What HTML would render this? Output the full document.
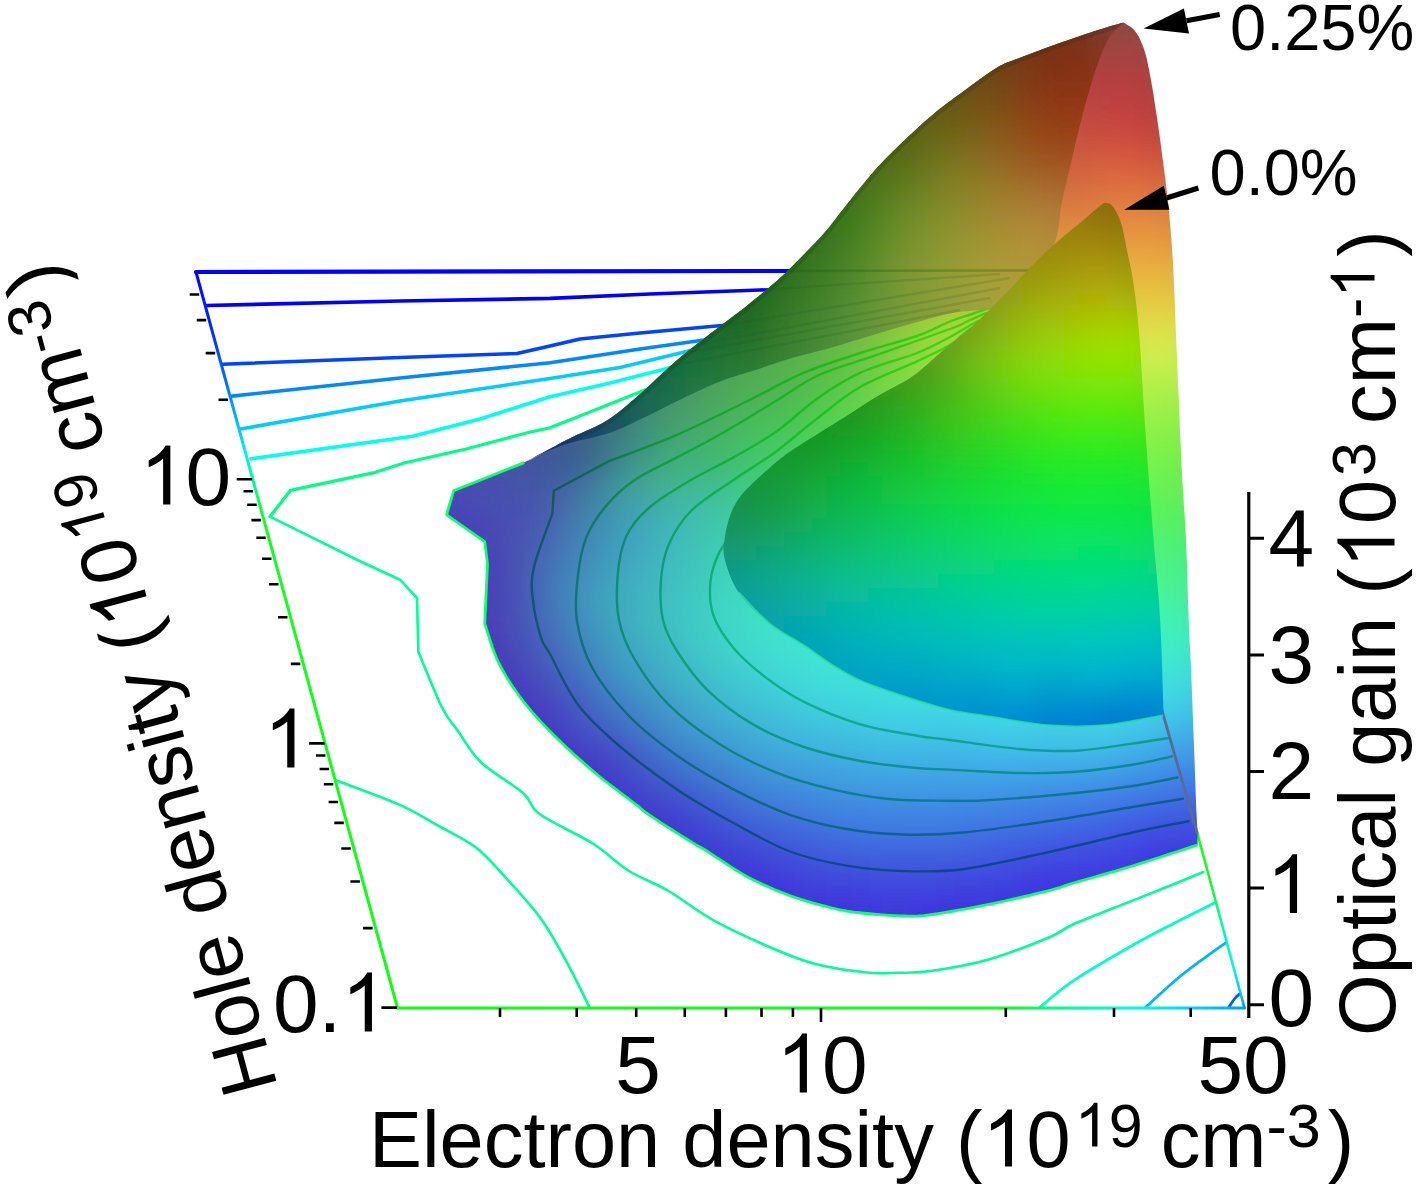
<!DOCTYPE html>
<html><head><meta charset="utf-8"><title>chart</title>
<style>html,body{margin:0;padding:0;background:#fff}svg{display:block}</style></head>
<body>
<svg width="1417" height="1188" viewBox="0 0 1417 1188">
<defs>
<clipPath id="cb"><path d="M453.6 490.8L459.2 488.6L466.9 485.6L476.1 482.0L486.3 478.1L496.7 474.0L506.9 469.9L516.2 466.0L524.2 462.6L530.9 459.5L536.8 456.5L542.2 453.6L547.3 450.7L552.0 448.0L556.8 445.3L561.5 442.6L566.5 440.0L571.7 437.5L576.8 435.1L582.0 432.8L587.0 430.6L592.1 428.3L597.0 426.0L601.8 423.4L606.5 420.7L611.0 417.8L615.3 414.7L619.5 411.5L623.5 408.2L627.6 404.8L631.6 401.3L635.8 397.7L640.0 394.0L644.3 390.2L648.7 386.2L653.1 382.0L657.6 377.8L662.0 373.6L666.5 369.5L671.0 365.4L675.4 361.5L679.8 357.8L684.2 354.1L688.6 350.6L693.1 347.1L697.5 343.6L701.9 340.2L706.3 336.7L710.7 333.3L715.1 329.9L719.5 326.5L723.9 323.2L728.3 319.9L732.8 316.6L737.2 313.3L741.6 309.9L746.0 306.4L750.5 302.8L755.0 299.1L759.6 295.4L764.1 291.6L768.6 287.9L773.0 284.1L777.3 280.4L781.4 276.7L785.4 273.0L789.2 269.3L793.0 265.5L796.7 261.8L800.2 258.2L803.6 254.7L806.8 251.5L809.7 248.4L812.3 245.7L814.6 243.4L816.6 241.3L818.5 239.3L820.4 237.3L822.3 235.2L824.4 232.8L826.7 230.0L829.3 226.9L832.0 223.5L834.8 219.9L837.6 216.2L840.6 212.3L843.7 208.4L846.8 204.4L850.0 200.4L853.3 196.3L856.7 192.1L860.2 187.8L863.8 183.4L867.4 179.0L871.0 174.7L874.6 170.5L878.2 166.5L881.7 162.7L885.3 159.0L888.8 155.4L892.3 151.9L895.9 148.4L899.4 145.0L903.0 141.7L906.5 138.3L910.0 135.0L913.6 131.7L917.1 128.4L920.6 125.2L924.1 122.0L927.7 118.9L931.2 115.9L934.7 112.9L938.2 110.1L941.6 107.4L945.0 104.8L948.4 102.2L951.9 99.7L955.4 97.1L959.1 94.5L962.9 91.7L966.9 88.7L971.2 85.6L975.7 82.3L980.2 79.0L984.7 75.8L989.0 72.8L993.1 70.0L996.8 67.7L1000.0 65.8L1002.8 64.4L1005.2 63.2L1007.6 62.3L1010.0 61.4L1012.6 60.4L1015.7 59.3L1019.4 57.9L1023.7 56.2L1028.6 54.4L1033.8 52.4L1039.3 50.4L1045.0 48.3L1050.7 46.2L1056.3 44.2L1061.7 42.3L1067.1 40.4L1072.8 38.5L1078.6 36.5L1084.3 34.6L1089.8 32.8L1095.0 31.1L1099.8 29.6L1104.0 28.2L1107.7 27.0L1110.9 26.1L1113.8 25.2L1116.4 24.5L1118.6 23.9L1120.5 23.3L1122.2 22.9L1123.5 22.5L1124.4 23.1L1125.6 23.8L1127.1 24.7L1128.7 25.7L1130.4 26.8L1132.1 28.1L1133.6 29.5L1135.0 31.0L1136.2 32.7L1137.4 34.5L1138.6 36.5L1139.7 38.6L1140.7 40.8L1141.7 43.2L1142.7 45.5L1143.6 48.0L1144.4 50.4L1145.2 52.8L1145.9 55.2L1146.5 57.7L1147.1 60.4L1147.8 63.4L1148.4 66.8L1149.2 70.6L1150.0 74.9L1150.9 79.6L1151.8 84.7L1152.7 90.0L1153.6 95.6L1154.5 101.4L1155.4 107.2L1156.3 113.0L1157.2 119.0L1158.1 125.2L1159.0 131.5L1159.9 138.0L1160.8 144.5L1161.6 151.0L1162.5 157.4L1163.3 163.7L1164.1 169.8L1164.9 175.7L1165.6 181.5L1166.3 187.3L1167.0 193.2L1167.7 199.2L1168.4 205.3L1169.0 211.7L1169.6 218.3L1170.2 225.0L1170.7 231.8L1171.3 238.8L1171.8 245.9L1172.3 253.2L1172.8 260.6L1173.2 268.2L1173.6 276.3L1174.0 284.9L1174.4 293.9L1174.8 303.0L1175.1 311.8L1175.4 320.3L1175.7 328.1L1176.0 335.0L1176.2 340.4L1176.4 344.4L1176.5 347.5L1176.7 350.4L1176.8 353.4L1177.0 357.3L1177.2 362.5L1177.5 369.7L1177.9 379.2L1178.4 390.6L1178.9 403.3L1179.4 416.9L1180.0 430.7L1180.6 444.3L1181.2 457.1L1181.7 468.5L1182.2 478.6L1182.8 487.9L1183.4 496.5L1183.9 504.9L1184.5 513.0L1185.0 521.3L1185.5 529.9L1186.0 539.0L1186.4 548.7L1186.8 558.9L1187.1 569.4L1187.4 580.0L1187.7 590.5L1188.0 600.8L1188.4 610.7L1188.7 620.0L1189.0 628.4L1189.4 635.8L1189.7 642.8L1190.1 649.5L1190.4 656.5L1190.8 664.2L1191.2 672.9L1191.6 683.0L1192.1 695.2L1192.6 709.4L1193.2 724.9L1193.8 741.0L1194.4 756.8L1194.9 771.7L1195.4 784.9L1195.8 795.8L1196.1 804.3L1196.4 811.2L1196.7 816.8L1196.9 821.3L1197.1 824.9L1197.3 828.1L1197.4 831.0L1197.5 834.0L1197.6 836.8L1197.6 838.9L1197.6 840.6L1197.6 841.9L1197.6 842.9L1197.5 843.7L1197.5 844.3L1197.5 845.0L1192.4 846.6L1185.6 848.9L1177.5 851.5L1168.6 854.4L1159.1 857.5L1149.7 860.5L1140.6 863.4L1132.3 866.0L1124.4 868.4L1116.3 870.8L1108.2 873.1L1100.3 875.4L1092.7 877.5L1085.6 879.5L1079.1 881.4L1073.5 883.0L1069.1 884.3L1066.0 885.3L1063.8 886.1L1061.9 886.8L1060.0 887.5L1057.7 888.2L1054.5 889.1L1050.0 890.3L1044.1 891.8L1037.2 893.4L1029.6 895.3L1021.4 897.2L1013.0 899.1L1004.6 901.0L996.4 902.8L988.7 904.4L981.2 905.9L973.6 907.4L966.0 908.9L958.4 910.2L951.2 911.5L944.3 912.7L938.0 913.7L932.3 914.5L927.5 915.1L923.6 915.6L920.2 915.9L917.3 916.1L914.4 916.1L911.4 916.1L908.0 916.1L904.0 916.0L899.3 915.9L894.1 915.6L888.6 915.3L882.9 914.9L877.2 914.5L871.7 914.0L866.5 913.5L861.7 913.0L857.5 912.5L853.7 912.1L850.3 911.6L846.9 911.1L843.6 910.5L840.2 909.8L836.5 909.0L832.3 908.0L827.7 906.9L822.9 905.7L817.8 904.3L812.5 902.9L807.2 901.3L801.8 899.7L796.3 897.9L791.0 896.0L785.7 894.0L780.2 891.9L774.8 889.7L769.3 887.3L763.8 884.9L758.3 882.3L752.9 879.7L747.6 876.9L742.2 873.9L736.6 870.5L730.9 866.9L725.3 863.2L719.9 859.6L714.9 856.3L710.4 853.3L706.5 850.8L703.5 849.0L701.4 847.8L699.9 846.9L698.7 846.3L697.6 845.7L696.1 844.9L694.0 843.6L691.0 841.8L686.9 839.2L681.9 836.1L676.4 832.6L670.5 828.8L664.6 825.1L659.0 821.5L654.1 818.2L650.0 815.5L647.0 813.4L644.9 811.9L643.3 810.7L642.1 809.6L640.9 808.6L639.5 807.3L637.5 805.7L634.7 803.5L631.1 800.8L627.0 797.7L622.5 794.3L617.7 790.7L612.7 786.9L607.6 783.0L602.5 779.0L597.6 775.0L592.7 770.9L587.7 766.6L582.7 762.1L577.6 757.6L572.5 753.0L567.6 748.4L562.7 743.8L558.0 739.2L553.4 734.7L548.9 730.2L544.5 725.6L540.2 721.1L536.0 716.5L531.9 711.9L528.0 707.2L524.2 702.5L520.5 697.7L517.0 692.8L513.6 687.9L510.3 682.9L507.1 677.9L504.2 672.9L501.4 668.0L498.8 663.0L496.4 657.8L494.2 652.2L492.1 646.5L490.2 640.8L488.5 635.4L487.0 630.6L485.7 626.5L484.7 623.5L487.5 564.2L484.7 541.6L446.6 514.8L453.6 490.8Z"/></clipPath>
<clipPath id="ck"><path d="M524.2 462.6L527.5 460.8L531.9 458.5L537.1 455.6L542.9 452.5L548.9 449.2L555.1 445.9L561.0 442.8L566.5 440.0L571.7 437.5L576.8 435.1L582.0 432.8L587.0 430.6L592.1 428.3L597.0 426.0L601.8 423.4L606.5 420.7L611.0 417.8L615.3 414.7L619.5 411.5L623.5 408.2L627.6 404.8L631.6 401.3L635.8 397.7L640.0 394.0L644.3 390.2L648.7 386.2L653.1 382.0L657.6 377.8L662.0 373.6L666.5 369.5L671.0 365.4L675.4 361.5L679.8 357.8L684.2 354.1L688.6 350.6L693.1 347.1L697.5 343.6L701.9 340.2L706.3 336.7L710.7 333.3L715.1 329.9L719.5 326.5L723.9 323.2L728.3 319.9L732.8 316.6L737.2 313.3L741.6 309.9L746.0 306.4L750.5 302.8L755.0 299.1L759.6 295.4L764.1 291.6L768.6 287.9L773.0 284.1L777.3 280.4L781.4 276.7L785.4 273.0L789.2 269.3L793.0 265.5L796.7 261.8L800.2 258.2L803.6 254.7L806.8 251.5L809.7 248.4L812.3 245.7L814.6 243.4L816.6 241.3L818.5 239.3L820.4 237.3L822.3 235.2L824.4 232.8L826.7 230.0L829.3 226.9L832.0 223.5L834.8 219.9L837.6 216.2L840.6 212.3L843.7 208.4L846.8 204.4L850.0 200.4L853.3 196.3L856.7 192.1L860.2 187.8L863.8 183.4L867.4 179.0L871.0 174.7L874.6 170.5L878.2 166.5L881.7 162.7L885.3 159.0L888.8 155.4L892.3 151.9L895.9 148.4L899.4 145.0L903.0 141.7L906.5 138.3L910.0 135.0L913.6 131.7L917.1 128.4L920.6 125.2L924.1 122.0L927.7 118.9L931.2 115.9L934.7 112.9L938.2 110.1L941.6 107.4L945.0 104.8L948.4 102.2L951.9 99.7L955.4 97.1L959.1 94.5L962.9 91.7L966.9 88.7L971.2 85.6L975.7 82.3L980.2 79.0L984.7 75.8L989.0 72.8L993.1 70.0L996.8 67.7L1000.0 65.8L1002.8 64.4L1005.2 63.2L1007.6 62.3L1010.0 61.4L1012.6 60.4L1015.7 59.3L1019.4 57.9L1023.7 56.2L1028.6 54.4L1033.8 52.4L1039.3 50.4L1045.0 48.3L1050.7 46.2L1056.3 44.2L1061.7 42.3L1067.1 40.4L1072.8 38.5L1078.6 36.5L1084.3 34.6L1089.8 32.8L1095.0 31.1L1099.8 29.6L1104.0 28.2L1107.7 27.0L1110.9 26.1L1113.8 25.2L1116.4 24.5L1118.6 23.9L1120.5 23.3L1122.2 22.9L1123.5 22.5L1122.4 23.5L1121.0 24.8L1119.2 26.3L1117.3 28.0L1115.3 29.9L1113.3 32.0L1111.4 34.3L1109.7 36.7L1108.2 39.3L1106.7 42.1L1105.2 45.2L1103.8 48.3L1102.4 51.7L1101.1 55.1L1099.7 58.6L1098.4 62.1L1097.1 65.7L1095.8 69.3L1094.6 73.1L1093.4 76.9L1092.1 80.9L1090.9 84.9L1089.7 89.0L1088.5 93.2L1087.3 97.5L1086.0 102.0L1084.8 106.6L1083.5 111.2L1082.3 115.9L1081.1 120.6L1079.9 125.3L1078.7 129.9L1077.6 134.5L1076.5 139.1L1075.4 143.6L1074.4 148.2L1073.3 152.8L1072.3 157.3L1071.3 161.9L1070.2 166.5L1069.1 171.1L1068.0 175.6L1066.9 180.1L1065.9 184.7L1064.8 189.2L1063.7 193.8L1062.7 198.5L1061.7 203.2L1060.9 208.0L1060.2 212.9L1059.7 217.9L1059.1 222.8L1058.4 227.9L1057.5 232.9L1056.3 237.8L1054.7 242.8L1052.7 247.8L1050.4 253.0L1047.9 258.2L1045.2 263.3L1042.2 268.4L1039.0 273.2L1035.6 277.8L1032.0 282.0L1028.2 285.9L1024.2 289.6L1019.9 293.0L1015.5 296.3L1010.8 299.2L1006.0 302.0L1001.1 304.4L996.0 306.5L990.8 308.1L985.6 309.2L980.2 309.9L974.6 310.4L968.8 310.9L962.8 311.4L956.6 312.2L950.0 313.4L943.0 315.0L935.6 316.9L927.9 319.0L920.0 321.2L912.0 323.5L904.0 325.8L896.2 328.1L888.7 330.3L881.3 332.5L873.9 334.7L866.6 336.9L859.3 339.2L852.2 341.3L845.3 343.4L838.6 345.4L832.3 347.3L826.3 349.0L820.4 350.6L814.9 352.0L809.5 353.4L804.3 354.7L799.4 356.0L794.6 357.3L790.0 358.6L785.7 359.9L781.9 361.1L778.3 362.3L774.8 363.4L771.4 364.6L767.9 365.8L764.1 367.1L760.0 368.5L755.5 369.9L750.7 371.4L745.7 373.0L740.5 374.5L735.3 376.2L730.2 377.8L725.1 379.6L720.2 381.4L715.5 383.3L710.8 385.3L706.2 387.3L701.7 389.4L697.1 391.5L692.6 393.7L688.1 395.8L683.5 398.0L678.9 400.2L674.3 402.5L669.7 404.8L665.2 407.1L660.6 409.4L656.0 411.7L651.4 414.0L646.8 416.2L642.2 418.4L637.6 420.6L633.0 422.9L628.4 425.1L623.8 427.2L619.2 429.2L614.6 431.1L610.0 432.8L605.3 434.3L600.6 435.6L595.8 436.8L591.0 437.9L586.3 438.9L581.8 439.9L577.4 440.9L573.4 442.0L569.7 443.1L566.2 444.2L563.0 445.3L559.9 446.3L556.9 447.4L554.0 448.6L551.0 449.8L548.0 451.0L544.8 452.4L541.4 454.0L537.9 455.7L534.5 457.4L531.3 459.0L528.4 460.5L526.0 461.7L524.2 462.6Z"/></clipPath>
<clipPath id="cs"><path d="M1104.0 202.7L1103.1 203.4L1101.9 204.4L1100.5 205.5L1099.0 206.7L1097.4 208.1L1095.7 209.4L1094.2 210.6L1092.8 211.8L1091.7 212.8L1090.8 213.5L1090.1 214.2L1089.3 214.9L1088.4 215.7L1087.2 216.8L1085.6 218.2L1083.4 220.0L1080.6 222.4L1077.2 225.2L1073.3 228.3L1069.2 231.7L1064.9 235.2L1060.7 238.7L1056.7 242.2L1053.0 245.4L1049.6 248.5L1046.2 251.6L1043.0 254.8L1039.8 257.9L1036.7 260.9L1033.7 263.9L1030.8 266.9L1028.0 269.7L1025.3 272.5L1022.8 275.2L1020.3 277.8L1018.0 280.4L1015.7 282.9L1013.5 285.4L1011.3 287.7L1009.2 290.0L1007.2 292.1L1005.3 294.0L1003.5 295.8L1001.8 297.5L1000.0 299.3L998.2 301.1L996.2 303.0L994.0 305.2L991.6 307.5L989.2 310.0L986.6 312.6L983.9 315.2L981.1 317.9L978.2 320.7L975.2 323.5L972.0 326.4L968.7 329.3L965.1 332.3L961.4 335.4L957.6 338.5L953.8 341.6L949.9 344.7L946.1 347.9L942.3 351.0L938.6 354.2L935.0 357.4L931.5 360.6L927.9 363.9L924.2 367.1L920.6 370.2L916.8 373.2L912.9 376.1L908.9 378.7L904.9 381.2L900.7 383.5L896.5 385.7L892.3 388.0L887.9 390.3L883.5 392.7L879.0 395.3L874.4 398.1L869.6 401.1L864.8 404.1L859.9 407.3L854.9 410.5L849.9 413.7L845.0 416.9L840.0 420.0L834.9 423.2L829.6 426.5L824.2 429.8L818.8 433.2L813.6 436.4L808.6 439.5L804.0 442.4L800.0 445.0L796.6 447.2L793.7 449.1L791.3 450.7L789.1 452.2L787.0 453.6L784.9 455.2L782.6 456.9L780.0 459.0L777.0 461.4L773.9 464.1L770.6 466.9L767.2 469.9L763.9 472.8L760.7 475.7L757.7 478.5L755.0 481.0L752.6 483.3L750.4 485.4L748.4 487.4L746.5 489.3L744.8 491.2L743.1 493.1L741.5 495.0L740.0 497.0L738.5 499.0L737.2 501.0L735.9 503.0L734.8 505.0L733.7 507.0L732.6 509.2L731.7 511.4L730.7 513.8L729.8 516.4L728.9 519.1L728.1 521.9L727.3 524.8L726.6 527.7L726.0 530.6L725.4 533.6L725.0 536.4L724.6 539.1L724.2 541.7L723.8 544.2L723.6 546.8L723.5 549.4L723.6 552.2L723.9 555.3L724.6 558.6L725.6 562.3L726.7 566.3L728.1 570.5L729.7 574.9L731.5 579.4L733.6 583.8L736.0 588.2L738.7 592.4L741.8 596.5L745.3 600.7L749.1 604.9L753.1 609.0L757.3 613.0L761.6 616.9L765.8 620.6L770.0 624.0L774.2 627.2L778.4 630.1L782.8 632.9L787.2 635.5L791.5 638.0L795.8 640.4L800.0 642.9L804.0 645.4L807.8 648.0L811.5 650.5L815.0 653.1L818.5 655.6L821.9 658.0L825.4 660.4L828.8 662.7L832.3 665.0L835.7 667.2L839.0 669.2L842.3 671.2L845.5 673.1L848.9 675.0L852.5 676.9L856.3 678.8L860.5 680.7L865.1 682.6L870.0 684.6L875.2 686.5L880.5 688.5L886.0 690.4L891.6 692.3L897.3 694.2L902.9 696.0L908.6 697.9L914.5 699.8L920.5 701.7L926.5 703.5L932.6 705.3L938.5 707.0L944.4 708.6L950.0 710.0L955.3 711.2L960.3 712.2L965.1 713.0L969.9 713.7L974.8 714.4L979.8 715.1L985.2 715.9L991.0 716.8L997.3 717.8L1004.1 719.0L1011.1 720.2L1018.3 721.5L1025.7 722.7L1033.1 723.7L1040.4 724.6L1047.6 725.3L1054.6 725.8L1061.6 726.1L1068.6 726.4L1075.6 726.4L1082.6 726.4L1089.7 726.2L1096.8 725.8L1104.0 725.3L1111.7 724.5L1120.0 723.3L1128.6 721.9L1137.2 720.4L1145.3 718.8L1152.6 717.4L1158.7 716.2L1163.3 715.4L1163.3 715.1L1163.4 715.2L1163.4 715.4L1163.5 715.4L1163.5 714.7L1163.5 713.1L1163.4 710.1L1163.3 705.5L1163.1 698.8L1162.8 690.1L1162.5 679.9L1162.2 668.9L1161.8 657.5L1161.4 646.3L1160.9 635.8L1160.5 626.5L1160.0 618.2L1159.5 610.2L1159.0 602.5L1158.4 595.2L1157.8 588.3L1157.3 581.8L1156.8 575.7L1156.3 570.0L1155.9 565.5L1155.6 562.4L1155.4 560.1L1155.2 558.0L1154.9 555.5L1154.6 551.9L1154.1 546.6L1153.5 539.0L1152.7 528.6L1151.7 516.0L1150.6 501.6L1149.4 486.2L1148.2 470.3L1147.1 454.6L1146.0 439.6L1145.0 426.0L1144.2 413.4L1143.4 400.9L1142.7 388.8L1142.0 377.0L1141.3 365.7L1140.7 355.0L1140.0 345.0L1139.3 335.8L1138.6 327.5L1137.9 320.0L1137.3 313.2L1136.6 307.1L1135.9 301.3L1135.2 295.8L1134.5 290.4L1133.7 285.0L1132.9 279.7L1132.0 274.6L1131.1 269.7L1130.2 265.1L1129.2 260.7L1128.3 256.4L1127.4 252.3L1126.6 248.4L1125.8 244.6L1125.2 241.1L1124.5 237.7L1123.9 234.5L1123.2 231.4L1122.6 228.5L1121.8 225.7L1121.0 223.0L1120.1 220.4L1119.1 217.8L1118.0 215.4L1116.9 213.1L1115.8 211.0L1114.7 209.1L1113.6 207.4L1112.5 206.0L1111.4 204.9L1110.2 204.1L1108.9 203.6L1107.7 203.3L1106.6 203.1L1105.5 203.0L1104.7 202.9L1104.0 202.7Z"/></clipPath>
<filter id="bl" filterUnits="userSpaceOnUse" x="0" y="0" width="1417" height="1188"><feGaussianBlur stdDeviation="11"/><feComponentTransfer><feFuncA type="linear" slope="8"/></feComponentTransfer></filter>
<linearGradient id="gl" gradientUnits="userSpaceOnUse" x1="0" y1="272" x2="0" y2="1008"><stop offset="0" stop-color="#0000ff"/><stop offset="0.08" stop-color="#0030ff"/><stop offset="0.15" stop-color="#0070ff"/><stop offset="0.2" stop-color="#00b8ff"/><stop offset="0.245" stop-color="#00f0f0"/><stop offset="0.285" stop-color="#00ff90"/><stop offset="0.34" stop-color="#10ff20"/><stop offset="1" stop-color="#10ff10"/></linearGradient>
<linearGradient id="gb" gradientUnits="userSpaceOnUse" x1="397" y1="0" x2="1245" y2="0"><stop offset="0" stop-color="#10ff10"/><stop offset="0.72" stop-color="#10ff20"/><stop offset="0.78" stop-color="#00ff90"/><stop offset="0.87" stop-color="#00ffe0"/><stop offset="0.93" stop-color="#00d8ff"/><stop offset="1" stop-color="#00a0ff"/></linearGradient>
<linearGradient id="gr" gradientUnits="userSpaceOnUse" x1="0" y1="834" x2="0" y2="1008"><stop offset="0" stop-color="#10ff10"/><stop offset="0.3" stop-color="#10ff30"/><stop offset="0.5" stop-color="#00ff98"/><stop offset="0.75" stop-color="#00f8f0"/><stop offset="0.92" stop-color="#00c8ff"/><stop offset="1" stop-color="#0090ff"/></linearGradient>
<linearGradient id="gc" gradientUnits="userSpaceOnUse" x1="0" y1="320" x2="0" y2="560"><stop offset="0" stop-color="#60ff50"/><stop offset="0.5" stop-color="#54f080"/><stop offset="1" stop-color="#40d8a0"/></linearGradient>
</defs>
<rect width="1417" height="1188" fill="#fff"/>
<g fill="none" stroke-linejoin="round" stroke-linecap="round">
<path d="M196.0 272.0L1040.0 270.5" stroke="#0000ff" stroke-width="4.2"/>
<path d="M206.5 305.5L400.0 301.0L550.0 298.4L650.0 294.0L760.0 290.0L860.0 287.0" stroke="#0000ff" stroke-width="3.6"/>
<path d="M222.8 364.2L400.0 357.5L517.0 353.5L550.0 345.9L580.0 339.0L640.0 333.0L760.0 322.0" stroke="#0044ff" stroke-width="3.6"/>
<path d="M231.9 396.1L400.0 378.0L550.0 362.8L640.0 349.0L740.0 335.0" stroke="#0088ff" stroke-width="3.6"/>
<path d="M240.3 429.1L400.0 401.0L550.0 378.5L620.0 367.5L730.0 341.0" stroke="#00ccff" stroke-width="3.6"/>
<path d="M250.8 458.8L412.5 436.2L480.0 419.0L550.0 396.7L610.0 383.0L720.0 355.0" stroke="#00ffee" stroke-width="3.6"/>
<path d="M270.0 516.6L290.3 490.4L373.0 472.9L404.0 463.0L466.0 449.0L528.3 432.5L550.0 427.7L600.0 408.0L690.0 372.0" stroke="#00ff88" stroke-width="3.2"/>
<path d="M270.0 516.6L357.5 560.0L400.0 579.7L417.0 598.0L418.3 651.7L418.3 651.7C422.3 661.1 435.7 694.8 442.3 708.0C448.9 721.2 451.6 722.0 458.0 731.0C464.4 740.0 469.9 751.7 480.7 762.0C491.5 772.3 513.1 784.3 523.0 793.0C532.9 801.7 528.2 805.8 540.0 814.3C551.8 822.8 578.8 834.5 593.6 844.0C608.4 853.5 616.5 863.2 629.0 871.0C641.5 878.8 653.3 882.1 668.6 891.0C683.9 899.9 697.8 912.5 720.6 924.2C743.4 935.9 781.3 953.0 805.3 961.0C829.3 969.0 849.0 970.2 864.5 972.2C880.0 974.2 887.1 973.0 898.4 972.8C909.7 972.6 917.2 973.0 932.3 970.8C947.3 968.6 969.1 965.1 988.7 959.5C1008.3 953.9 1035.9 942.9 1050.0 937.0C1064.1 931.1 1060.2 930.1 1073.5 924.2C1086.8 918.3 1113.5 908.2 1130.0 901.6C1146.5 895.0 1160.1 889.6 1172.3 884.7C1184.5 879.8 1198.1 874.1 1203.3 872.0" stroke="#00ff96" stroke-width="2.6"/>
<path d="M336.7 780.5C347.1 784.5 382.3 797.1 398.8 804.4C415.3 811.7 422.8 817.1 435.5 824.2C448.2 831.3 463.7 838.3 475.0 846.8C486.3 855.3 492.5 863.2 503.3 875.0C514.1 886.8 529.6 903.3 540.0 917.4C550.4 931.5 557.2 944.8 565.4 959.7C573.6 974.6 585.4 999.1 589.4 1007.0" stroke="#00ff96" stroke-width="2.6"/>
<path d="M1039.6 1007.5C1045.2 1003.0 1058.4 990.8 1073.5 980.7C1088.6 970.6 1113.5 956.2 1130.0 946.8C1146.5 937.4 1158.2 931.5 1172.3 924.2C1186.4 916.9 1207.5 906.5 1214.6 903.0" stroke="#00ffcc" stroke-width="2.8"/>
<path d="M1145.4 1007.5C1150.3 1003.0 1165.8 988.5 1175.0 980.7C1184.2 972.9 1192.0 967.2 1200.5 960.9C1209.0 954.5 1221.7 945.6 1225.9 942.6" stroke="#00b4ff" stroke-width="2.8"/>
<path d="M1228.7 1007.5C1229.7 1006.1 1232.5 1001.4 1234.4 999.0C1236.3 996.6 1239.1 994.3 1240.0 993.4" stroke="#0060ff" stroke-width="2.8"/>
<path d="M196.0 272.0L397.5 1008.0" stroke="url(#gl)" stroke-width="3"/>
<path d="M397.5 1008.0L1244.5 1008.0" stroke="url(#gb)" stroke-width="2.8"/>
<path d="M1197.5 834.0L1244.5 1008.0" stroke="url(#gr)" stroke-width="2.6"/>
</g>
<g clip-path="url(#cb)">
<g filter="url(#bl)">
<path d="M1120 0h15v15h-15z" fill="#8e4740"/>
<path d="M1078 14h15v15h-15z" fill="#94473e"/>
<path d="M1092 14h15v15h-15z" fill="#92473f"/>
<path d="M1106 14h15v15h-15z" fill="#90473f"/>
<path d="M1120 14h15v15h-15z" fill="#904740"/>
<path d="M1134 14h15v15h-15z" fill="#934741"/>
<path d="M1036 28h15v15h-15z" fill="#9c4a3e"/>
<path d="M1050 28h15v15h-15z" fill="#9b483e"/>
<path d="M1064 28h15v15h-15z" fill="#9a473e"/>
<path d="M1078 28h15v15h-15z" fill="#99463f"/>
<path d="M1092 28h15v15h-15z" fill="#96463f"/>
<path d="M1106 28h15v15h-15z" fill="#934740"/>
<path d="M1120 28h15v15h-15z" fill="#944741"/>
<path d="M1134 28h15v15h-15z" fill="#984642"/>
<path d="M994 42h15v15h-15z" fill="#9e503d"/>
<path d="M1008 42h15v15h-15z" fill="#9f4e3d"/>
<path d="M1022 42h15v15h-15z" fill="#a04c3e"/>
<path d="M1036 42h15v15h-15z" fill="#a04a3e"/>
<path d="M1050 42h15v15h-15z" fill="#a0483e"/>
<path d="M1064 42h15v15h-15z" fill="#a0473f"/>
<path d="M1078 42h15v15h-15z" fill="#9f463f"/>
<path d="M1092 42h15v15h-15z" fill="#9e453f"/>
<path d="M1106 42h15v15h-15z" fill="#9c4540"/>
<path d="M1120 42h15v15h-15z" fill="#9f4444"/>
<path d="M1134 42h15v15h-15z" fill="#a04443"/>
<path d="M1148 42h15v15h-15z" fill="#a04442"/>
<path d="M980 56h15v15h-15z" fill="#a0553d"/>
<path d="M994 56h15v15h-15z" fill="#a1523d"/>
<path d="M1008 56h15v15h-15z" fill="#a3503d"/>
<path d="M1022 56h15v15h-15z" fill="#a44e3e"/>
<path d="M1036 56h15v15h-15z" fill="#a54b3e"/>
<path d="M1050 56h15v15h-15z" fill="#a6493e"/>
<path d="M1064 56h15v15h-15z" fill="#a6463f"/>
<path d="M1078 56h15v15h-15z" fill="#a7443f"/>
<path d="M1092 56h15v15h-15z" fill="#a84340"/>
<path d="M1106 56h15v15h-15z" fill="#a94241"/>
<path d="M1120 56h15v15h-15z" fill="#aa4242"/>
<path d="M1134 56h15v15h-15z" fill="#a94242"/>
<path d="M1148 56h15v15h-15z" fill="#a74342"/>
<path d="M952 70h15v15h-15z" fill="#9f5c3d"/>
<path d="M966 70h15v15h-15z" fill="#a15a3d"/>
<path d="M980 70h15v15h-15z" fill="#a3573d"/>
<path d="M994 70h15v15h-15z" fill="#a5553d"/>
<path d="M1008 70h15v15h-15z" fill="#a7523d"/>
<path d="M1022 70h15v15h-15z" fill="#a94f3e"/>
<path d="M1036 70h15v15h-15z" fill="#aa4c3e"/>
<path d="M1050 70h15v15h-15z" fill="#ac493e"/>
<path d="M1064 70h15v15h-15z" fill="#ad473f"/>
<path d="M1078 70h15v15h-15z" fill="#af443f"/>
<path d="M1092 70h15v15h-15z" fill="#b14140"/>
<path d="M1106 70h15v15h-15z" fill="#b34040"/>
<path d="M1120 70h15v15h-15z" fill="#b54040"/>
<path d="M1134 70h15v15h-15z" fill="#b04141"/>
<path d="M1148 70h15v15h-15z" fill="#ac4241"/>
<path d="M938 84h15v15h-15z" fill="#9e613d"/>
<path d="M952 84h15v15h-15z" fill="#a15f3d"/>
<path d="M966 84h15v15h-15z" fill="#a45d3d"/>
<path d="M980 84h15v15h-15z" fill="#a65a3d"/>
<path d="M994 84h15v15h-15z" fill="#a9583d"/>
<path d="M1008 84h15v15h-15z" fill="#ab553d"/>
<path d="M1022 84h15v15h-15z" fill="#ad523e"/>
<path d="M1036 84h15v15h-15z" fill="#af4e3e"/>
<path d="M1050 84h15v15h-15z" fill="#b14b3f"/>
<path d="M1064 84h15v15h-15z" fill="#b3473f"/>
<path d="M1078 84h15v15h-15z" fill="#b5443f"/>
<path d="M1092 84h15v15h-15z" fill="#b84140"/>
<path d="M1106 84h15v15h-15z" fill="#ba4040"/>
<path d="M1120 84h15v15h-15z" fill="#ba4040"/>
<path d="M1134 84h15v15h-15z" fill="#b34040"/>
<path d="M1148 84h15v15h-15z" fill="#b04140"/>
<path d="M924 98h15v15h-15z" fill="#9d673d"/>
<path d="M938 98h15v15h-15z" fill="#a1653d"/>
<path d="M952 98h15v15h-15z" fill="#a4633d"/>
<path d="M966 98h15v15h-15z" fill="#a7613d"/>
<path d="M980 98h15v15h-15z" fill="#aa5e3d"/>
<path d="M994 98h15v15h-15z" fill="#ac5b3d"/>
<path d="M1008 98h15v15h-15z" fill="#af583d"/>
<path d="M1022 98h15v15h-15z" fill="#b2553e"/>
<path d="M1036 98h15v15h-15z" fill="#b4513e"/>
<path d="M1050 98h15v15h-15z" fill="#b74d3f"/>
<path d="M1064 98h15v15h-15z" fill="#b9493f"/>
<path d="M1078 98h15v15h-15z" fill="#bb4640"/>
<path d="M1092 98h15v15h-15z" fill="#be4340"/>
<path d="M1106 98h15v15h-15z" fill="#c04140"/>
<path d="M1120 98h15v15h-15z" fill="#bf4140"/>
<path d="M1134 98h15v15h-15z" fill="#ba4140"/>
<path d="M1148 98h15v15h-15z" fill="#b64240"/>
<path d="M1162 98h15v15h-15z" fill="#b54441"/>
<path d="M910 112h15v15h-15z" fill="#9c6c3d"/>
<path d="M924 112h15v15h-15z" fill="#9f6b3d"/>
<path d="M938 112h15v15h-15z" fill="#a3693c"/>
<path d="M952 112h15v15h-15z" fill="#a6673c"/>
<path d="M966 112h15v15h-15z" fill="#aa653d"/>
<path d="M980 112h15v15h-15z" fill="#ad623d"/>
<path d="M994 112h15v15h-15z" fill="#b05f3d"/>
<path d="M1008 112h15v15h-15z" fill="#b35c3d"/>
<path d="M1022 112h15v15h-15z" fill="#b6583e"/>
<path d="M1036 112h15v15h-15z" fill="#b9553e"/>
<path d="M1050 112h15v15h-15z" fill="#bc513f"/>
<path d="M1064 112h15v15h-15z" fill="#be4d3f"/>
<path d="M1078 112h15v15h-15z" fill="#c04940"/>
<path d="M1092 112h15v15h-15z" fill="#c34540"/>
<path d="M1106 112h15v15h-15z" fill="#c64540"/>
<path d="M1120 112h15v15h-15z" fill="#c74440"/>
<path d="M1134 112h15v15h-15z" fill="#c14340"/>
<path d="M1148 112h15v15h-15z" fill="#bc4340"/>
<path d="M1162 112h15v15h-15z" fill="#ba4640"/>
<path d="M896 126h15v15h-15z" fill="#99723d"/>
<path d="M910 126h15v15h-15z" fill="#9d713d"/>
<path d="M924 126h15v15h-15z" fill="#a1703c"/>
<path d="M938 126h15v15h-15z" fill="#a56e3c"/>
<path d="M952 126h15v15h-15z" fill="#a96c3c"/>
<path d="M966 126h15v15h-15z" fill="#ac6a3c"/>
<path d="M980 126h15v15h-15z" fill="#b0673d"/>
<path d="M994 126h15v15h-15z" fill="#b4643d"/>
<path d="M1008 126h15v15h-15z" fill="#b7613d"/>
<path d="M1022 126h15v15h-15z" fill="#ba5d3e"/>
<path d="M1036 126h15v15h-15z" fill="#be593e"/>
<path d="M1050 126h15v15h-15z" fill="#c1563f"/>
<path d="M1064 126h15v15h-15z" fill="#c3523f"/>
<path d="M1078 126h15v15h-15z" fill="#c64e40"/>
<path d="M1092 126h15v15h-15z" fill="#c94c40"/>
<path d="M1106 126h15v15h-15z" fill="#cb4b40"/>
<path d="M1120 126h15v15h-15z" fill="#cb4940"/>
<path d="M1134 126h15v15h-15z" fill="#c64740"/>
<path d="M1148 126h15v15h-15z" fill="#c14640"/>
<path d="M1162 126h15v15h-15z" fill="#c04a40"/>
<path d="M882 140h15v15h-15z" fill="#96783d"/>
<path d="M896 140h15v15h-15z" fill="#9a773d"/>
<path d="M910 140h15v15h-15z" fill="#9e763c"/>
<path d="M924 140h15v15h-15z" fill="#a2753c"/>
<path d="M938 140h15v15h-15z" fill="#a7733c"/>
<path d="M952 140h15v15h-15z" fill="#ab713c"/>
<path d="M966 140h15v15h-15z" fill="#af6f3c"/>
<path d="M980 140h15v15h-15z" fill="#b36c3d"/>
<path d="M994 140h15v15h-15z" fill="#b7693d"/>
<path d="M1008 140h15v15h-15z" fill="#bb663d"/>
<path d="M1022 140h15v15h-15z" fill="#be633e"/>
<path d="M1036 140h15v15h-15z" fill="#c25f3e"/>
<path d="M1050 140h15v15h-15z" fill="#c55b3f"/>
<path d="M1064 140h15v15h-15z" fill="#c8583f"/>
<path d="M1078 140h15v15h-15z" fill="#cc5540"/>
<path d="M1092 140h15v15h-15z" fill="#cf5440"/>
<path d="M1106 140h15v15h-15z" fill="#d15340"/>
<path d="M1120 140h15v15h-15z" fill="#d15140"/>
<path d="M1134 140h15v15h-15z" fill="#cd4f40"/>
<path d="M1148 140h15v15h-15z" fill="#ca4e40"/>
<path d="M1162 140h15v15h-15z" fill="#c75040"/>
<path d="M868 154h15v15h-15z" fill="#937d3d"/>
<path d="M882 154h15v15h-15z" fill="#977d3d"/>
<path d="M896 154h15v15h-15z" fill="#9b7c3c"/>
<path d="M910 154h15v15h-15z" fill="#9f7c3c"/>
<path d="M924 154h15v15h-15z" fill="#a47a3c"/>
<path d="M938 154h15v15h-15z" fill="#a8793c"/>
<path d="M952 154h15v15h-15z" fill="#ad773c"/>
<path d="M966 154h15v15h-15z" fill="#b1753c"/>
<path d="M980 154h15v15h-15z" fill="#b5723c"/>
<path d="M994 154h15v15h-15z" fill="#ba703d"/>
<path d="M1008 154h15v15h-15z" fill="#be6c3d"/>
<path d="M1022 154h15v15h-15z" fill="#c2693e"/>
<path d="M1036 154h15v15h-15z" fill="#c6653e"/>
<path d="M1050 154h15v15h-15z" fill="#ca623f"/>
<path d="M1064 154h15v15h-15z" fill="#cd5f40"/>
<path d="M1078 154h15v15h-15z" fill="#d05d40"/>
<path d="M1092 154h15v15h-15z" fill="#d45c40"/>
<path d="M1106 154h15v15h-15z" fill="#d75d40"/>
<path d="M1120 154h15v15h-15z" fill="#d75b40"/>
<path d="M1134 154h15v15h-15z" fill="#d45940"/>
<path d="M1148 154h15v15h-15z" fill="#d15740"/>
<path d="M1162 154h15v15h-15z" fill="#ce5840"/>
<path d="M854 168h15v15h-15z" fill="#8e813e"/>
<path d="M868 168h15v15h-15z" fill="#93823d"/>
<path d="M882 168h15v15h-15z" fill="#97823d"/>
<path d="M896 168h15v15h-15z" fill="#9c823c"/>
<path d="M910 168h15v15h-15z" fill="#a0813c"/>
<path d="M924 168h15v15h-15z" fill="#a5803c"/>
<path d="M938 168h15v15h-15z" fill="#aa7f3c"/>
<path d="M952 168h15v15h-15z" fill="#ae7e3c"/>
<path d="M966 168h15v15h-15z" fill="#b37c3c"/>
<path d="M980 168h15v15h-15z" fill="#b8793c"/>
<path d="M994 168h15v15h-15z" fill="#bd763d"/>
<path d="M1008 168h15v15h-15z" fill="#c1733d"/>
<path d="M1022 168h15v15h-15z" fill="#c6703e"/>
<path d="M1036 168h15v15h-15z" fill="#ca6c3f"/>
<path d="M1050 168h15v15h-15z" fill="#ce693f"/>
<path d="M1064 168h15v15h-15z" fill="#d16640"/>
<path d="M1078 168h15v15h-15z" fill="#d56540"/>
<path d="M1092 168h15v15h-15z" fill="#d86640"/>
<path d="M1106 168h15v15h-15z" fill="#da6640"/>
<path d="M1120 168h15v15h-15z" fill="#db6640"/>
<path d="M1134 168h15v15h-15z" fill="#d96440"/>
<path d="M1148 168h15v15h-15z" fill="#d66140"/>
<path d="M1162 168h15v15h-15z" fill="#d36240"/>
<path d="M840 182h15v15h-15z" fill="#8a853f"/>
<path d="M854 182h15v15h-15z" fill="#8e863e"/>
<path d="M868 182h15v15h-15z" fill="#92873d"/>
<path d="M882 182h15v15h-15z" fill="#97883c"/>
<path d="M896 182h15v15h-15z" fill="#9c883c"/>
<path d="M910 182h15v15h-15z" fill="#a1873c"/>
<path d="M924 182h15v15h-15z" fill="#a6873b"/>
<path d="M938 182h15v15h-15z" fill="#ab863b"/>
<path d="M952 182h15v15h-15z" fill="#b0843b"/>
<path d="M966 182h15v15h-15z" fill="#b5833c"/>
<path d="M980 182h15v15h-15z" fill="#ba803c"/>
<path d="M994 182h15v15h-15z" fill="#bf7e3d"/>
<path d="M1008 182h15v15h-15z" fill="#c47b3d"/>
<path d="M1022 182h15v15h-15z" fill="#c9773e"/>
<path d="M1036 182h15v15h-15z" fill="#cd743f"/>
<path d="M1050 182h15v15h-15z" fill="#d1713f"/>
<path d="M1064 182h15v15h-15z" fill="#d56e40"/>
<path d="M1078 182h15v15h-15z" fill="#d86e40"/>
<path d="M1092 182h15v15h-15z" fill="#db6f40"/>
<path d="M1106 182h15v15h-15z" fill="#dd7140"/>
<path d="M1120 182h15v15h-15z" fill="#de7240"/>
<path d="M1134 182h15v15h-15z" fill="#dc7040"/>
<path d="M1148 182h15v15h-15z" fill="#da6e40"/>
<path d="M1162 182h15v15h-15z" fill="#d76e40"/>
<path d="M826 196h15v15h-15z" fill="#848940"/>
<path d="M840 196h15v15h-15z" fill="#898b3f"/>
<path d="M854 196h15v15h-15z" fill="#8d8c3e"/>
<path d="M868 196h15v15h-15z" fill="#928d3d"/>
<path d="M882 196h15v15h-15z" fill="#978d3c"/>
<path d="M896 196h15v15h-15z" fill="#9c8e3c"/>
<path d="M910 196h15v15h-15z" fill="#a18e3b"/>
<path d="M924 196h15v15h-15z" fill="#a68e3b"/>
<path d="M938 196h15v15h-15z" fill="#ab8d3b"/>
<path d="M952 196h15v15h-15z" fill="#b18c3b"/>
<path d="M966 196h15v15h-15z" fill="#b68a3b"/>
<path d="M980 196h15v15h-15z" fill="#bb883c"/>
<path d="M994 196h15v15h-15z" fill="#c1863c"/>
<path d="M1008 196h15v15h-15z" fill="#c6833d"/>
<path d="M1022 196h15v15h-15z" fill="#cb803e"/>
<path d="M1036 196h15v15h-15z" fill="#d07d3f"/>
<path d="M1050 196h15v15h-15z" fill="#d57a3f"/>
<path d="M1064 196h15v15h-15z" fill="#d87740"/>
<path d="M1078 196h15v15h-15z" fill="#dc7740"/>
<path d="M1092 196h15v15h-15z" fill="#de7940"/>
<path d="M1106 196h15v15h-15z" fill="#e07c40"/>
<path d="M1120 196h15v15h-15z" fill="#e17e40"/>
<path d="M1134 196h15v15h-15z" fill="#e07d40"/>
<path d="M1148 196h15v15h-15z" fill="#dd7b40"/>
<path d="M1162 196h15v15h-15z" fill="#da7a40"/>
<path d="M1176 196h15v15h-15z" fill="#d87a41"/>
<path d="M812 210h15v15h-15z" fill="#7f8c41"/>
<path d="M826 210h15v15h-15z" fill="#838e40"/>
<path d="M840 210h15v15h-15z" fill="#87903f"/>
<path d="M854 210h15v15h-15z" fill="#8c913e"/>
<path d="M868 210h15v15h-15z" fill="#91933d"/>
<path d="M882 210h15v15h-15z" fill="#96943c"/>
<path d="M896 210h15v15h-15z" fill="#9b943c"/>
<path d="M910 210h15v15h-15z" fill="#a1953b"/>
<path d="M924 210h15v15h-15z" fill="#a6953b"/>
<path d="M938 210h15v15h-15z" fill="#ac943b"/>
<path d="M952 210h15v15h-15z" fill="#b1943b"/>
<path d="M966 210h15v15h-15z" fill="#b7923b"/>
<path d="M980 210h15v15h-15z" fill="#bc913c"/>
<path d="M994 210h15v15h-15z" fill="#c28e3c"/>
<path d="M1008 210h15v15h-15z" fill="#c88c3d"/>
<path d="M1022 210h15v15h-15z" fill="#ce893e"/>
<path d="M1036 210h15v15h-15z" fill="#d3863f"/>
<path d="M1050 210h15v15h-15z" fill="#d9843f"/>
<path d="M1064 210h15v15h-15z" fill="#dc8240"/>
<path d="M1078 210h15v15h-15z" fill="#df8240"/>
<path d="M1092 210h15v15h-15z" fill="#e18440"/>
<path d="M1106 210h15v15h-15z" fill="#e38640"/>
<path d="M1120 210h15v15h-15z" fill="#e48840"/>
<path d="M1134 210h15v15h-15z" fill="#e38840"/>
<path d="M1148 210h15v15h-15z" fill="#e18740"/>
<path d="M1162 210h15v15h-15z" fill="#de8540"/>
<path d="M1176 210h15v15h-15z" fill="#db8541"/>
<path d="M812 224h15v15h-15z" fill="#7d9141"/>
<path d="M826 224h15v15h-15z" fill="#819340"/>
<path d="M840 224h15v15h-15z" fill="#86953f"/>
<path d="M854 224h15v15h-15z" fill="#8b973e"/>
<path d="M868 224h15v15h-15z" fill="#90983d"/>
<path d="M882 224h15v15h-15z" fill="#959a3c"/>
<path d="M896 224h15v15h-15z" fill="#9b9b3c"/>
<path d="M910 224h15v15h-15z" fill="#a09c3b"/>
<path d="M924 224h15v15h-15z" fill="#a69c3b"/>
<path d="M938 224h15v15h-15z" fill="#ac9c3b"/>
<path d="M952 224h15v15h-15z" fill="#b19c3b"/>
<path d="M966 224h15v15h-15z" fill="#b79b3b"/>
<path d="M980 224h15v15h-15z" fill="#bd993b"/>
<path d="M994 224h15v15h-15z" fill="#c3983c"/>
<path d="M1008 224h15v15h-15z" fill="#c9953d"/>
<path d="M1022 224h15v15h-15z" fill="#cf933d"/>
<path d="M1036 224h15v15h-15z" fill="#d5903e"/>
<path d="M1050 224h15v15h-15z" fill="#dc8e3f"/>
<path d="M1064 224h15v15h-15z" fill="#e08d40"/>
<path d="M1078 224h15v15h-15z" fill="#e28e40"/>
<path d="M1092 224h15v15h-15z" fill="#e48f40"/>
<path d="M1106 224h15v15h-15z" fill="#e59140"/>
<path d="M1120 224h15v15h-15z" fill="#e69240"/>
<path d="M1134 224h15v15h-15z" fill="#e69340"/>
<path d="M1148 224h15v15h-15z" fill="#e59240"/>
<path d="M1162 224h15v15h-15z" fill="#e29040"/>
<path d="M1176 224h15v15h-15z" fill="#de8f41"/>
<path d="M798 238h15v15h-15z" fill="#779343"/>
<path d="M812 238h15v15h-15z" fill="#7b9541"/>
<path d="M826 238h15v15h-15z" fill="#7f9840"/>
<path d="M840 238h15v15h-15z" fill="#849a3f"/>
<path d="M854 238h15v15h-15z" fill="#899c3e"/>
<path d="M868 238h15v15h-15z" fill="#8e9e3d"/>
<path d="M882 238h15v15h-15z" fill="#94a03c"/>
<path d="M896 238h15v15h-15z" fill="#9aa23c"/>
<path d="M910 238h15v15h-15z" fill="#9fa33b"/>
<path d="M924 238h15v15h-15z" fill="#a5a43b"/>
<path d="M938 238h15v15h-15z" fill="#aba43a"/>
<path d="M952 238h15v15h-15z" fill="#b1a43a"/>
<path d="M966 238h15v15h-15z" fill="#b7a43b"/>
<path d="M980 238h15v15h-15z" fill="#bda33b"/>
<path d="M994 238h15v15h-15z" fill="#c3a13c"/>
<path d="M1008 238h15v15h-15z" fill="#c99f3c"/>
<path d="M1022 238h15v15h-15z" fill="#cf9d3d"/>
<path d="M1036 238h15v15h-15z" fill="#d69b3e"/>
<path d="M1050 238h15v15h-15z" fill="#dc993f"/>
<path d="M1064 238h15v15h-15z" fill="#e09940"/>
<path d="M1078 238h15v15h-15z" fill="#e39940"/>
<path d="M1092 238h15v15h-15z" fill="#e59b40"/>
<path d="M1106 238h15v15h-15z" fill="#e79c40"/>
<path d="M1120 238h15v15h-15z" fill="#e89d40"/>
<path d="M1134 238h15v15h-15z" fill="#e89e40"/>
<path d="M1148 238h15v15h-15z" fill="#e79d40"/>
<path d="M1162 238h15v15h-15z" fill="#e49a40"/>
<path d="M1176 238h15v15h-15z" fill="#e09a41"/>
<path d="M784 252h15v15h-15z" fill="#719445"/>
<path d="M798 252h15v15h-15z" fill="#749743"/>
<path d="M812 252h15v15h-15z" fill="#789a42"/>
<path d="M826 252h15v15h-15z" fill="#7d9d40"/>
<path d="M840 252h15v15h-15z" fill="#829f3f"/>
<path d="M854 252h15v15h-15z" fill="#87a23e"/>
<path d="M868 252h15v15h-15z" fill="#8da43d"/>
<path d="M882 252h15v15h-15z" fill="#92a73c"/>
<path d="M896 252h15v15h-15z" fill="#98a93c"/>
<path d="M910 252h15v15h-15z" fill="#9eaa3b"/>
<path d="M924 252h15v15h-15z" fill="#a4ac3b"/>
<path d="M938 252h15v15h-15z" fill="#aaad3a"/>
<path d="M952 252h15v15h-15z" fill="#b0ad3a"/>
<path d="M966 252h15v15h-15z" fill="#b6ad3a"/>
<path d="M980 252h15v15h-15z" fill="#bcac3b"/>
<path d="M994 252h15v15h-15z" fill="#c2ab3b"/>
<path d="M1008 252h15v15h-15z" fill="#c8aa3c"/>
<path d="M1022 252h15v15h-15z" fill="#cea83d"/>
<path d="M1036 252h15v15h-15z" fill="#d4a63e"/>
<path d="M1050 252h15v15h-15z" fill="#daa53f"/>
<path d="M1064 252h15v15h-15z" fill="#dea53f"/>
<path d="M1078 252h15v15h-15z" fill="#e2a53f"/>
<path d="M1092 252h15v15h-15z" fill="#e4a63f"/>
<path d="M1106 252h15v15h-15z" fill="#e7a73f"/>
<path d="M1120 252h15v15h-15z" fill="#e8a83f"/>
<path d="M1134 252h15v15h-15z" fill="#e9a840"/>
<path d="M1148 252h15v15h-15z" fill="#e8a740"/>
<path d="M1162 252h15v15h-15z" fill="#e5a641"/>
<path d="M1176 252h15v15h-15z" fill="#e1a542"/>
<path d="M756 266h15v15h-15z" fill="#689249"/>
<path d="M770 266h15v15h-15z" fill="#6b9547"/>
<path d="M784 266h15v15h-15z" fill="#6e9845"/>
<path d="M798 266h15v15h-15z" fill="#729c44"/>
<path d="M812 266h15v15h-15z" fill="#769f42"/>
<path d="M826 266h15v15h-15z" fill="#7aa241"/>
<path d="M840 266h15v15h-15z" fill="#7fa540"/>
<path d="M854 266h15v15h-15z" fill="#85a83e"/>
<path d="M868 266h15v15h-15z" fill="#8aaa3d"/>
<path d="M882 266h15v15h-15z" fill="#90ad3c"/>
<path d="M896 266h15v15h-15z" fill="#97b03c"/>
<path d="M910 266h15v15h-15z" fill="#9db23b"/>
<path d="M924 266h15v15h-15z" fill="#a3b33b"/>
<path d="M938 266h15v15h-15z" fill="#aab53a"/>
<path d="M952 266h15v15h-15z" fill="#afb63a"/>
<path d="M966 266h15v15h-15z" fill="#b5b63a"/>
<path d="M980 266h15v15h-15z" fill="#bab63a"/>
<path d="M994 266h15v15h-15z" fill="#c0b53b"/>
<path d="M1008 266h15v15h-15z" fill="#c6b43c"/>
<path d="M1022 266h15v15h-15z" fill="#ccb23d"/>
<path d="M1036 266h15v15h-15z" fill="#d2b13e"/>
<path d="M1050 266h15v15h-15z" fill="#d7b03e"/>
<path d="M1064 266h15v15h-15z" fill="#dcb03f"/>
<path d="M1078 266h15v15h-15z" fill="#e0b03f"/>
<path d="M1092 266h15v15h-15z" fill="#e3b13f"/>
<path d="M1106 266h15v15h-15z" fill="#e5b23f"/>
<path d="M1120 266h15v15h-15z" fill="#e8b33f"/>
<path d="M1134 266h15v15h-15z" fill="#e9b340"/>
<path d="M1148 266h15v15h-15z" fill="#e8b240"/>
<path d="M1162 266h15v15h-15z" fill="#e5b242"/>
<path d="M1176 266h15v15h-15z" fill="#e1b144"/>
<path d="M742 280h15v15h-15z" fill="#62924b"/>
<path d="M756 280h15v15h-15z" fill="#659649"/>
<path d="M770 280h15v15h-15z" fill="#689947"/>
<path d="M784 280h15v15h-15z" fill="#6b9c46"/>
<path d="M798 280h15v15h-15z" fill="#6ea044"/>
<path d="M812 280h15v15h-15z" fill="#72a343"/>
<path d="M826 280h15v15h-15z" fill="#77a641"/>
<path d="M840 280h15v15h-15z" fill="#7caa40"/>
<path d="M854 280h15v15h-15z" fill="#82ad3f"/>
<path d="M868 280h15v15h-15z" fill="#88b03e"/>
<path d="M882 280h15v15h-15z" fill="#8eb33d"/>
<path d="M896 280h15v15h-15z" fill="#95b63c"/>
<path d="M910 280h15v15h-15z" fill="#9cb93b"/>
<path d="M924 280h15v15h-15z" fill="#a2bb3b"/>
<path d="M938 280h15v15h-15z" fill="#a8bd3a"/>
<path d="M952 280h15v15h-15z" fill="#aebe3a"/>
<path d="M966 280h15v15h-15z" fill="#b3bf3a"/>
<path d="M980 280h15v15h-15z" fill="#b8c03a"/>
<path d="M994 280h15v15h-15z" fill="#bebf3b"/>
<path d="M1008 280h15v15h-15z" fill="#c4bd3c"/>
<path d="M1022 280h15v15h-15z" fill="#c9bc3d"/>
<path d="M1036 280h15v15h-15z" fill="#cfbb3e"/>
<path d="M1050 280h15v15h-15z" fill="#d4bb3e"/>
<path d="M1064 280h15v15h-15z" fill="#d8bb3f"/>
<path d="M1078 280h15v15h-15z" fill="#ddbb3f"/>
<path d="M1092 280h15v15h-15z" fill="#e0bc40"/>
<path d="M1106 280h15v15h-15z" fill="#e3bd40"/>
<path d="M1120 280h15v15h-15z" fill="#e6bd40"/>
<path d="M1134 280h15v15h-15z" fill="#e8be40"/>
<path d="M1148 280h15v15h-15z" fill="#e8be40"/>
<path d="M1162 280h15v15h-15z" fill="#e5bd43"/>
<path d="M1176 280h15v15h-15z" fill="#e1bc45"/>
<path d="M728 294h15v15h-15z" fill="#5d924e"/>
<path d="M742 294h15v15h-15z" fill="#5f964c"/>
<path d="M756 294h15v15h-15z" fill="#62994a"/>
<path d="M770 294h15v15h-15z" fill="#659d48"/>
<path d="M784 294h15v15h-15z" fill="#68a147"/>
<path d="M798 294h15v15h-15z" fill="#6ba445"/>
<path d="M812 294h15v15h-15z" fill="#6fa743"/>
<path d="M826 294h15v15h-15z" fill="#74ab42"/>
<path d="M840 294h15v15h-15z" fill="#79af41"/>
<path d="M854 294h15v15h-15z" fill="#7eb23f"/>
<path d="M868 294h15v15h-15z" fill="#85b63e"/>
<path d="M882 294h15v15h-15z" fill="#8cb93d"/>
<path d="M896 294h15v15h-15z" fill="#93bd3d"/>
<path d="M910 294h15v15h-15z" fill="#9ac03c"/>
<path d="M924 294h15v15h-15z" fill="#a1c33b"/>
<path d="M938 294h15v15h-15z" fill="#a7c53a"/>
<path d="M952 294h15v15h-15z" fill="#adc73a"/>
<path d="M966 294h15v15h-15z" fill="#b2c83a"/>
<path d="M980 294h15v15h-15z" fill="#b6c93a"/>
<path d="M994 294h15v15h-15z" fill="#bbc83b"/>
<path d="M1008 294h15v15h-15z" fill="#c1c73c"/>
<path d="M1022 294h15v15h-15z" fill="#c6c53d"/>
<path d="M1036 294h15v15h-15z" fill="#cbc53e"/>
<path d="M1050 294h15v15h-15z" fill="#d0c43f"/>
<path d="M1064 294h15v15h-15z" fill="#d4c53f"/>
<path d="M1078 294h15v15h-15z" fill="#d9c540"/>
<path d="M1092 294h15v15h-15z" fill="#ddc641"/>
<path d="M1106 294h15v15h-15z" fill="#e0c741"/>
<path d="M1120 294h15v15h-15z" fill="#e3c841"/>
<path d="M1134 294h15v15h-15z" fill="#e5c942"/>
<path d="M1148 294h15v15h-15z" fill="#e6c943"/>
<path d="M1162 294h15v15h-15z" fill="#e3c945"/>
<path d="M1176 294h15v15h-15z" fill="#dfc747"/>
<path d="M714 308h15v15h-15z" fill="#599252"/>
<path d="M728 308h15v15h-15z" fill="#5b964f"/>
<path d="M742 308h15v15h-15z" fill="#5d994d"/>
<path d="M756 308h15v15h-15z" fill="#5f9d4b"/>
<path d="M770 308h15v15h-15z" fill="#61a149"/>
<path d="M784 308h15v15h-15z" fill="#64a447"/>
<path d="M798 308h15v15h-15z" fill="#67a846"/>
<path d="M812 308h15v15h-15z" fill="#6bac44"/>
<path d="M826 308h15v15h-15z" fill="#70af43"/>
<path d="M840 308h15v15h-15z" fill="#75b341"/>
<path d="M854 308h15v15h-15z" fill="#7bb740"/>
<path d="M868 308h15v15h-15z" fill="#81bb3f"/>
<path d="M882 308h15v15h-15z" fill="#89bf3e"/>
<path d="M896 308h15v15h-15z" fill="#90c33d"/>
<path d="M910 308h15v15h-15z" fill="#98c73d"/>
<path d="M924 308h15v15h-15z" fill="#9fca3c"/>
<path d="M938 308h15v15h-15z" fill="#a6cc3b"/>
<path d="M952 308h15v15h-15z" fill="#acce3a"/>
<path d="M966 308h15v15h-15z" fill="#b1cf3a"/>
<path d="M980 308h15v15h-15z" fill="#b4d03b"/>
<path d="M994 308h15v15h-15z" fill="#b8cf3c"/>
<path d="M1008 308h15v15h-15z" fill="#bdcf3d"/>
<path d="M1022 308h15v15h-15z" fill="#c2ce3e"/>
<path d="M1036 308h15v15h-15z" fill="#c7cd3f"/>
<path d="M1050 308h15v15h-15z" fill="#cbcd3f"/>
<path d="M1064 308h15v15h-15z" fill="#d0ce40"/>
<path d="M1078 308h15v15h-15z" fill="#d4cf41"/>
<path d="M1092 308h15v15h-15z" fill="#d8d042"/>
<path d="M1106 308h15v15h-15z" fill="#dcd142"/>
<path d="M1120 308h15v15h-15z" fill="#dfd343"/>
<path d="M1134 308h15v15h-15z" fill="#e2d444"/>
<path d="M1148 308h15v15h-15z" fill="#e3d545"/>
<path d="M1162 308h15v15h-15z" fill="#e1d448"/>
<path d="M1176 308h15v15h-15z" fill="#dcd249"/>
<path d="M686 322h15v15h-15z" fill="#538c58"/>
<path d="M700 322h15v15h-15z" fill="#559156"/>
<path d="M714 322h15v15h-15z" fill="#569553"/>
<path d="M728 322h15v15h-15z" fill="#589951"/>
<path d="M742 322h15v15h-15z" fill="#5a9d4e"/>
<path d="M756 322h15v15h-15z" fill="#5ca14c"/>
<path d="M770 322h15v15h-15z" fill="#5ea54a"/>
<path d="M784 322h15v15h-15z" fill="#60a849"/>
<path d="M798 322h15v15h-15z" fill="#63ac47"/>
<path d="M812 322h15v15h-15z" fill="#67b045"/>
<path d="M826 322h15v15h-15z" fill="#6bb444"/>
<path d="M840 322h15v15h-15z" fill="#70b843"/>
<path d="M854 322h15v15h-15z" fill="#77bc41"/>
<path d="M868 322h15v15h-15z" fill="#7ec040"/>
<path d="M882 322h15v15h-15z" fill="#85c53f"/>
<path d="M896 322h15v15h-15z" fill="#8dc93e"/>
<path d="M910 322h15v15h-15z" fill="#96ce3e"/>
<path d="M924 322h15v15h-15z" fill="#9ed13d"/>
<path d="M938 322h15v15h-15z" fill="#a5d33c"/>
<path d="M952 322h15v15h-15z" fill="#aad43b"/>
<path d="M966 322h15v15h-15z" fill="#aed53b"/>
<path d="M980 322h15v15h-15z" fill="#b2d63c"/>
<path d="M994 322h15v15h-15z" fill="#b5d63d"/>
<path d="M1008 322h15v15h-15z" fill="#b9d53e"/>
<path d="M1022 322h15v15h-15z" fill="#bed53f"/>
<path d="M1036 322h15v15h-15z" fill="#c2d540"/>
<path d="M1050 322h15v15h-15z" fill="#c6d540"/>
<path d="M1064 322h15v15h-15z" fill="#cad641"/>
<path d="M1078 322h15v15h-15z" fill="#ced742"/>
<path d="M1092 322h15v15h-15z" fill="#d2d843"/>
<path d="M1106 322h15v15h-15z" fill="#d6da44"/>
<path d="M1120 322h15v15h-15z" fill="#dadc45"/>
<path d="M1134 322h15v15h-15z" fill="#ddde46"/>
<path d="M1148 322h15v15h-15z" fill="#e0df48"/>
<path d="M1162 322h15v15h-15z" fill="#dddf4b"/>
<path d="M1176 322h15v15h-15z" fill="#d8dc4c"/>
<path d="M672 336h15v15h-15z" fill="#4f8a5d"/>
<path d="M686 336h15v15h-15z" fill="#518f5a"/>
<path d="M700 336h15v15h-15z" fill="#529457"/>
<path d="M714 336h15v15h-15z" fill="#549955"/>
<path d="M728 336h15v15h-15z" fill="#559d52"/>
<path d="M742 336h15v15h-15z" fill="#57a150"/>
<path d="M756 336h15v15h-15z" fill="#59a54e"/>
<path d="M770 336h15v15h-15z" fill="#5aa84c"/>
<path d="M784 336h15v15h-15z" fill="#5dac4a"/>
<path d="M798 336h15v15h-15z" fill="#5fb048"/>
<path d="M812 336h15v15h-15z" fill="#63b447"/>
<path d="M826 336h15v15h-15z" fill="#67b845"/>
<path d="M840 336h15v15h-15z" fill="#6cbc44"/>
<path d="M854 336h15v15h-15z" fill="#72c042"/>
<path d="M868 336h15v15h-15z" fill="#7ac541"/>
<path d="M882 336h15v15h-15z" fill="#81c940"/>
<path d="M896 336h15v15h-15z" fill="#8bce3f"/>
<path d="M910 336h15v15h-15z" fill="#93d33e"/>
<path d="M924 336h15v15h-15z" fill="#9cd63d"/>
<path d="M938 336h15v15h-15z" fill="#a4d83c"/>
<path d="M952 336h15v15h-15z" fill="#a7d93d"/>
<path d="M966 336h15v15h-15z" fill="#abda3d"/>
<path d="M980 336h15v15h-15z" fill="#aedb3e"/>
<path d="M994 336h15v15h-15z" fill="#b1db3f"/>
<path d="M1008 336h15v15h-15z" fill="#b5dc3f"/>
<path d="M1022 336h15v15h-15z" fill="#b9dc40"/>
<path d="M1036 336h15v15h-15z" fill="#bcdc41"/>
<path d="M1050 336h15v15h-15z" fill="#c0dc42"/>
<path d="M1064 336h15v15h-15z" fill="#c4dd43"/>
<path d="M1078 336h15v15h-15z" fill="#c8de43"/>
<path d="M1092 336h15v15h-15z" fill="#cbe044"/>
<path d="M1106 336h15v15h-15z" fill="#cfe245"/>
<path d="M1120 336h15v15h-15z" fill="#d2e447"/>
<path d="M1134 336h15v15h-15z" fill="#d6e749"/>
<path d="M1148 336h15v15h-15z" fill="#d8e94c"/>
<path d="M1162 336h15v15h-15z" fill="#d6e84e"/>
<path d="M1176 336h15v15h-15z" fill="#d1e34e"/>
<path d="M658 350h15v15h-15z" fill="#4c8862"/>
<path d="M672 350h15v15h-15z" fill="#4d8d5f"/>
<path d="M686 350h15v15h-15z" fill="#4f935c"/>
<path d="M700 350h15v15h-15z" fill="#509859"/>
<path d="M714 350h15v15h-15z" fill="#529c56"/>
<path d="M728 350h15v15h-15z" fill="#53a154"/>
<path d="M742 350h15v15h-15z" fill="#54a551"/>
<path d="M756 350h15v15h-15z" fill="#55a84f"/>
<path d="M770 350h15v15h-15z" fill="#57ac4d"/>
<path d="M784 350h15v15h-15z" fill="#59b04b"/>
<path d="M798 350h15v15h-15z" fill="#5bb44a"/>
<path d="M812 350h15v15h-15z" fill="#5eb748"/>
<path d="M826 350h15v15h-15z" fill="#62bb47"/>
<path d="M840 350h15v15h-15z" fill="#67bf46"/>
<path d="M854 350h15v15h-15z" fill="#6ec444"/>
<path d="M868 350h15v15h-15z" fill="#76c942"/>
<path d="M882 350h15v15h-15z" fill="#7fce41"/>
<path d="M896 350h15v15h-15z" fill="#88d340"/>
<path d="M910 350h15v15h-15z" fill="#90d73f"/>
<path d="M924 350h15v15h-15z" fill="#98da3f"/>
<path d="M938 350h15v15h-15z" fill="#9fdc3e"/>
<path d="M952 350h15v15h-15z" fill="#a3de3f"/>
<path d="M966 350h15v15h-15z" fill="#a6df3f"/>
<path d="M980 350h15v15h-15z" fill="#a9e040"/>
<path d="M994 350h15v15h-15z" fill="#ace041"/>
<path d="M1008 350h15v15h-15z" fill="#afe142"/>
<path d="M1022 350h15v15h-15z" fill="#b3e142"/>
<path d="M1036 350h15v15h-15z" fill="#b6e243"/>
<path d="M1050 350h15v15h-15z" fill="#b9e243"/>
<path d="M1064 350h15v15h-15z" fill="#bde344"/>
<path d="M1078 350h15v15h-15z" fill="#c0e545"/>
<path d="M1092 350h15v15h-15z" fill="#c3e646"/>
<path d="M1106 350h15v15h-15z" fill="#c6e847"/>
<path d="M1120 350h15v15h-15z" fill="#c9ea48"/>
<path d="M1134 350h15v15h-15z" fill="#cced4b"/>
<path d="M1148 350h15v15h-15z" fill="#ceef4e"/>
<path d="M1162 350h15v15h-15z" fill="#cced4f"/>
<path d="M1176 350h15v15h-15z" fill="#c8e84e"/>
<path d="M644 364h15v15h-15z" fill="#498568"/>
<path d="M658 364h15v15h-15z" fill="#4a8b65"/>
<path d="M672 364h15v15h-15z" fill="#4b9161"/>
<path d="M686 364h15v15h-15z" fill="#4d965e"/>
<path d="M700 364h15v15h-15z" fill="#4e9b5b"/>
<path d="M714 364h15v15h-15z" fill="#50a058"/>
<path d="M728 364h15v15h-15z" fill="#51a455"/>
<path d="M742 364h15v15h-15z" fill="#52a953"/>
<path d="M756 364h15v15h-15z" fill="#53ac51"/>
<path d="M770 364h15v15h-15z" fill="#54b04f"/>
<path d="M784 364h15v15h-15z" fill="#55b44d"/>
<path d="M798 364h15v15h-15z" fill="#57b74b"/>
<path d="M812 364h15v15h-15z" fill="#5abb4a"/>
<path d="M826 364h15v15h-15z" fill="#5ebf48"/>
<path d="M840 364h15v15h-15z" fill="#61c348"/>
<path d="M854 364h15v15h-15z" fill="#6ac846"/>
<path d="M868 364h15v15h-15z" fill="#73cd44"/>
<path d="M882 364h15v15h-15z" fill="#7cd243"/>
<path d="M896 364h15v15h-15z" fill="#85d742"/>
<path d="M910 364h15v15h-15z" fill="#8cdb42"/>
<path d="M924 364h15v15h-15z" fill="#93de42"/>
<path d="M938 364h15v15h-15z" fill="#98e042"/>
<path d="M952 364h15v15h-15z" fill="#9de242"/>
<path d="M966 364h15v15h-15z" fill="#a0e343"/>
<path d="M980 364h15v15h-15z" fill="#a3e443"/>
<path d="M994 364h15v15h-15z" fill="#a6e544"/>
<path d="M1008 364h15v15h-15z" fill="#a9e644"/>
<path d="M1022 364h15v15h-15z" fill="#ace645"/>
<path d="M1036 364h15v15h-15z" fill="#afe745"/>
<path d="M1050 364h15v15h-15z" fill="#b2e845"/>
<path d="M1064 364h15v15h-15z" fill="#b5e946"/>
<path d="M1078 364h15v15h-15z" fill="#b8ea46"/>
<path d="M1092 364h15v15h-15z" fill="#baeb47"/>
<path d="M1106 364h15v15h-15z" fill="#bced48"/>
<path d="M1120 364h15v15h-15z" fill="#beee49"/>
<path d="M1134 364h15v15h-15z" fill="#c0f04b"/>
<path d="M1148 364h15v15h-15z" fill="#c1f14d"/>
<path d="M1162 364h15v15h-15z" fill="#bfef4d"/>
<path d="M1176 364h15v15h-15z" fill="#bdeb4e"/>
<path d="M630 378h15v15h-15z" fill="#45816f"/>
<path d="M644 378h15v15h-15z" fill="#46886b"/>
<path d="M658 378h15v15h-15z" fill="#488e67"/>
<path d="M672 378h15v15h-15z" fill="#499464"/>
<path d="M686 378h15v15h-15z" fill="#4b9a61"/>
<path d="M700 378h15v15h-15z" fill="#4c9f5d"/>
<path d="M714 378h15v15h-15z" fill="#4ea45a"/>
<path d="M728 378h15v15h-15z" fill="#4fa957"/>
<path d="M742 378h15v15h-15z" fill="#4fad55"/>
<path d="M756 378h15v15h-15z" fill="#50b152"/>
<path d="M770 378h15v15h-15z" fill="#50b451"/>
<path d="M784 378h15v15h-15z" fill="#52b74f"/>
<path d="M798 378h15v15h-15z" fill="#54bb4d"/>
<path d="M812 378h15v15h-15z" fill="#57c04b"/>
<path d="M826 378h15v15h-15z" fill="#5bc449"/>
<path d="M840 378h15v15h-15z" fill="#60c848"/>
<path d="M854 378h15v15h-15z" fill="#68cc46"/>
<path d="M868 378h15v15h-15z" fill="#70d146"/>
<path d="M882 378h15v15h-15z" fill="#78d646"/>
<path d="M896 378h15v15h-15z" fill="#7fda45"/>
<path d="M910 378h15v15h-15z" fill="#86de45"/>
<path d="M924 378h15v15h-15z" fill="#8de145"/>
<path d="M938 378h15v15h-15z" fill="#92e346"/>
<path d="M952 378h15v15h-15z" fill="#96e546"/>
<path d="M966 378h15v15h-15z" fill="#9ae746"/>
<path d="M980 378h15v15h-15z" fill="#9de847"/>
<path d="M994 378h15v15h-15z" fill="#a0e947"/>
<path d="M1008 378h15v15h-15z" fill="#a3ea47"/>
<path d="M1022 378h15v15h-15z" fill="#a5ea47"/>
<path d="M1036 378h15v15h-15z" fill="#a8eb48"/>
<path d="M1050 378h15v15h-15z" fill="#aaec48"/>
<path d="M1064 378h15v15h-15z" fill="#aded48"/>
<path d="M1078 378h15v15h-15z" fill="#afee48"/>
<path d="M1092 378h15v15h-15z" fill="#b0ef48"/>
<path d="M1106 378h15v15h-15z" fill="#b2f048"/>
<path d="M1120 378h15v15h-15z" fill="#b3f149"/>
<path d="M1134 378h15v15h-15z" fill="#b3f14a"/>
<path d="M1148 378h15v15h-15z" fill="#b3f14a"/>
<path d="M1162 378h15v15h-15z" fill="#b2ef4b"/>
<path d="M1176 378h15v15h-15z" fill="#b1ec4c"/>
<path d="M616 392h15v15h-15z" fill="#427b75"/>
<path d="M630 392h15v15h-15z" fill="#438372"/>
<path d="M644 392h15v15h-15z" fill="#448b6e"/>
<path d="M658 392h15v15h-15z" fill="#46926b"/>
<path d="M672 392h15v15h-15z" fill="#489867"/>
<path d="M686 392h15v15h-15z" fill="#499e63"/>
<path d="M700 392h15v15h-15z" fill="#4ba360"/>
<path d="M714 392h15v15h-15z" fill="#4ca85d"/>
<path d="M728 392h15v15h-15z" fill="#4dad5a"/>
<path d="M742 392h15v15h-15z" fill="#4db157"/>
<path d="M756 392h15v15h-15z" fill="#4db555"/>
<path d="M770 392h15v15h-15z" fill="#4eb853"/>
<path d="M784 392h15v15h-15z" fill="#4ebc51"/>
<path d="M798 392h15v15h-15z" fill="#51c04f"/>
<path d="M812 392h15v15h-15z" fill="#55c54c"/>
<path d="M826 392h15v15h-15z" fill="#59c94b"/>
<path d="M840 392h15v15h-15z" fill="#5fcd4b"/>
<path d="M854 392h15v15h-15z" fill="#66d14a"/>
<path d="M868 392h15v15h-15z" fill="#6dd54a"/>
<path d="M882 392h15v15h-15z" fill="#74da4a"/>
<path d="M896 392h15v15h-15z" fill="#7ade4a"/>
<path d="M910 392h15v15h-15z" fill="#81e14a"/>
<path d="M924 392h15v15h-15z" fill="#86e44a"/>
<path d="M938 392h15v15h-15z" fill="#8be64a"/>
<path d="M952 392h15v15h-15z" fill="#90e84a"/>
<path d="M966 392h15v15h-15z" fill="#93ea4a"/>
<path d="M980 392h15v15h-15z" fill="#97eb4a"/>
<path d="M994 392h15v15h-15z" fill="#99ec4b"/>
<path d="M1008 392h15v15h-15z" fill="#9ced4b"/>
<path d="M1022 392h15v15h-15z" fill="#9eee4b"/>
<path d="M1036 392h15v15h-15z" fill="#a0ef4b"/>
<path d="M1050 392h15v15h-15z" fill="#a2f04a"/>
<path d="M1064 392h15v15h-15z" fill="#a4f04a"/>
<path d="M1078 392h15v15h-15z" fill="#a5f14a"/>
<path d="M1092 392h15v15h-15z" fill="#a6f249"/>
<path d="M1106 392h15v15h-15z" fill="#a7f249"/>
<path d="M1120 392h15v15h-15z" fill="#a7f249"/>
<path d="M1134 392h15v15h-15z" fill="#a7f249"/>
<path d="M1148 392h15v15h-15z" fill="#a6f148"/>
<path d="M1162 392h15v15h-15z" fill="#a5ef49"/>
<path d="M1176 392h15v15h-15z" fill="#a5ec4b"/>
<path d="M588 406h15v15h-15z" fill="#3f6c80"/>
<path d="M602 406h15v15h-15z" fill="#3f747c"/>
<path d="M616 406h15v15h-15z" fill="#407d79"/>
<path d="M630 406h15v15h-15z" fill="#418676"/>
<path d="M644 406h15v15h-15z" fill="#428e72"/>
<path d="M658 406h15v15h-15z" fill="#44966e"/>
<path d="M672 406h15v15h-15z" fill="#469d6a"/>
<path d="M686 406h15v15h-15z" fill="#48a267"/>
<path d="M700 406h15v15h-15z" fill="#49a763"/>
<path d="M714 406h15v15h-15z" fill="#4aad60"/>
<path d="M728 406h15v15h-15z" fill="#4bb25d"/>
<path d="M742 406h15v15h-15z" fill="#4bb65a"/>
<path d="M756 406h15v15h-15z" fill="#4bba57"/>
<path d="M770 406h15v15h-15z" fill="#4bbd55"/>
<path d="M784 406h15v15h-15z" fill="#4cc153"/>
<path d="M798 406h15v15h-15z" fill="#4fc551"/>
<path d="M812 406h15v15h-15z" fill="#53ca4f"/>
<path d="M826 406h15v15h-15z" fill="#57ce4f"/>
<path d="M840 406h15v15h-15z" fill="#5dd24f"/>
<path d="M854 406h15v15h-15z" fill="#63d54f"/>
<path d="M868 406h15v15h-15z" fill="#69d94f"/>
<path d="M882 406h15v15h-15z" fill="#70dd4f"/>
<path d="M896 406h15v15h-15z" fill="#76e14f"/>
<path d="M910 406h15v15h-15z" fill="#7be44f"/>
<path d="M924 406h15v15h-15z" fill="#81e74f"/>
<path d="M938 406h15v15h-15z" fill="#85e94f"/>
<path d="M952 406h15v15h-15z" fill="#89eb4f"/>
<path d="M966 406h15v15h-15z" fill="#8ded4f"/>
<path d="M980 406h15v15h-15z" fill="#90ee4f"/>
<path d="M994 406h15v15h-15z" fill="#92ef4f"/>
<path d="M1008 406h15v15h-15z" fill="#95f04f"/>
<path d="M1022 406h15v15h-15z" fill="#97f14e"/>
<path d="M1036 406h15v15h-15z" fill="#99f24e"/>
<path d="M1050 406h15v15h-15z" fill="#9af34d"/>
<path d="M1064 406h15v15h-15z" fill="#9bf34d"/>
<path d="M1078 406h15v15h-15z" fill="#9cf44c"/>
<path d="M1092 406h15v15h-15z" fill="#9df44b"/>
<path d="M1106 406h15v15h-15z" fill="#9df44a"/>
<path d="M1120 406h15v15h-15z" fill="#9cf449"/>
<path d="M1134 406h15v15h-15z" fill="#9bf348"/>
<path d="M1148 406h15v15h-15z" fill="#9af148"/>
<path d="M1162 406h15v15h-15z" fill="#99ef48"/>
<path d="M1176 406h15v15h-15z" fill="#99ed4a"/>
<path d="M560 420h15v15h-15z" fill="#3f5e8a"/>
<path d="M574 420h15v15h-15z" fill="#3e6487"/>
<path d="M588 420h15v15h-15z" fill="#3d6b83"/>
<path d="M602 420h15v15h-15z" fill="#3d7480"/>
<path d="M616 420h15v15h-15z" fill="#3e7f7e"/>
<path d="M630 420h15v15h-15z" fill="#3f897b"/>
<path d="M644 420h15v15h-15z" fill="#409377"/>
<path d="M658 420h15v15h-15z" fill="#429b72"/>
<path d="M672 420h15v15h-15z" fill="#44a26e"/>
<path d="M686 420h15v15h-15z" fill="#46a76a"/>
<path d="M700 420h15v15h-15z" fill="#47ac67"/>
<path d="M714 420h15v15h-15z" fill="#47b163"/>
<path d="M728 420h15v15h-15z" fill="#47b660"/>
<path d="M742 420h15v15h-15z" fill="#48bb5e"/>
<path d="M756 420h15v15h-15z" fill="#48bf5b"/>
<path d="M770 420h15v15h-15z" fill="#48c258"/>
<path d="M784 420h15v15h-15z" fill="#4ac657"/>
<path d="M798 420h15v15h-15z" fill="#4dca56"/>
<path d="M812 420h15v15h-15z" fill="#51ce55"/>
<path d="M826 420h15v15h-15z" fill="#56d255"/>
<path d="M840 420h15v15h-15z" fill="#5bd654"/>
<path d="M854 420h15v15h-15z" fill="#60d954"/>
<path d="M868 420h15v15h-15z" fill="#66dd54"/>
<path d="M882 420h15v15h-15z" fill="#6ce054"/>
<path d="M896 420h15v15h-15z" fill="#71e454"/>
<path d="M910 420h15v15h-15z" fill="#76e754"/>
<path d="M924 420h15v15h-15z" fill="#7bea54"/>
<path d="M938 420h15v15h-15z" fill="#7fec54"/>
<path d="M952 420h15v15h-15z" fill="#83ee54"/>
<path d="M966 420h15v15h-15z" fill="#86f054"/>
<path d="M980 420h15v15h-15z" fill="#89f154"/>
<path d="M994 420h15v15h-15z" fill="#8cf254"/>
<path d="M1008 420h15v15h-15z" fill="#8ef353"/>
<path d="M1022 420h15v15h-15z" fill="#8ff452"/>
<path d="M1036 420h15v15h-15z" fill="#91f552"/>
<path d="M1050 420h15v15h-15z" fill="#92f551"/>
<path d="M1064 420h15v15h-15z" fill="#92f650"/>
<path d="M1078 420h15v15h-15z" fill="#93f64f"/>
<path d="M1092 420h15v15h-15z" fill="#93f64d"/>
<path d="M1106 420h15v15h-15z" fill="#92f54c"/>
<path d="M1120 420h15v15h-15z" fill="#91f54a"/>
<path d="M1134 420h15v15h-15z" fill="#90f349"/>
<path d="M1148 420h15v15h-15z" fill="#8ff248"/>
<path d="M1162 420h15v15h-15z" fill="#8eef48"/>
<path d="M1176 420h15v15h-15z" fill="#8eed4a"/>
<path d="M532 434h15v15h-15z" fill="#415696"/>
<path d="M546 434h15v15h-15z" fill="#405992"/>
<path d="M560 434h15v15h-15z" fill="#3e5d8e"/>
<path d="M574 434h15v15h-15z" fill="#3d628b"/>
<path d="M588 434h15v15h-15z" fill="#3c6a87"/>
<path d="M602 434h15v15h-15z" fill="#3c7585"/>
<path d="M616 434h15v15h-15z" fill="#3c8283"/>
<path d="M630 434h15v15h-15z" fill="#3d8e80"/>
<path d="M644 434h15v15h-15z" fill="#3e987c"/>
<path d="M658 434h15v15h-15z" fill="#40a177"/>
<path d="M672 434h15v15h-15z" fill="#42a873"/>
<path d="M686 434h15v15h-15z" fill="#43ad6f"/>
<path d="M700 434h15v15h-15z" fill="#44b16b"/>
<path d="M714 434h15v15h-15z" fill="#44b568"/>
<path d="M728 434h15v15h-15z" fill="#44bb65"/>
<path d="M742 434h15v15h-15z" fill="#45c063"/>
<path d="M756 434h15v15h-15z" fill="#46c361"/>
<path d="M770 434h15v15h-15z" fill="#47c75e"/>
<path d="M784 434h15v15h-15z" fill="#49ca5d"/>
<path d="M798 434h15v15h-15z" fill="#4cce5c"/>
<path d="M812 434h15v15h-15z" fill="#50d25c"/>
<path d="M826 434h15v15h-15z" fill="#54d65b"/>
<path d="M840 434h15v15h-15z" fill="#59d95b"/>
<path d="M854 434h15v15h-15z" fill="#5edd5b"/>
<path d="M868 434h15v15h-15z" fill="#63e05b"/>
<path d="M882 434h15v15h-15z" fill="#68e45b"/>
<path d="M896 434h15v15h-15z" fill="#6de75b"/>
<path d="M910 434h15v15h-15z" fill="#71ea5b"/>
<path d="M924 434h15v15h-15z" fill="#76ec5a"/>
<path d="M938 434h15v15h-15z" fill="#7aee5a"/>
<path d="M952 434h15v15h-15z" fill="#7df05a"/>
<path d="M966 434h15v15h-15z" fill="#80f25a"/>
<path d="M980 434h15v15h-15z" fill="#83f359"/>
<path d="M994 434h15v15h-15z" fill="#85f559"/>
<path d="M1008 434h15v15h-15z" fill="#87f658"/>
<path d="M1022 434h15v15h-15z" fill="#88f657"/>
<path d="M1036 434h15v15h-15z" fill="#89f756"/>
<path d="M1050 434h15v15h-15z" fill="#8af755"/>
<path d="M1064 434h15v15h-15z" fill="#8af754"/>
<path d="M1078 434h15v15h-15z" fill="#8af752"/>
<path d="M1092 434h15v15h-15z" fill="#89f750"/>
<path d="M1106 434h15v15h-15z" fill="#89f64e"/>
<path d="M1120 434h15v15h-15z" fill="#87f54c"/>
<path d="M1134 434h15v15h-15z" fill="#86f44a"/>
<path d="M1148 434h15v15h-15z" fill="#84f248"/>
<path d="M1162 434h15v15h-15z" fill="#83f048"/>
<path d="M1176 434h15v15h-15z" fill="#84ed4a"/>
<path d="M504 448h15v15h-15z" fill="#4452a0"/>
<path d="M518 448h15v15h-15z" fill="#43549e"/>
<path d="M532 448h15v15h-15z" fill="#41569a"/>
<path d="M546 448h15v15h-15z" fill="#405997"/>
<path d="M560 448h15v15h-15z" fill="#3e5c93"/>
<path d="M574 448h15v15h-15z" fill="#3c628f"/>
<path d="M588 448h15v15h-15z" fill="#3b698c"/>
<path d="M602 448h15v15h-15z" fill="#3b778a"/>
<path d="M616 448h15v15h-15z" fill="#3c8789"/>
<path d="M630 448h15v15h-15z" fill="#3d9486"/>
<path d="M644 448h15v15h-15z" fill="#3e9e81"/>
<path d="M658 448h15v15h-15z" fill="#40a77c"/>
<path d="M672 448h15v15h-15z" fill="#40af78"/>
<path d="M686 448h15v15h-15z" fill="#41b276"/>
<path d="M700 448h15v15h-15z" fill="#42b472"/>
<path d="M714 448h15v15h-15z" fill="#42b96e"/>
<path d="M728 448h15v15h-15z" fill="#42bf6c"/>
<path d="M742 448h15v15h-15z" fill="#43c36a"/>
<path d="M756 448h15v15h-15z" fill="#44c768"/>
<path d="M770 448h15v15h-15z" fill="#46cb67"/>
<path d="M784 448h15v15h-15z" fill="#48ce65"/>
<path d="M798 448h15v15h-15z" fill="#4bd264"/>
<path d="M812 448h15v15h-15z" fill="#4fd664"/>
<path d="M826 448h15v15h-15z" fill="#52d963"/>
<path d="M840 448h15v15h-15z" fill="#57dd62"/>
<path d="M854 448h15v15h-15z" fill="#5be062"/>
<path d="M868 448h15v15h-15z" fill="#60e462"/>
<path d="M882 448h15v15h-15z" fill="#64e762"/>
<path d="M896 448h15v15h-15z" fill="#69ea61"/>
<path d="M910 448h15v15h-15z" fill="#6dec61"/>
<path d="M924 448h15v15h-15z" fill="#71ef61"/>
<path d="M938 448h15v15h-15z" fill="#74f161"/>
<path d="M952 448h15v15h-15z" fill="#77f360"/>
<path d="M966 448h15v15h-15z" fill="#7af460"/>
<path d="M980 448h15v15h-15z" fill="#7cf65f"/>
<path d="M994 448h15v15h-15z" fill="#7ef75e"/>
<path d="M1008 448h15v15h-15z" fill="#80f85d"/>
<path d="M1022 448h15v15h-15z" fill="#81f85c"/>
<path d="M1036 448h15v15h-15z" fill="#81f95b"/>
<path d="M1050 448h15v15h-15z" fill="#82f95a"/>
<path d="M1064 448h15v15h-15z" fill="#82f958"/>
<path d="M1078 448h15v15h-15z" fill="#81f956"/>
<path d="M1092 448h15v15h-15z" fill="#81f854"/>
<path d="M1106 448h15v15h-15z" fill="#7ff752"/>
<path d="M1120 448h15v15h-15z" fill="#7ef64f"/>
<path d="M1134 448h15v15h-15z" fill="#7cf44d"/>
<path d="M1148 448h15v15h-15z" fill="#7af24b"/>
<path d="M1162 448h15v15h-15z" fill="#79f04a"/>
<path d="M1176 448h15v15h-15z" fill="#7aed4c"/>
<path d="M462 462h15v15h-15z" fill="#474da9"/>
<path d="M476 462h15v15h-15z" fill="#464fa8"/>
<path d="M490 462h15v15h-15z" fill="#4551a7"/>
<path d="M504 462h15v15h-15z" fill="#4452a5"/>
<path d="M518 462h15v15h-15z" fill="#4354a3"/>
<path d="M532 462h15v15h-15z" fill="#4257a0"/>
<path d="M546 462h15v15h-15z" fill="#405a9c"/>
<path d="M560 462h15v15h-15z" fill="#3e5d98"/>
<path d="M574 462h15v15h-15z" fill="#3d6695"/>
<path d="M588 462h15v15h-15z" fill="#3c7193"/>
<path d="M602 462h15v15h-15z" fill="#3d8091"/>
<path d="M616 462h15v15h-15z" fill="#3e9190"/>
<path d="M630 462h15v15h-15z" fill="#3f9b8d"/>
<path d="M644 462h15v15h-15z" fill="#40a487"/>
<path d="M658 462h15v15h-15z" fill="#41ac82"/>
<path d="M672 462h15v15h-15z" fill="#41b281"/>
<path d="M686 462h15v15h-15z" fill="#41b580"/>
<path d="M700 462h15v15h-15z" fill="#40b77b"/>
<path d="M714 462h15v15h-15z" fill="#40bb77"/>
<path d="M728 462h15v15h-15z" fill="#41c176"/>
<path d="M742 462h15v15h-15z" fill="#42c674"/>
<path d="M756 462h15v15h-15z" fill="#43ca72"/>
<path d="M770 462h15v15h-15z" fill="#45ce70"/>
<path d="M784 462h15v15h-15z" fill="#47d26e"/>
<path d="M798 462h15v15h-15z" fill="#4ad66d"/>
<path d="M812 462h15v15h-15z" fill="#4dd96c"/>
<path d="M826 462h15v15h-15z" fill="#51dd6b"/>
<path d="M840 462h15v15h-15z" fill="#55e06a"/>
<path d="M854 462h15v15h-15z" fill="#59e36a"/>
<path d="M868 462h15v15h-15z" fill="#5de669"/>
<path d="M882 462h15v15h-15z" fill="#61e969"/>
<path d="M896 462h15v15h-15z" fill="#65ec69"/>
<path d="M910 462h15v15h-15z" fill="#68ef68"/>
<path d="M924 462h15v15h-15z" fill="#6cf168"/>
<path d="M938 462h15v15h-15z" fill="#6ff367"/>
<path d="M952 462h15v15h-15z" fill="#72f567"/>
<path d="M966 462h15v15h-15z" fill="#74f666"/>
<path d="M980 462h15v15h-15z" fill="#76f765"/>
<path d="M994 462h15v15h-15z" fill="#78f964"/>
<path d="M1008 462h15v15h-15z" fill="#79f963"/>
<path d="M1022 462h15v15h-15z" fill="#7afa62"/>
<path d="M1036 462h15v15h-15z" fill="#7afa61"/>
<path d="M1050 462h15v15h-15z" fill="#7afa5f"/>
<path d="M1064 462h15v15h-15z" fill="#7afa5d"/>
<path d="M1078 462h15v15h-15z" fill="#79fa5b"/>
<path d="M1092 462h15v15h-15z" fill="#78f958"/>
<path d="M1106 462h15v15h-15z" fill="#77f856"/>
<path d="M1120 462h15v15h-15z" fill="#75f753"/>
<path d="M1134 462h15v15h-15z" fill="#73f551"/>
<path d="M1148 462h15v15h-15z" fill="#72f34f"/>
<path d="M1162 462h15v15h-15z" fill="#71f04f"/>
<path d="M1176 462h15v15h-15z" fill="#72ee50"/>
<path d="M1190 462h15v15h-15z" fill="#73eb53"/>
<path d="M434 476h15v15h-15z" fill="#4845ae"/>
<path d="M448 476h15v15h-15z" fill="#484aae"/>
<path d="M462 476h15v15h-15z" fill="#484ead"/>
<path d="M476 476h15v15h-15z" fill="#4750ac"/>
<path d="M490 476h15v15h-15z" fill="#4651ab"/>
<path d="M504 476h15v15h-15z" fill="#4552aa"/>
<path d="M518 476h15v15h-15z" fill="#4455a8"/>
<path d="M532 476h15v15h-15z" fill="#4358a5"/>
<path d="M546 476h15v15h-15z" fill="#425da2"/>
<path d="M560 476h15v15h-15z" fill="#40649f"/>
<path d="M574 476h15v15h-15z" fill="#406f9c"/>
<path d="M588 476h15v15h-15z" fill="#407d9b"/>
<path d="M602 476h15v15h-15z" fill="#3f8b9a"/>
<path d="M616 476h15v15h-15z" fill="#409a9a"/>
<path d="M630 476h15v15h-15z" fill="#41a197"/>
<path d="M644 476h15v15h-15z" fill="#42a891"/>
<path d="M658 476h15v15h-15z" fill="#44b088"/>
<path d="M672 476h15v15h-15z" fill="#42b48d"/>
<path d="M686 476h15v15h-15z" fill="#41b78f"/>
<path d="M700 476h15v15h-15z" fill="#40ba8c"/>
<path d="M714 476h15v15h-15z" fill="#40be87"/>
<path d="M728 476h15v15h-15z" fill="#40c483"/>
<path d="M742 476h15v15h-15z" fill="#41c97f"/>
<path d="M756 476h15v15h-15z" fill="#43cd7c"/>
<path d="M770 476h15v15h-15z" fill="#45d17a"/>
<path d="M784 476h15v15h-15z" fill="#47d578"/>
<path d="M798 476h15v15h-15z" fill="#49d976"/>
<path d="M812 476h15v15h-15z" fill="#4cdc75"/>
<path d="M826 476h15v15h-15z" fill="#4fe074"/>
<path d="M840 476h15v15h-15z" fill="#53e373"/>
<path d="M854 476h15v15h-15z" fill="#56e672"/>
<path d="M868 476h15v15h-15z" fill="#5ae971"/>
<path d="M882 476h15v15h-15z" fill="#5dec71"/>
<path d="M896 476h15v15h-15z" fill="#61ee70"/>
<path d="M910 476h15v15h-15z" fill="#64f170"/>
<path d="M924 476h15v15h-15z" fill="#67f36f"/>
<path d="M938 476h15v15h-15z" fill="#6af56e"/>
<path d="M952 476h15v15h-15z" fill="#6cf66e"/>
<path d="M966 476h15v15h-15z" fill="#6ff86d"/>
<path d="M980 476h15v15h-15z" fill="#70f96c"/>
<path d="M994 476h15v15h-15z" fill="#72fa6b"/>
<path d="M1008 476h15v15h-15z" fill="#73fb6a"/>
<path d="M1022 476h15v15h-15z" fill="#73fb68"/>
<path d="M1036 476h15v15h-15z" fill="#74fc67"/>
<path d="M1050 476h15v15h-15z" fill="#73fc65"/>
<path d="M1064 476h15v15h-15z" fill="#73fb63"/>
<path d="M1078 476h15v15h-15z" fill="#72fb60"/>
<path d="M1092 476h15v15h-15z" fill="#70fa5e"/>
<path d="M1106 476h15v15h-15z" fill="#6ff95b"/>
<path d="M1120 476h15v15h-15z" fill="#6df758"/>
<path d="M1134 476h15v15h-15z" fill="#6bf556"/>
<path d="M1148 476h15v15h-15z" fill="#6af354"/>
<path d="M1162 476h15v15h-15z" fill="#69f053"/>
<path d="M1176 476h15v15h-15z" fill="#6aee55"/>
<path d="M1190 476h15v15h-15z" fill="#6beb57"/>
<path d="M434 490h15v15h-15z" fill="#4843b2"/>
<path d="M448 490h15v15h-15z" fill="#4848b2"/>
<path d="M462 490h15v15h-15z" fill="#484fb1"/>
<path d="M476 490h15v15h-15z" fill="#474fb0"/>
<path d="M490 490h15v15h-15z" fill="#4750af"/>
<path d="M504 490h15v15h-15z" fill="#4651ad"/>
<path d="M518 490h15v15h-15z" fill="#4654ac"/>
<path d="M532 490h15v15h-15z" fill="#4559a9"/>
<path d="M546 490h15v15h-15z" fill="#4460a7"/>
<path d="M560 490h15v15h-15z" fill="#426ba5"/>
<path d="M574 490h15v15h-15z" fill="#4277a3"/>
<path d="M588 490h15v15h-15z" fill="#4183a3"/>
<path d="M602 490h15v15h-15z" fill="#4190a4"/>
<path d="M616 490h15v15h-15z" fill="#419ba4"/>
<path d="M630 490h15v15h-15z" fill="#41a2a4"/>
<path d="M644 490h15v15h-15z" fill="#42a9a3"/>
<path d="M658 490h15v15h-15z" fill="#43b19c"/>
<path d="M672 490h15v15h-15z" fill="#42b69d"/>
<path d="M686 490h15v15h-15z" fill="#41baa2"/>
<path d="M700 490h15v15h-15z" fill="#40be9f"/>
<path d="M714 490h15v15h-15z" fill="#40c296"/>
<path d="M728 490h15v15h-15z" fill="#40c790"/>
<path d="M742 490h15v15h-15z" fill="#41cc8b"/>
<path d="M756 490h15v15h-15z" fill="#43d087"/>
<path d="M770 490h15v15h-15z" fill="#44d484"/>
<path d="M784 490h15v15h-15z" fill="#46d882"/>
<path d="M798 490h15v15h-15z" fill="#49dc80"/>
<path d="M812 490h15v15h-15z" fill="#4bdf7e"/>
<path d="M826 490h15v15h-15z" fill="#4ee37c"/>
<path d="M840 490h15v15h-15z" fill="#51e67b"/>
<path d="M854 490h15v15h-15z" fill="#54e97a"/>
<path d="M868 490h15v15h-15z" fill="#57eb79"/>
<path d="M882 490h15v15h-15z" fill="#5aee79"/>
<path d="M896 490h15v15h-15z" fill="#5df078"/>
<path d="M910 490h15v15h-15z" fill="#60f377"/>
<path d="M924 490h15v15h-15z" fill="#63f577"/>
<path d="M938 490h15v15h-15z" fill="#65f676"/>
<path d="M952 490h15v15h-15z" fill="#68f875"/>
<path d="M966 490h15v15h-15z" fill="#69f974"/>
<path d="M980 490h15v15h-15z" fill="#6bfa73"/>
<path d="M994 490h15v15h-15z" fill="#6cfb72"/>
<path d="M1008 490h15v15h-15z" fill="#6dfc70"/>
<path d="M1022 490h15v15h-15z" fill="#6dfc6f"/>
<path d="M1036 490h15v15h-15z" fill="#6dfd6d"/>
<path d="M1050 490h15v15h-15z" fill="#6dfd6b"/>
<path d="M1064 490h15v15h-15z" fill="#6cfc69"/>
<path d="M1078 490h15v15h-15z" fill="#6bfc66"/>
<path d="M1092 490h15v15h-15z" fill="#69fb64"/>
<path d="M1106 490h15v15h-15z" fill="#68f961"/>
<path d="M1120 490h15v15h-15z" fill="#66f85e"/>
<path d="M1134 490h15v15h-15z" fill="#64f55b"/>
<path d="M1148 490h15v15h-15z" fill="#62f359"/>
<path d="M1162 490h15v15h-15z" fill="#61f058"/>
<path d="M1176 490h15v15h-15z" fill="#62ee59"/>
<path d="M1190 490h15v15h-15z" fill="#64eb5c"/>
<path d="M434 504h15v15h-15z" fill="#4840b5"/>
<path d="M448 504h15v15h-15z" fill="#4844b7"/>
<path d="M462 504h15v15h-15z" fill="#4847b7"/>
<path d="M476 504h15v15h-15z" fill="#484bb4"/>
<path d="M490 504h15v15h-15z" fill="#474db2"/>
<path d="M504 504h15v15h-15z" fill="#4750b0"/>
<path d="M518 504h15v15h-15z" fill="#4753af"/>
<path d="M532 504h15v15h-15z" fill="#4758ae"/>
<path d="M546 504h15v15h-15z" fill="#4563ab"/>
<path d="M560 504h15v15h-15z" fill="#4470aa"/>
<path d="M574 504h15v15h-15z" fill="#437da9"/>
<path d="M588 504h15v15h-15z" fill="#4288aa"/>
<path d="M602 504h15v15h-15z" fill="#4192ac"/>
<path d="M616 504h15v15h-15z" fill="#419cae"/>
<path d="M630 504h15v15h-15z" fill="#41a3af"/>
<path d="M644 504h15v15h-15z" fill="#41aaaf"/>
<path d="M658 504h15v15h-15z" fill="#42b1ac"/>
<path d="M672 504h15v15h-15z" fill="#41b7ab"/>
<path d="M686 504h15v15h-15z" fill="#40bcac"/>
<path d="M700 504h15v15h-15z" fill="#40c0a9"/>
<path d="M714 504h15v15h-15z" fill="#40c5a2"/>
<path d="M728 504h15v15h-15z" fill="#40ca9b"/>
<path d="M742 504h15v15h-15z" fill="#41cf96"/>
<path d="M756 504h15v15h-15z" fill="#42d391"/>
<path d="M770 504h15v15h-15z" fill="#44d78e"/>
<path d="M784 504h15v15h-15z" fill="#46db8b"/>
<path d="M798 504h15v15h-15z" fill="#48df89"/>
<path d="M812 504h15v15h-15z" fill="#4ae287"/>
<path d="M826 504h15v15h-15z" fill="#4de585"/>
<path d="M840 504h15v15h-15z" fill="#4fe884"/>
<path d="M854 504h15v15h-15z" fill="#52eb83"/>
<path d="M868 504h15v15h-15z" fill="#55ed82"/>
<path d="M882 504h15v15h-15z" fill="#57f081"/>
<path d="M896 504h15v15h-15z" fill="#5af280"/>
<path d="M910 504h15v15h-15z" fill="#5df47f"/>
<path d="M924 504h15v15h-15z" fill="#5ff67e"/>
<path d="M938 504h15v15h-15z" fill="#61f87d"/>
<path d="M952 504h15v15h-15z" fill="#63f97d"/>
<path d="M966 504h15v15h-15z" fill="#65fa7b"/>
<path d="M980 504h15v15h-15z" fill="#66fb7a"/>
<path d="M994 504h15v15h-15z" fill="#67fc79"/>
<path d="M1008 504h15v15h-15z" fill="#67fd78"/>
<path d="M1022 504h15v15h-15z" fill="#67fd76"/>
<path d="M1036 504h15v15h-15z" fill="#67fd74"/>
<path d="M1050 504h15v15h-15z" fill="#67fd72"/>
<path d="M1064 504h15v15h-15z" fill="#66fd70"/>
<path d="M1078 504h15v15h-15z" fill="#65fc6d"/>
<path d="M1092 504h15v15h-15z" fill="#63fb6b"/>
<path d="M1106 504h15v15h-15z" fill="#61fa68"/>
<path d="M1120 504h15v15h-15z" fill="#5ff865"/>
<path d="M1134 504h15v15h-15z" fill="#5df662"/>
<path d="M1148 504h15v15h-15z" fill="#5af35f"/>
<path d="M1162 504h15v15h-15z" fill="#59f05d"/>
<path d="M1176 504h15v15h-15z" fill="#5bee5f"/>
<path d="M1190 504h15v15h-15z" fill="#5deb62"/>
<path d="M434 518h15v15h-15z" fill="#493db7"/>
<path d="M448 518h15v15h-15z" fill="#4840b8"/>
<path d="M462 518h15v15h-15z" fill="#4844b7"/>
<path d="M476 518h15v15h-15z" fill="#4847b5"/>
<path d="M490 518h15v15h-15z" fill="#484bb3"/>
<path d="M504 518h15v15h-15z" fill="#484fb2"/>
<path d="M518 518h15v15h-15z" fill="#4854b1"/>
<path d="M532 518h15v15h-15z" fill="#485ab1"/>
<path d="M546 518h15v15h-15z" fill="#4666af"/>
<path d="M560 518h15v15h-15z" fill="#4575ae"/>
<path d="M574 518h15v15h-15z" fill="#4381af"/>
<path d="M588 518h15v15h-15z" fill="#418bb1"/>
<path d="M602 518h15v15h-15z" fill="#4194b3"/>
<path d="M616 518h15v15h-15z" fill="#409db6"/>
<path d="M630 518h15v15h-15z" fill="#41a5b8"/>
<path d="M644 518h15v15h-15z" fill="#41acb7"/>
<path d="M658 518h15v15h-15z" fill="#41b3b5"/>
<path d="M672 518h15v15h-15z" fill="#41b9b3"/>
<path d="M686 518h15v15h-15z" fill="#40beb2"/>
<path d="M700 518h15v15h-15z" fill="#40c3ae"/>
<path d="M714 518h15v15h-15z" fill="#40c8a9"/>
<path d="M728 518h15v15h-15z" fill="#41cda4"/>
<path d="M742 518h15v15h-15z" fill="#41d19f"/>
<path d="M756 518h15v15h-15z" fill="#42d69b"/>
<path d="M770 518h15v15h-15z" fill="#44da97"/>
<path d="M784 518h15v15h-15z" fill="#45de94"/>
<path d="M798 518h15v15h-15z" fill="#47e192"/>
<path d="M812 518h15v15h-15z" fill="#49e490"/>
<path d="M826 518h15v15h-15z" fill="#4be78e"/>
<path d="M840 518h15v15h-15z" fill="#4eea8d"/>
<path d="M854 518h15v15h-15z" fill="#50ed8b"/>
<path d="M868 518h15v15h-15z" fill="#52ef8a"/>
<path d="M882 518h15v15h-15z" fill="#55f189"/>
<path d="M896 518h15v15h-15z" fill="#57f388"/>
<path d="M910 518h15v15h-15z" fill="#59f587"/>
<path d="M924 518h15v15h-15z" fill="#5bf786"/>
<path d="M938 518h15v15h-15z" fill="#5df985"/>
<path d="M952 518h15v15h-15z" fill="#5ffa84"/>
<path d="M966 518h15v15h-15z" fill="#60fb83"/>
<path d="M980 518h15v15h-15z" fill="#61fc82"/>
<path d="M994 518h15v15h-15z" fill="#62fd81"/>
<path d="M1008 518h15v15h-15z" fill="#62fe7f"/>
<path d="M1022 518h15v15h-15z" fill="#62fe7e"/>
<path d="M1036 518h15v15h-15z" fill="#62fe7c"/>
<path d="M1050 518h15v15h-15z" fill="#61fe7a"/>
<path d="M1064 518h15v15h-15z" fill="#60fd78"/>
<path d="M1078 518h15v15h-15z" fill="#5ffd75"/>
<path d="M1092 518h15v15h-15z" fill="#5dfb72"/>
<path d="M1106 518h15v15h-15z" fill="#5bfa70"/>
<path d="M1120 518h15v15h-15z" fill="#59f86d"/>
<path d="M1134 518h15v15h-15z" fill="#57f66a"/>
<path d="M1148 518h15v15h-15z" fill="#55f366"/>
<path d="M1162 518h15v15h-15z" fill="#53f064"/>
<path d="M1176 518h15v15h-15z" fill="#55ee66"/>
<path d="M1190 518h15v15h-15z" fill="#57eb69"/>
<path d="M448 532h15v15h-15z" fill="#483eb7"/>
<path d="M462 532h15v15h-15z" fill="#4841b7"/>
<path d="M476 532h15v15h-15z" fill="#4845b5"/>
<path d="M490 532h15v15h-15z" fill="#4849b4"/>
<path d="M504 532h15v15h-15z" fill="#484fb3"/>
<path d="M518 532h15v15h-15z" fill="#4856b3"/>
<path d="M532 532h15v15h-15z" fill="#475fb3"/>
<path d="M546 532h15v15h-15z" fill="#466bb3"/>
<path d="M560 532h15v15h-15z" fill="#4478b3"/>
<path d="M574 532h15v15h-15z" fill="#4383b4"/>
<path d="M588 532h15v15h-15z" fill="#418db7"/>
<path d="M602 532h15v15h-15z" fill="#4096b9"/>
<path d="M616 532h15v15h-15z" fill="#409fbc"/>
<path d="M630 532h15v15h-15z" fill="#40a6bf"/>
<path d="M644 532h15v15h-15z" fill="#40aebd"/>
<path d="M658 532h15v15h-15z" fill="#40b5bb"/>
<path d="M672 532h15v15h-15z" fill="#40bbb8"/>
<path d="M686 532h15v15h-15z" fill="#40c0b6"/>
<path d="M700 532h15v15h-15z" fill="#40c6b3"/>
<path d="M714 532h15v15h-15z" fill="#40cbaf"/>
<path d="M728 532h15v15h-15z" fill="#41cfab"/>
<path d="M742 532h15v15h-15z" fill="#41d4a7"/>
<path d="M756 532h15v15h-15z" fill="#42d8a3"/>
<path d="M770 532h15v15h-15z" fill="#43dca0"/>
<path d="M784 532h15v15h-15z" fill="#45e09d"/>
<path d="M798 532h15v15h-15z" fill="#46e39b"/>
<path d="M812 532h15v15h-15z" fill="#48e698"/>
<path d="M826 532h15v15h-15z" fill="#4ae997"/>
<path d="M840 532h15v15h-15z" fill="#4cec95"/>
<path d="M854 532h15v15h-15z" fill="#4eee94"/>
<path d="M868 532h15v15h-15z" fill="#50f193"/>
<path d="M882 532h15v15h-15z" fill="#52f391"/>
<path d="M896 532h15v15h-15z" fill="#54f590"/>
<path d="M910 532h15v15h-15z" fill="#56f68f"/>
<path d="M924 532h15v15h-15z" fill="#58f88e"/>
<path d="M938 532h15v15h-15z" fill="#5af98d"/>
<path d="M952 532h15v15h-15z" fill="#5bfb8c"/>
<path d="M966 532h15v15h-15z" fill="#5cfc8b"/>
<path d="M980 532h15v15h-15z" fill="#5dfd8a"/>
<path d="M994 532h15v15h-15z" fill="#5dfd89"/>
<path d="M1008 532h15v15h-15z" fill="#5dfe87"/>
<path d="M1022 532h15v15h-15z" fill="#5dfe85"/>
<path d="M1036 532h15v15h-15z" fill="#5dfe84"/>
<path d="M1050 532h15v15h-15z" fill="#5cfe82"/>
<path d="M1064 532h15v15h-15z" fill="#5bfe80"/>
<path d="M1078 532h15v15h-15z" fill="#5afd7d"/>
<path d="M1092 532h15v15h-15z" fill="#58fc7b"/>
<path d="M1106 532h15v15h-15z" fill="#56fa78"/>
<path d="M1120 532h15v15h-15z" fill="#54f876"/>
<path d="M1134 532h15v15h-15z" fill="#52f673"/>
<path d="M1148 532h15v15h-15z" fill="#51f471"/>
<path d="M1162 532h15v15h-15z" fill="#50f16f"/>
<path d="M1176 532h15v15h-15z" fill="#51ee70"/>
<path d="M1190 532h15v15h-15z" fill="#53eb72"/>
<path d="M476 546h15v15h-15z" fill="#4843b5"/>
<path d="M490 546h15v15h-15z" fill="#4848b4"/>
<path d="M504 546h15v15h-15z" fill="#484fb4"/>
<path d="M518 546h15v15h-15z" fill="#4758b4"/>
<path d="M532 546h15v15h-15z" fill="#4663b4"/>
<path d="M546 546h15v15h-15z" fill="#4570b5"/>
<path d="M560 546h15v15h-15z" fill="#447cb6"/>
<path d="M574 546h15v15h-15z" fill="#4287b7"/>
<path d="M588 546h15v15h-15z" fill="#4191ba"/>
<path d="M602 546h15v15h-15z" fill="#409abc"/>
<path d="M616 546h15v15h-15z" fill="#40a2be"/>
<path d="M630 546h15v15h-15z" fill="#40a9c0"/>
<path d="M644 546h15v15h-15z" fill="#40b0c0"/>
<path d="M658 546h15v15h-15z" fill="#40b7be"/>
<path d="M672 546h15v15h-15z" fill="#40bdbc"/>
<path d="M686 546h15v15h-15z" fill="#40c2b9"/>
<path d="M700 546h15v15h-15z" fill="#40c8b7"/>
<path d="M714 546h15v15h-15z" fill="#40cdb4"/>
<path d="M728 546h15v15h-15z" fill="#41d2b1"/>
<path d="M742 546h15v15h-15z" fill="#41d6ae"/>
<path d="M756 546h15v15h-15z" fill="#42dbaa"/>
<path d="M770 546h15v15h-15z" fill="#43dea8"/>
<path d="M784 546h15v15h-15z" fill="#44e2a5"/>
<path d="M798 546h15v15h-15z" fill="#45e5a3"/>
<path d="M812 546h15v15h-15z" fill="#47e8a1"/>
<path d="M826 546h15v15h-15z" fill="#49eb9f"/>
<path d="M840 546h15v15h-15z" fill="#4aed9e"/>
<path d="M854 546h15v15h-15z" fill="#4cef9c"/>
<path d="M868 546h15v15h-15z" fill="#4ef29b"/>
<path d="M882 546h15v15h-15z" fill="#50f39a"/>
<path d="M896 546h15v15h-15z" fill="#52f599"/>
<path d="M910 546h15v15h-15z" fill="#53f798"/>
<path d="M924 546h15v15h-15z" fill="#55f896"/>
<path d="M938 546h15v15h-15z" fill="#56fa95"/>
<path d="M952 546h15v15h-15z" fill="#57fb94"/>
<path d="M966 546h15v15h-15z" fill="#58fc93"/>
<path d="M980 546h15v15h-15z" fill="#59fd92"/>
<path d="M994 546h15v15h-15z" fill="#59fd91"/>
<path d="M1008 546h15v15h-15z" fill="#59fe8f"/>
<path d="M1022 546h15v15h-15z" fill="#59fe8e"/>
<path d="M1036 546h15v15h-15z" fill="#59fe8c"/>
<path d="M1050 546h15v15h-15z" fill="#58fe8a"/>
<path d="M1064 546h15v15h-15z" fill="#57fe88"/>
<path d="M1078 546h15v15h-15z" fill="#55fd86"/>
<path d="M1092 546h15v15h-15z" fill="#54fc84"/>
<path d="M1106 546h15v15h-15z" fill="#52fa82"/>
<path d="M1120 546h15v15h-15z" fill="#50f97f"/>
<path d="M1134 546h15v15h-15z" fill="#4ff67d"/>
<path d="M1148 546h15v15h-15z" fill="#4ef47b"/>
<path d="M1162 546h15v15h-15z" fill="#4df17b"/>
<path d="M1176 546h15v15h-15z" fill="#4eee7b"/>
<path d="M1190 546h15v15h-15z" fill="#50eb7c"/>
<path d="M476 560h15v15h-15z" fill="#4841b5"/>
<path d="M490 560h15v15h-15z" fill="#4846b5"/>
<path d="M504 560h15v15h-15z" fill="#484eb4"/>
<path d="M518 560h15v15h-15z" fill="#475ab5"/>
<path d="M532 560h15v15h-15z" fill="#4667b6"/>
<path d="M546 560h15v15h-15z" fill="#4574b7"/>
<path d="M560 560h15v15h-15z" fill="#4380b8"/>
<path d="M574 560h15v15h-15z" fill="#428bb9"/>
<path d="M588 560h15v15h-15z" fill="#4195bb"/>
<path d="M602 560h15v15h-15z" fill="#409ebd"/>
<path d="M616 560h15v15h-15z" fill="#40a6bf"/>
<path d="M630 560h15v15h-15z" fill="#40adc0"/>
<path d="M644 560h15v15h-15z" fill="#40b3c0"/>
<path d="M658 560h15v15h-15z" fill="#40b9bf"/>
<path d="M672 560h15v15h-15z" fill="#40bfbe"/>
<path d="M686 560h15v15h-15z" fill="#40c4bc"/>
<path d="M700 560h15v15h-15z" fill="#40caba"/>
<path d="M714 560h15v15h-15z" fill="#40cfb8"/>
<path d="M728 560h15v15h-15z" fill="#41d4b6"/>
<path d="M742 560h15v15h-15z" fill="#41d8b4"/>
<path d="M756 560h15v15h-15z" fill="#42dcb1"/>
<path d="M770 560h15v15h-15z" fill="#43e0af"/>
<path d="M784 560h15v15h-15z" fill="#44e3ad"/>
<path d="M798 560h15v15h-15z" fill="#45e6ab"/>
<path d="M812 560h15v15h-15z" fill="#46e9a9"/>
<path d="M826 560h15v15h-15z" fill="#47eca7"/>
<path d="M840 560h15v15h-15z" fill="#49eea6"/>
<path d="M854 560h15v15h-15z" fill="#4bf0a4"/>
<path d="M868 560h15v15h-15z" fill="#4cf2a3"/>
<path d="M882 560h15v15h-15z" fill="#4ef4a2"/>
<path d="M896 560h15v15h-15z" fill="#4ff6a1"/>
<path d="M910 560h15v15h-15z" fill="#51f7a0"/>
<path d="M924 560h15v15h-15z" fill="#52f89f"/>
<path d="M938 560h15v15h-15z" fill="#53fa9e"/>
<path d="M952 560h15v15h-15z" fill="#54fb9c"/>
<path d="M966 560h15v15h-15z" fill="#55fc9b"/>
<path d="M980 560h15v15h-15z" fill="#55fc9a"/>
<path d="M994 560h15v15h-15z" fill="#55fd99"/>
<path d="M1008 560h15v15h-15z" fill="#55fd98"/>
<path d="M1022 560h15v15h-15z" fill="#55fe96"/>
<path d="M1036 560h15v15h-15z" fill="#55fe95"/>
<path d="M1050 560h15v15h-15z" fill="#54fe93"/>
<path d="M1064 560h15v15h-15z" fill="#53fd91"/>
<path d="M1078 560h15v15h-15z" fill="#51fd8f"/>
<path d="M1092 560h15v15h-15z" fill="#50fc8d"/>
<path d="M1106 560h15v15h-15z" fill="#4ffa8c"/>
<path d="M1120 560h15v15h-15z" fill="#4df98a"/>
<path d="M1134 560h15v15h-15z" fill="#4cf788"/>
<path d="M1148 560h15v15h-15z" fill="#4bf487"/>
<path d="M1162 560h15v15h-15z" fill="#4af186"/>
<path d="M1176 560h15v15h-15z" fill="#4bee86"/>
<path d="M1190 560h15v15h-15z" fill="#4deb86"/>
<path d="M476 574h15v15h-15z" fill="#483fb6"/>
<path d="M490 574h15v15h-15z" fill="#4845b5"/>
<path d="M504 574h15v15h-15z" fill="#484db4"/>
<path d="M518 574h15v15h-15z" fill="#475ab6"/>
<path d="M532 574h15v15h-15z" fill="#4569b7"/>
<path d="M546 574h15v15h-15z" fill="#4478b8"/>
<path d="M560 574h15v15h-15z" fill="#4383b9"/>
<path d="M574 574h15v15h-15z" fill="#428fba"/>
<path d="M588 574h15v15h-15z" fill="#4099bc"/>
<path d="M602 574h15v15h-15z" fill="#40a2be"/>
<path d="M616 574h15v15h-15z" fill="#40a9bf"/>
<path d="M630 574h15v15h-15z" fill="#40afc0"/>
<path d="M644 574h15v15h-15z" fill="#40b6c1"/>
<path d="M658 574h15v15h-15z" fill="#40bcc0"/>
<path d="M672 574h15v15h-15z" fill="#40c1c0"/>
<path d="M686 574h15v15h-15z" fill="#40c7be"/>
<path d="M700 574h15v15h-15z" fill="#40ccbe"/>
<path d="M714 574h15v15h-15z" fill="#40d1bd"/>
<path d="M728 574h15v15h-15z" fill="#40d6bb"/>
<path d="M742 574h15v15h-15z" fill="#41daba"/>
<path d="M756 574h15v15h-15z" fill="#41deb8"/>
<path d="M770 574h15v15h-15z" fill="#42e2b6"/>
<path d="M784 574h15v15h-15z" fill="#43e5b4"/>
<path d="M798 574h15v15h-15z" fill="#44e8b2"/>
<path d="M812 574h15v15h-15z" fill="#45eab0"/>
<path d="M826 574h15v15h-15z" fill="#46ecaf"/>
<path d="M840 574h15v15h-15z" fill="#48efae"/>
<path d="M854 574h15v15h-15z" fill="#49f1ac"/>
<path d="M868 574h15v15h-15z" fill="#4af2ab"/>
<path d="M882 574h15v15h-15z" fill="#4cf4aa"/>
<path d="M896 574h15v15h-15z" fill="#4df5a9"/>
<path d="M910 574h15v15h-15z" fill="#4ef7a8"/>
<path d="M924 574h15v15h-15z" fill="#4ff8a7"/>
<path d="M938 574h15v15h-15z" fill="#50f9a6"/>
<path d="M952 574h15v15h-15z" fill="#51faa5"/>
<path d="M966 574h15v15h-15z" fill="#52fba3"/>
<path d="M980 574h15v15h-15z" fill="#52fca2"/>
<path d="M994 574h15v15h-15z" fill="#52fca1"/>
<path d="M1008 574h15v15h-15z" fill="#52fda0"/>
<path d="M1022 574h15v15h-15z" fill="#52fd9f"/>
<path d="M1036 574h15v15h-15z" fill="#51fd9d"/>
<path d="M1050 574h15v15h-15z" fill="#50fd9c"/>
<path d="M1064 574h15v15h-15z" fill="#4ffd9a"/>
<path d="M1078 574h15v15h-15z" fill="#4efc99"/>
<path d="M1092 574h15v15h-15z" fill="#4dfb97"/>
<path d="M1106 574h15v15h-15z" fill="#4bfa96"/>
<path d="M1120 574h15v15h-15z" fill="#4af894"/>
<path d="M1134 574h15v15h-15z" fill="#49f793"/>
<path d="M1148 574h15v15h-15z" fill="#48f492"/>
<path d="M1162 574h15v15h-15z" fill="#48f191"/>
<path d="M1176 574h15v15h-15z" fill="#48ee91"/>
<path d="M1190 574h15v15h-15z" fill="#4aeb91"/>
<path d="M476 588h15v15h-15z" fill="#483fb6"/>
<path d="M490 588h15v15h-15z" fill="#4845b6"/>
<path d="M504 588h15v15h-15z" fill="#474eb6"/>
<path d="M518 588h15v15h-15z" fill="#475bb6"/>
<path d="M532 588h15v15h-15z" fill="#4569b8"/>
<path d="M546 588h15v15h-15z" fill="#4477b9"/>
<path d="M560 588h15v15h-15z" fill="#4384ba"/>
<path d="M574 588h15v15h-15z" fill="#4191bb"/>
<path d="M588 588h15v15h-15z" fill="#409dbc"/>
<path d="M602 588h15v15h-15z" fill="#40a5be"/>
<path d="M616 588h15v15h-15z" fill="#40abbf"/>
<path d="M630 588h15v15h-15z" fill="#40b1c0"/>
<path d="M644 588h15v15h-15z" fill="#40b7c1"/>
<path d="M658 588h15v15h-15z" fill="#40bdc1"/>
<path d="M672 588h15v15h-15z" fill="#40c3c1"/>
<path d="M686 588h15v15h-15z" fill="#40c8c2"/>
<path d="M700 588h15v15h-15z" fill="#40cec2"/>
<path d="M714 588h15v15h-15z" fill="#40d3c2"/>
<path d="M728 588h15v15h-15z" fill="#40d7c0"/>
<path d="M742 588h15v15h-15z" fill="#41dbbf"/>
<path d="M756 588h15v15h-15z" fill="#41dfbd"/>
<path d="M770 588h15v15h-15z" fill="#42e2bc"/>
<path d="M784 588h15v15h-15z" fill="#42e5bb"/>
<path d="M798 588h15v15h-15z" fill="#43e8b9"/>
<path d="M812 588h15v15h-15z" fill="#44eab8"/>
<path d="M826 588h15v15h-15z" fill="#45edb6"/>
<path d="M840 588h15v15h-15z" fill="#46efb5"/>
<path d="M854 588h15v15h-15z" fill="#48f0b4"/>
<path d="M868 588h15v15h-15z" fill="#49f2b3"/>
<path d="M882 588h15v15h-15z" fill="#4af3b2"/>
<path d="M896 588h15v15h-15z" fill="#4bf5b1"/>
<path d="M910 588h15v15h-15z" fill="#4cf6b0"/>
<path d="M924 588h15v15h-15z" fill="#4df7af"/>
<path d="M938 588h15v15h-15z" fill="#4ef8ae"/>
<path d="M952 588h15v15h-15z" fill="#4ef9ad"/>
<path d="M966 588h15v15h-15z" fill="#4ffaab"/>
<path d="M980 588h15v15h-15z" fill="#4ffaaa"/>
<path d="M994 588h15v15h-15z" fill="#4ffba9"/>
<path d="M1008 588h15v15h-15z" fill="#4ffba8"/>
<path d="M1022 588h15v15h-15z" fill="#4ffca7"/>
<path d="M1036 588h15v15h-15z" fill="#4efca6"/>
<path d="M1050 588h15v15h-15z" fill="#4dfca5"/>
<path d="M1064 588h15v15h-15z" fill="#4cfca3"/>
<path d="M1078 588h15v15h-15z" fill="#4bfba2"/>
<path d="M1092 588h15v15h-15z" fill="#4afaa1"/>
<path d="M1106 588h15v15h-15z" fill="#49f9a0"/>
<path d="M1120 588h15v15h-15z" fill="#47f89f"/>
<path d="M1134 588h15v15h-15z" fill="#46f69e"/>
<path d="M1148 588h15v15h-15z" fill="#46f49d"/>
<path d="M1162 588h15v15h-15z" fill="#45f19c"/>
<path d="M1176 588h15v15h-15z" fill="#46ee9c"/>
<path d="M1190 588h15v15h-15z" fill="#47ea9c"/>
<path d="M476 602h15v15h-15z" fill="#483eb7"/>
<path d="M490 602h15v15h-15z" fill="#4845b6"/>
<path d="M504 602h15v15h-15z" fill="#474eb7"/>
<path d="M518 602h15v15h-15z" fill="#475ab7"/>
<path d="M532 602h15v15h-15z" fill="#4567b8"/>
<path d="M546 602h15v15h-15z" fill="#4475b9"/>
<path d="M560 602h15v15h-15z" fill="#4383bb"/>
<path d="M574 602h15v15h-15z" fill="#4290bc"/>
<path d="M588 602h15v15h-15z" fill="#409cbd"/>
<path d="M602 602h15v15h-15z" fill="#40a4be"/>
<path d="M616 602h15v15h-15z" fill="#40abbf"/>
<path d="M630 602h15v15h-15z" fill="#40b2c0"/>
<path d="M644 602h15v15h-15z" fill="#40b8c0"/>
<path d="M658 602h15v15h-15z" fill="#40bec1"/>
<path d="M672 602h15v15h-15z" fill="#40c4c2"/>
<path d="M686 602h15v15h-15z" fill="#40c9c3"/>
<path d="M700 602h15v15h-15z" fill="#40cfc5"/>
<path d="M714 602h15v15h-15z" fill="#40d4c5"/>
<path d="M728 602h15v15h-15z" fill="#40d8c4"/>
<path d="M742 602h15v15h-15z" fill="#40dcc3"/>
<path d="M756 602h15v15h-15z" fill="#41e0c3"/>
<path d="M770 602h15v15h-15z" fill="#41e3c2"/>
<path d="M784 602h15v15h-15z" fill="#42e6c1"/>
<path d="M798 602h15v15h-15z" fill="#43e8c0"/>
<path d="M812 602h15v15h-15z" fill="#43eabf"/>
<path d="M826 602h15v15h-15z" fill="#44ecbd"/>
<path d="M840 602h15v15h-15z" fill="#45eebc"/>
<path d="M854 602h15v15h-15z" fill="#46f0bb"/>
<path d="M868 602h15v15h-15z" fill="#47f1ba"/>
<path d="M882 602h15v15h-15z" fill="#48f2b9"/>
<path d="M896 602h15v15h-15z" fill="#49f4b8"/>
<path d="M910 602h15v15h-15z" fill="#4af5b7"/>
<path d="M924 602h15v15h-15z" fill="#4bf6b6"/>
<path d="M938 602h15v15h-15z" fill="#4bf7b5"/>
<path d="M952 602h15v15h-15z" fill="#4cf7b4"/>
<path d="M966 602h15v15h-15z" fill="#4cf8b3"/>
<path d="M980 602h15v15h-15z" fill="#4cf9b2"/>
<path d="M994 602h15v15h-15z" fill="#4cf9b2"/>
<path d="M1008 602h15v15h-15z" fill="#4cfab1"/>
<path d="M1022 602h15v15h-15z" fill="#4cfab0"/>
<path d="M1036 602h15v15h-15z" fill="#4bfaaf"/>
<path d="M1050 602h15v15h-15z" fill="#4bfaae"/>
<path d="M1064 602h15v15h-15z" fill="#4afaad"/>
<path d="M1078 602h15v15h-15z" fill="#49faac"/>
<path d="M1092 602h15v15h-15z" fill="#48f9ab"/>
<path d="M1106 602h15v15h-15z" fill="#46f8aa"/>
<path d="M1120 602h15v15h-15z" fill="#45f7a9"/>
<path d="M1134 602h15v15h-15z" fill="#44f6a9"/>
<path d="M1148 602h15v15h-15z" fill="#43f4a8"/>
<path d="M1162 602h15v15h-15z" fill="#43f2a8"/>
<path d="M1176 602h15v15h-15z" fill="#44eea7"/>
<path d="M1190 602h15v15h-15z" fill="#45eaa6"/>
<path d="M476 616h15v15h-15z" fill="#483db8"/>
<path d="M490 616h15v15h-15z" fill="#4844b7"/>
<path d="M504 616h15v15h-15z" fill="#484db7"/>
<path d="M518 616h15v15h-15z" fill="#4758b8"/>
<path d="M532 616h15v15h-15z" fill="#4665b9"/>
<path d="M546 616h15v15h-15z" fill="#4472ba"/>
<path d="M560 616h15v15h-15z" fill="#4380bb"/>
<path d="M574 616h15v15h-15z" fill="#428cbd"/>
<path d="M588 616h15v15h-15z" fill="#4197be"/>
<path d="M602 616h15v15h-15z" fill="#40a1bf"/>
<path d="M616 616h15v15h-15z" fill="#40a9bf"/>
<path d="M630 616h15v15h-15z" fill="#40b0c0"/>
<path d="M644 616h15v15h-15z" fill="#40b7c0"/>
<path d="M658 616h15v15h-15z" fill="#40bdc1"/>
<path d="M672 616h15v15h-15z" fill="#40c3c3"/>
<path d="M686 616h15v15h-15z" fill="#40c9c4"/>
<path d="M700 616h15v15h-15z" fill="#40cec6"/>
<path d="M714 616h15v15h-15z" fill="#40d3c6"/>
<path d="M728 616h15v15h-15z" fill="#40d8c7"/>
<path d="M742 616h15v15h-15z" fill="#40dcc7"/>
<path d="M756 616h15v15h-15z" fill="#41dfc8"/>
<path d="M770 616h15v15h-15z" fill="#41e2c7"/>
<path d="M784 616h15v15h-15z" fill="#41e5c7"/>
<path d="M798 616h15v15h-15z" fill="#42e7c6"/>
<path d="M812 616h15v15h-15z" fill="#43e9c5"/>
<path d="M826 616h15v15h-15z" fill="#43ebc4"/>
<path d="M840 616h15v15h-15z" fill="#44edc3"/>
<path d="M854 616h15v15h-15z" fill="#45eec2"/>
<path d="M868 616h15v15h-15z" fill="#46f0c1"/>
<path d="M882 616h15v15h-15z" fill="#47f1c0"/>
<path d="M896 616h15v15h-15z" fill="#47f2bf"/>
<path d="M910 616h15v15h-15z" fill="#48f3bf"/>
<path d="M924 616h15v15h-15z" fill="#49f4be"/>
<path d="M938 616h15v15h-15z" fill="#49f4bd"/>
<path d="M952 616h15v15h-15z" fill="#4af5bc"/>
<path d="M966 616h15v15h-15z" fill="#4af6bb"/>
<path d="M980 616h15v15h-15z" fill="#4af6ba"/>
<path d="M994 616h15v15h-15z" fill="#4af7ba"/>
<path d="M1008 616h15v15h-15z" fill="#4af7b9"/>
<path d="M1022 616h15v15h-15z" fill="#49f8b8"/>
<path d="M1036 616h15v15h-15z" fill="#49f8b7"/>
<path d="M1050 616h15v15h-15z" fill="#48f8b6"/>
<path d="M1064 616h15v15h-15z" fill="#47f8b6"/>
<path d="M1078 616h15v15h-15z" fill="#47f8b5"/>
<path d="M1092 616h15v15h-15z" fill="#46f7b4"/>
<path d="M1106 616h15v15h-15z" fill="#45f7b4"/>
<path d="M1120 616h15v15h-15z" fill="#43f6b4"/>
<path d="M1134 616h15v15h-15z" fill="#43f5b3"/>
<path d="M1148 616h15v15h-15z" fill="#42f3b3"/>
<path d="M1162 616h15v15h-15z" fill="#41f2b3"/>
<path d="M1176 616h15v15h-15z" fill="#42eeb2"/>
<path d="M1190 616h15v15h-15z" fill="#43e8b1"/>
<path d="M476 630h15v15h-15z" fill="#483bb9"/>
<path d="M490 630h15v15h-15z" fill="#4841b8"/>
<path d="M504 630h15v15h-15z" fill="#484ab8"/>
<path d="M518 630h15v15h-15z" fill="#4755b9"/>
<path d="M532 630h15v15h-15z" fill="#4661ba"/>
<path d="M546 630h15v15h-15z" fill="#456ebb"/>
<path d="M560 630h15v15h-15z" fill="#437bbc"/>
<path d="M574 630h15v15h-15z" fill="#4287be"/>
<path d="M588 630h15v15h-15z" fill="#4192bf"/>
<path d="M602 630h15v15h-15z" fill="#409dc0"/>
<path d="M616 630h15v15h-15z" fill="#40a5c0"/>
<path d="M630 630h15v15h-15z" fill="#40adc1"/>
<path d="M644 630h15v15h-15z" fill="#40b4c1"/>
<path d="M658 630h15v15h-15z" fill="#40bbc2"/>
<path d="M672 630h15v15h-15z" fill="#40c1c4"/>
<path d="M686 630h15v15h-15z" fill="#40c7c5"/>
<path d="M700 630h15v15h-15z" fill="#40cdc6"/>
<path d="M714 630h15v15h-15z" fill="#40d2c8"/>
<path d="M728 630h15v15h-15z" fill="#40d6ca"/>
<path d="M742 630h15v15h-15z" fill="#40dbcb"/>
<path d="M756 630h15v15h-15z" fill="#40decc"/>
<path d="M770 630h15v15h-15z" fill="#41e1cc"/>
<path d="M784 630h15v15h-15z" fill="#41e4cc"/>
<path d="M798 630h15v15h-15z" fill="#41e6cc"/>
<path d="M812 630h15v15h-15z" fill="#42e8cb"/>
<path d="M826 630h15v15h-15z" fill="#43eaca"/>
<path d="M840 630h15v15h-15z" fill="#43ebca"/>
<path d="M854 630h15v15h-15z" fill="#44ecc9"/>
<path d="M868 630h15v15h-15z" fill="#45edc8"/>
<path d="M882 630h15v15h-15z" fill="#45efc7"/>
<path d="M896 630h15v15h-15z" fill="#46efc6"/>
<path d="M910 630h15v15h-15z" fill="#46f0c6"/>
<path d="M924 630h15v15h-15z" fill="#47f1c5"/>
<path d="M938 630h15v15h-15z" fill="#47f2c4"/>
<path d="M952 630h15v15h-15z" fill="#48f2c3"/>
<path d="M966 630h15v15h-15z" fill="#48f3c3"/>
<path d="M980 630h15v15h-15z" fill="#48f4c2"/>
<path d="M994 630h15v15h-15z" fill="#48f4c1"/>
<path d="M1008 630h15v15h-15z" fill="#48f4c1"/>
<path d="M1022 630h15v15h-15z" fill="#47f5c0"/>
<path d="M1036 630h15v15h-15z" fill="#47f5bf"/>
<path d="M1050 630h15v15h-15z" fill="#46f5bf"/>
<path d="M1064 630h15v15h-15z" fill="#46f5be"/>
<path d="M1078 630h15v15h-15z" fill="#45f5be"/>
<path d="M1092 630h15v15h-15z" fill="#44f5be"/>
<path d="M1106 630h15v15h-15z" fill="#43f4be"/>
<path d="M1120 630h15v15h-15z" fill="#42f3be"/>
<path d="M1134 630h15v15h-15z" fill="#41f2be"/>
<path d="M1148 630h15v15h-15z" fill="#41f1be"/>
<path d="M1162 630h15v15h-15z" fill="#40efbe"/>
<path d="M1176 630h15v15h-15z" fill="#40ecbd"/>
<path d="M1190 630h15v15h-15z" fill="#42e6bb"/>
<path d="M476 644h15v15h-15z" fill="#4838ba"/>
<path d="M490 644h15v15h-15z" fill="#483eb9"/>
<path d="M504 644h15v15h-15z" fill="#4846b9"/>
<path d="M518 644h15v15h-15z" fill="#4750ba"/>
<path d="M532 644h15v15h-15z" fill="#465cbb"/>
<path d="M546 644h15v15h-15z" fill="#4568bc"/>
<path d="M560 644h15v15h-15z" fill="#4474bd"/>
<path d="M574 644h15v15h-15z" fill="#4280bf"/>
<path d="M588 644h15v15h-15z" fill="#418cc0"/>
<path d="M602 644h15v15h-15z" fill="#4197c1"/>
<path d="M616 644h15v15h-15z" fill="#40a1c2"/>
<path d="M630 644h15v15h-15z" fill="#40a9c2"/>
<path d="M644 644h15v15h-15z" fill="#40b0c3"/>
<path d="M658 644h15v15h-15z" fill="#40b7c4"/>
<path d="M672 644h15v15h-15z" fill="#40bdc5"/>
<path d="M686 644h15v15h-15z" fill="#40c3c7"/>
<path d="M700 644h15v15h-15z" fill="#40cac7"/>
<path d="M714 644h15v15h-15z" fill="#40cfc9"/>
<path d="M728 644h15v15h-15z" fill="#40d4cc"/>
<path d="M742 644h15v15h-15z" fill="#40d8ce"/>
<path d="M756 644h15v15h-15z" fill="#40dcd0"/>
<path d="M770 644h15v15h-15z" fill="#40dfd0"/>
<path d="M784 644h15v15h-15z" fill="#41e1d1"/>
<path d="M798 644h15v15h-15z" fill="#41e3d1"/>
<path d="M812 644h15v15h-15z" fill="#41e5d1"/>
<path d="M826 644h15v15h-15z" fill="#42e7d0"/>
<path d="M840 644h15v15h-15z" fill="#42e8d0"/>
<path d="M854 644h15v15h-15z" fill="#43eacf"/>
<path d="M868 644h15v15h-15z" fill="#43ebce"/>
<path d="M882 644h15v15h-15z" fill="#44ecce"/>
<path d="M896 644h15v15h-15z" fill="#44eccd"/>
<path d="M910 644h15v15h-15z" fill="#45edcc"/>
<path d="M924 644h15v15h-15z" fill="#45eecc"/>
<path d="M938 644h15v15h-15z" fill="#46eecb"/>
<path d="M952 644h15v15h-15z" fill="#46efca"/>
<path d="M966 644h15v15h-15z" fill="#46efca"/>
<path d="M980 644h15v15h-15z" fill="#46f0c9"/>
<path d="M994 644h15v15h-15z" fill="#46f1c9"/>
<path d="M1008 644h15v15h-15z" fill="#46f1c8"/>
<path d="M1022 644h15v15h-15z" fill="#46f1c7"/>
<path d="M1036 644h15v15h-15z" fill="#45f2c7"/>
<path d="M1050 644h15v15h-15z" fill="#45f2c7"/>
<path d="M1064 644h15v15h-15z" fill="#44f2c6"/>
<path d="M1078 644h15v15h-15z" fill="#43f2c6"/>
<path d="M1092 644h15v15h-15z" fill="#43f1c6"/>
<path d="M1106 644h15v15h-15z" fill="#42f1c7"/>
<path d="M1120 644h15v15h-15z" fill="#41f0c7"/>
<path d="M1134 644h15v15h-15z" fill="#40efc8"/>
<path d="M1148 644h15v15h-15z" fill="#40edc8"/>
<path d="M1162 644h15v15h-15z" fill="#40ebc8"/>
<path d="M1176 644h15v15h-15z" fill="#40e7c7"/>
<path d="M1190 644h15v15h-15z" fill="#41e2c6"/>
<path d="M476 658h15v15h-15z" fill="#4835bb"/>
<path d="M490 658h15v15h-15z" fill="#483bbb"/>
<path d="M504 658h15v15h-15z" fill="#4742bb"/>
<path d="M518 658h15v15h-15z" fill="#474bbc"/>
<path d="M532 658h15v15h-15z" fill="#4655bc"/>
<path d="M546 658h15v15h-15z" fill="#4560bd"/>
<path d="M560 658h15v15h-15z" fill="#446cbe"/>
<path d="M574 658h15v15h-15z" fill="#4379c0"/>
<path d="M588 658h15v15h-15z" fill="#4285c1"/>
<path d="M602 658h15v15h-15z" fill="#4191c2"/>
<path d="M616 658h15v15h-15z" fill="#409cc4"/>
<path d="M630 658h15v15h-15z" fill="#40a3c4"/>
<path d="M644 658h15v15h-15z" fill="#40aac5"/>
<path d="M658 658h15v15h-15z" fill="#40b1c6"/>
<path d="M672 658h15v15h-15z" fill="#40b8c7"/>
<path d="M686 658h15v15h-15z" fill="#40bec8"/>
<path d="M700 658h15v15h-15z" fill="#40c4c9"/>
<path d="M714 658h15v15h-15z" fill="#40cacb"/>
<path d="M728 658h15v15h-15z" fill="#40cfce"/>
<path d="M742 658h15v15h-15z" fill="#40d3d0"/>
<path d="M756 658h15v15h-15z" fill="#40d7d2"/>
<path d="M770 658h15v15h-15z" fill="#40dad4"/>
<path d="M784 658h15v15h-15z" fill="#40ddd4"/>
<path d="M798 658h15v15h-15z" fill="#40e0d5"/>
<path d="M812 658h15v15h-15z" fill="#41e2d6"/>
<path d="M826 658h15v15h-15z" fill="#41e4d5"/>
<path d="M840 658h15v15h-15z" fill="#42e5d5"/>
<path d="M854 658h15v15h-15z" fill="#42e6d4"/>
<path d="M868 658h15v15h-15z" fill="#42e7d4"/>
<path d="M882 658h15v15h-15z" fill="#43e8d3"/>
<path d="M896 658h15v15h-15z" fill="#43e9d3"/>
<path d="M910 658h15v15h-15z" fill="#44e9d2"/>
<path d="M924 658h15v15h-15z" fill="#44ead2"/>
<path d="M938 658h15v15h-15z" fill="#44ead1"/>
<path d="M952 658h15v15h-15z" fill="#44ebd1"/>
<path d="M966 658h15v15h-15z" fill="#45ebd0"/>
<path d="M980 658h15v15h-15z" fill="#45ecd0"/>
<path d="M994 658h15v15h-15z" fill="#45ecd0"/>
<path d="M1008 658h15v15h-15z" fill="#44edcf"/>
<path d="M1022 658h15v15h-15z" fill="#44edcf"/>
<path d="M1036 658h15v15h-15z" fill="#44edce"/>
<path d="M1050 658h15v15h-15z" fill="#43edce"/>
<path d="M1064 658h15v15h-15z" fill="#43eece"/>
<path d="M1078 658h15v15h-15z" fill="#42edce"/>
<path d="M1092 658h15v15h-15z" fill="#42edce"/>
<path d="M1106 658h15v15h-15z" fill="#41eccf"/>
<path d="M1120 658h15v15h-15z" fill="#41ecd0"/>
<path d="M1134 658h15v15h-15z" fill="#40ead1"/>
<path d="M1148 658h15v15h-15z" fill="#40e9d2"/>
<path d="M1162 658h15v15h-15z" fill="#40e6d2"/>
<path d="M1176 658h15v15h-15z" fill="#40e2d2"/>
<path d="M1190 658h15v15h-15z" fill="#41dccf"/>
<path d="M490 672h15v15h-15z" fill="#4837bc"/>
<path d="M504 672h15v15h-15z" fill="#473ebc"/>
<path d="M518 672h15v15h-15z" fill="#4745bd"/>
<path d="M532 672h15v15h-15z" fill="#464dbe"/>
<path d="M546 672h15v15h-15z" fill="#4557bf"/>
<path d="M560 672h15v15h-15z" fill="#4463bf"/>
<path d="M574 672h15v15h-15z" fill="#4370c1"/>
<path d="M588 672h15v15h-15z" fill="#427cc2"/>
<path d="M602 672h15v15h-15z" fill="#4189c3"/>
<path d="M616 672h15v15h-15z" fill="#4094c4"/>
<path d="M630 672h15v15h-15z" fill="#409cc5"/>
<path d="M644 672h15v15h-15z" fill="#40a3c6"/>
<path d="M658 672h15v15h-15z" fill="#40aac8"/>
<path d="M672 672h15v15h-15z" fill="#40b1c9"/>
<path d="M686 672h15v15h-15z" fill="#40b7cb"/>
<path d="M700 672h15v15h-15z" fill="#40becc"/>
<path d="M714 672h15v15h-15z" fill="#40c3ce"/>
<path d="M728 672h15v15h-15z" fill="#40c8d0"/>
<path d="M742 672h15v15h-15z" fill="#40cdd2"/>
<path d="M756 672h15v15h-15z" fill="#40d1d4"/>
<path d="M770 672h15v15h-15z" fill="#40d4d6"/>
<path d="M784 672h15v15h-15z" fill="#40d8d7"/>
<path d="M798 672h15v15h-15z" fill="#40dbd9"/>
<path d="M812 672h15v15h-15z" fill="#40deda"/>
<path d="M826 672h15v15h-15z" fill="#41dfda"/>
<path d="M840 672h15v15h-15z" fill="#41e0d9"/>
<path d="M854 672h15v15h-15z" fill="#41e1d9"/>
<path d="M868 672h15v15h-15z" fill="#42e2d9"/>
<path d="M882 672h15v15h-15z" fill="#42e3d9"/>
<path d="M896 672h15v15h-15z" fill="#42e4d8"/>
<path d="M910 672h15v15h-15z" fill="#42e4d8"/>
<path d="M924 672h15v15h-15z" fill="#43e5d8"/>
<path d="M938 672h15v15h-15z" fill="#43e5d7"/>
<path d="M952 672h15v15h-15z" fill="#43e5d7"/>
<path d="M966 672h15v15h-15z" fill="#43e6d7"/>
<path d="M980 672h15v15h-15z" fill="#43e7d6"/>
<path d="M994 672h15v15h-15z" fill="#43e7d6"/>
<path d="M1008 672h15v15h-15z" fill="#43e8d6"/>
<path d="M1022 672h15v15h-15z" fill="#43e8d5"/>
<path d="M1036 672h15v15h-15z" fill="#43e8d5"/>
<path d="M1050 672h15v15h-15z" fill="#42e8d5"/>
<path d="M1064 672h15v15h-15z" fill="#42e8d5"/>
<path d="M1078 672h15v15h-15z" fill="#42e8d5"/>
<path d="M1092 672h15v15h-15z" fill="#41e8d5"/>
<path d="M1106 672h15v15h-15z" fill="#41e7d6"/>
<path d="M1120 672h15v15h-15z" fill="#40e6d7"/>
<path d="M1134 672h15v15h-15z" fill="#40e4d9"/>
<path d="M1148 672h15v15h-15z" fill="#40e2da"/>
<path d="M1162 672h15v15h-15z" fill="#40e0dc"/>
<path d="M1176 672h15v15h-15z" fill="#40dbdb"/>
<path d="M1190 672h15v15h-15z" fill="#41d5d8"/>
<path d="M504 686h15v15h-15z" fill="#4739be"/>
<path d="M518 686h15v15h-15z" fill="#473ebe"/>
<path d="M532 686h15v15h-15z" fill="#4645bf"/>
<path d="M546 686h15v15h-15z" fill="#464dc0"/>
<path d="M560 686h15v15h-15z" fill="#455ac0"/>
<path d="M574 686h15v15h-15z" fill="#4366c1"/>
<path d="M588 686h15v15h-15z" fill="#4273c2"/>
<path d="M602 686h15v15h-15z" fill="#417fc4"/>
<path d="M616 686h15v15h-15z" fill="#4189c5"/>
<path d="M630 686h15v15h-15z" fill="#4092c6"/>
<path d="M644 686h15v15h-15z" fill="#409ac7"/>
<path d="M658 686h15v15h-15z" fill="#40a2c9"/>
<path d="M672 686h15v15h-15z" fill="#40a9cb"/>
<path d="M686 686h15v15h-15z" fill="#40b0cc"/>
<path d="M700 686h15v15h-15z" fill="#40b6ce"/>
<path d="M714 686h15v15h-15z" fill="#40bccf"/>
<path d="M728 686h15v15h-15z" fill="#40c1d1"/>
<path d="M742 686h15v15h-15z" fill="#40c5d4"/>
<path d="M756 686h15v15h-15z" fill="#40c9d6"/>
<path d="M770 686h15v15h-15z" fill="#40cdd8"/>
<path d="M784 686h15v15h-15z" fill="#40d1da"/>
<path d="M798 686h15v15h-15z" fill="#40d4db"/>
<path d="M812 686h15v15h-15z" fill="#40d7dd"/>
<path d="M826 686h15v15h-15z" fill="#40d9dd"/>
<path d="M840 686h15v15h-15z" fill="#40dadc"/>
<path d="M854 686h15v15h-15z" fill="#41dbdc"/>
<path d="M868 686h15v15h-15z" fill="#41dcdd"/>
<path d="M882 686h15v15h-15z" fill="#41dedd"/>
<path d="M896 686h15v15h-15z" fill="#41dfdd"/>
<path d="M910 686h15v15h-15z" fill="#42dfdd"/>
<path d="M924 686h15v15h-15z" fill="#42dfdc"/>
<path d="M938 686h15v15h-15z" fill="#42dfdc"/>
<path d="M952 686h15v15h-15z" fill="#42dfdc"/>
<path d="M966 686h15v15h-15z" fill="#42e0dc"/>
<path d="M980 686h15v15h-15z" fill="#42e1dc"/>
<path d="M994 686h15v15h-15z" fill="#42e1dc"/>
<path d="M1008 686h15v15h-15z" fill="#42e2dc"/>
<path d="M1022 686h15v15h-15z" fill="#42e2db"/>
<path d="M1036 686h15v15h-15z" fill="#42e2db"/>
<path d="M1050 686h15v15h-15z" fill="#42e2db"/>
<path d="M1064 686h15v15h-15z" fill="#41e2db"/>
<path d="M1078 686h15v15h-15z" fill="#41e2db"/>
<path d="M1092 686h15v15h-15z" fill="#41e2dc"/>
<path d="M1106 686h15v15h-15z" fill="#40e1dc"/>
<path d="M1120 686h15v15h-15z" fill="#40e0de"/>
<path d="M1134 686h15v15h-15z" fill="#40dedf"/>
<path d="M1148 686h15v15h-15z" fill="#40dbe1"/>
<path d="M1162 686h15v15h-15z" fill="#40d8e3"/>
<path d="M1176 686h15v15h-15z" fill="#40d3e3"/>
<path d="M1190 686h15v15h-15z" fill="#41cddf"/>
<path d="M504 700h15v15h-15z" fill="#4734bf"/>
<path d="M518 700h15v15h-15z" fill="#4739c0"/>
<path d="M532 700h15v15h-15z" fill="#463ec0"/>
<path d="M546 700h15v15h-15z" fill="#4646c1"/>
<path d="M560 700h15v15h-15z" fill="#4551c1"/>
<path d="M574 700h15v15h-15z" fill="#445dc2"/>
<path d="M588 700h15v15h-15z" fill="#4369c3"/>
<path d="M602 700h15v15h-15z" fill="#4275c4"/>
<path d="M616 700h15v15h-15z" fill="#417fc5"/>
<path d="M630 700h15v15h-15z" fill="#4188c7"/>
<path d="M644 700h15v15h-15z" fill="#4091c8"/>
<path d="M658 700h15v15h-15z" fill="#4099ca"/>
<path d="M672 700h15v15h-15z" fill="#40a1cb"/>
<path d="M686 700h15v15h-15z" fill="#40a8cd"/>
<path d="M700 700h15v15h-15z" fill="#40aecf"/>
<path d="M714 700h15v15h-15z" fill="#40b4d1"/>
<path d="M728 700h15v15h-15z" fill="#40b9d3"/>
<path d="M742 700h15v15h-15z" fill="#40bdd5"/>
<path d="M756 700h15v15h-15z" fill="#40c1d7"/>
<path d="M770 700h15v15h-15z" fill="#40c5d9"/>
<path d="M784 700h15v15h-15z" fill="#40c9db"/>
<path d="M798 700h15v15h-15z" fill="#40ccdc"/>
<path d="M812 700h15v15h-15z" fill="#40cfde"/>
<path d="M826 700h15v15h-15z" fill="#40d1de"/>
<path d="M840 700h15v15h-15z" fill="#40d2de"/>
<path d="M854 700h15v15h-15z" fill="#40d4df"/>
<path d="M868 700h15v15h-15z" fill="#40d5e0"/>
<path d="M882 700h15v15h-15z" fill="#40d7e1"/>
<path d="M896 700h15v15h-15z" fill="#40d8e2"/>
<path d="M910 700h15v15h-15z" fill="#41d8e1"/>
<path d="M924 700h15v15h-15z" fill="#41d8e0"/>
<path d="M938 700h15v15h-15z" fill="#41d8e0"/>
<path d="M952 700h15v15h-15z" fill="#41d8e0"/>
<path d="M966 700h15v15h-15z" fill="#41d9e1"/>
<path d="M980 700h15v15h-15z" fill="#41dae1"/>
<path d="M994 700h15v15h-15z" fill="#41dbe2"/>
<path d="M1008 700h15v15h-15z" fill="#41dbe1"/>
<path d="M1022 700h15v15h-15z" fill="#41dbe0"/>
<path d="M1036 700h15v15h-15z" fill="#41dbe0"/>
<path d="M1050 700h15v15h-15z" fill="#41dbe0"/>
<path d="M1064 700h15v15h-15z" fill="#41dbe0"/>
<path d="M1078 700h15v15h-15z" fill="#40dbe0"/>
<path d="M1092 700h15v15h-15z" fill="#40dbe1"/>
<path d="M1106 700h15v15h-15z" fill="#40dae1"/>
<path d="M1120 700h15v15h-15z" fill="#40d8e2"/>
<path d="M1134 700h15v15h-15z" fill="#40d5e4"/>
<path d="M1148 700h15v15h-15z" fill="#40d2e6"/>
<path d="M1162 700h15v15h-15z" fill="#40cee8"/>
<path d="M1176 700h15v15h-15z" fill="#40c9e8"/>
<path d="M1190 700h15v15h-15z" fill="#41c3e3"/>
<path d="M518 714h15v15h-15z" fill="#4634c1"/>
<path d="M532 714h15v15h-15z" fill="#4639c1"/>
<path d="M546 714h15v15h-15z" fill="#4641c2"/>
<path d="M560 714h15v15h-15z" fill="#454ac3"/>
<path d="M574 714h15v15h-15z" fill="#4454c3"/>
<path d="M588 714h15v15h-15z" fill="#435ec4"/>
<path d="M602 714h15v15h-15z" fill="#4269c4"/>
<path d="M616 714h15v15h-15z" fill="#4273c6"/>
<path d="M630 714h15v15h-15z" fill="#417dc7"/>
<path d="M644 714h15v15h-15z" fill="#4186c9"/>
<path d="M658 714h15v15h-15z" fill="#4090ca"/>
<path d="M672 714h15v15h-15z" fill="#4098cc"/>
<path d="M686 714h15v15h-15z" fill="#409fce"/>
<path d="M700 714h15v15h-15z" fill="#40a5cf"/>
<path d="M714 714h15v15h-15z" fill="#40abd1"/>
<path d="M728 714h15v15h-15z" fill="#40b0d4"/>
<path d="M742 714h15v15h-15z" fill="#40b4d6"/>
<path d="M756 714h15v15h-15z" fill="#40b9d8"/>
<path d="M770 714h15v15h-15z" fill="#40bcda"/>
<path d="M784 714h15v15h-15z" fill="#40c0db"/>
<path d="M798 714h15v15h-15z" fill="#40c3dd"/>
<path d="M812 714h15v15h-15z" fill="#40c6de"/>
<path d="M826 714h15v15h-15z" fill="#40c8df"/>
<path d="M840 714h15v15h-15z" fill="#40c9e0"/>
<path d="M854 714h15v15h-15z" fill="#40cbe0"/>
<path d="M868 714h15v15h-15z" fill="#40cde2"/>
<path d="M882 714h15v15h-15z" fill="#40cfe3"/>
<path d="M896 714h15v15h-15z" fill="#40d0e4"/>
<path d="M910 714h15v15h-15z" fill="#40d0e4"/>
<path d="M924 714h15v15h-15z" fill="#40cfe3"/>
<path d="M938 714h15v15h-15z" fill="#41cfe3"/>
<path d="M952 714h15v15h-15z" fill="#41cfe4"/>
<path d="M966 714h15v15h-15z" fill="#41d0e5"/>
<path d="M980 714h15v15h-15z" fill="#41d2e6"/>
<path d="M994 714h15v15h-15z" fill="#41d3e6"/>
<path d="M1008 714h15v15h-15z" fill="#41d3e6"/>
<path d="M1022 714h15v15h-15z" fill="#41d3e5"/>
<path d="M1036 714h15v15h-15z" fill="#41d2e4"/>
<path d="M1050 714h15v15h-15z" fill="#40d2e3"/>
<path d="M1064 714h15v15h-15z" fill="#40d3e3"/>
<path d="M1078 714h15v15h-15z" fill="#40d3e4"/>
<path d="M1092 714h15v15h-15z" fill="#40d3e5"/>
<path d="M1106 714h15v15h-15z" fill="#40d1e5"/>
<path d="M1120 714h15v15h-15z" fill="#40cee6"/>
<path d="M1134 714h15v15h-15z" fill="#40cce7"/>
<path d="M1148 714h15v15h-15z" fill="#40c8e8"/>
<path d="M1162 714h15v15h-15z" fill="#40c2e9"/>
<path d="M1176 714h15v15h-15z" fill="#40bce8"/>
<path d="M1190 714h15v15h-15z" fill="#41b6e5"/>
<path d="M532 728h15v15h-15z" fill="#4635c3"/>
<path d="M546 728h15v15h-15z" fill="#453bc3"/>
<path d="M560 728h15v15h-15z" fill="#4542c4"/>
<path d="M574 728h15v15h-15z" fill="#444ac4"/>
<path d="M588 728h15v15h-15z" fill="#4453c5"/>
<path d="M602 728h15v15h-15z" fill="#435cc6"/>
<path d="M616 728h15v15h-15z" fill="#4266c7"/>
<path d="M630 728h15v15h-15z" fill="#4270c8"/>
<path d="M644 728h15v15h-15z" fill="#417bc9"/>
<path d="M658 728h15v15h-15z" fill="#4085ca"/>
<path d="M672 728h15v15h-15z" fill="#408fcc"/>
<path d="M686 728h15v15h-15z" fill="#4096ce"/>
<path d="M700 728h15v15h-15z" fill="#409bd0"/>
<path d="M714 728h15v15h-15z" fill="#40a1d2"/>
<path d="M728 728h15v15h-15z" fill="#40a6d4"/>
<path d="M742 728h15v15h-15z" fill="#40abd6"/>
<path d="M756 728h15v15h-15z" fill="#40b0d8"/>
<path d="M770 728h15v15h-15z" fill="#40b3da"/>
<path d="M784 728h15v15h-15z" fill="#40b7dc"/>
<path d="M798 728h15v15h-15z" fill="#40b9dd"/>
<path d="M812 728h15v15h-15z" fill="#40bcde"/>
<path d="M826 728h15v15h-15z" fill="#40bedf"/>
<path d="M840 728h15v15h-15z" fill="#40bfe0"/>
<path d="M854 728h15v15h-15z" fill="#40c1e1"/>
<path d="M868 728h15v15h-15z" fill="#40c3e2"/>
<path d="M882 728h15v15h-15z" fill="#40c5e4"/>
<path d="M896 728h15v15h-15z" fill="#40c6e5"/>
<path d="M910 728h15v15h-15z" fill="#40c5e5"/>
<path d="M924 728h15v15h-15z" fill="#40c5e5"/>
<path d="M938 728h15v15h-15z" fill="#40c5e5"/>
<path d="M952 728h15v15h-15z" fill="#40c5e6"/>
<path d="M966 728h15v15h-15z" fill="#40c7e7"/>
<path d="M980 728h15v15h-15z" fill="#40c8e8"/>
<path d="M994 728h15v15h-15z" fill="#40caea"/>
<path d="M1008 728h15v15h-15z" fill="#40c9e8"/>
<path d="M1022 728h15v15h-15z" fill="#40c9e7"/>
<path d="M1036 728h15v15h-15z" fill="#40c8e6"/>
<path d="M1050 728h15v15h-15z" fill="#40c8e6"/>
<path d="M1064 728h15v15h-15z" fill="#40c8e6"/>
<path d="M1078 728h15v15h-15z" fill="#40c9e7"/>
<path d="M1092 728h15v15h-15z" fill="#40cae7"/>
<path d="M1106 728h15v15h-15z" fill="#40c7e7"/>
<path d="M1120 728h15v15h-15z" fill="#40c3e8"/>
<path d="M1134 728h15v15h-15z" fill="#40bfe8"/>
<path d="M1148 728h15v15h-15z" fill="#40bae8"/>
<path d="M1162 728h15v15h-15z" fill="#40b4e9"/>
<path d="M1176 728h15v15h-15z" fill="#40ade8"/>
<path d="M1190 728h15v15h-15z" fill="#40a9e6"/>
<path d="M546 742h15v15h-15z" fill="#4535c4"/>
<path d="M560 742h15v15h-15z" fill="#453bc5"/>
<path d="M574 742h15v15h-15z" fill="#4541c6"/>
<path d="M588 742h15v15h-15z" fill="#4447c6"/>
<path d="M602 742h15v15h-15z" fill="#444ec7"/>
<path d="M616 742h15v15h-15z" fill="#4359c8"/>
<path d="M630 742h15v15h-15z" fill="#4264c9"/>
<path d="M644 742h15v15h-15z" fill="#416fca"/>
<path d="M658 742h15v15h-15z" fill="#4179cb"/>
<path d="M672 742h15v15h-15z" fill="#4083cc"/>
<path d="M686 742h15v15h-15z" fill="#408ace"/>
<path d="M700 742h15v15h-15z" fill="#4090d0"/>
<path d="M714 742h15v15h-15z" fill="#4096d2"/>
<path d="M728 742h15v15h-15z" fill="#409cd4"/>
<path d="M742 742h15v15h-15z" fill="#40a1d6"/>
<path d="M756 742h15v15h-15z" fill="#40a6d8"/>
<path d="M770 742h15v15h-15z" fill="#40aada"/>
<path d="M784 742h15v15h-15z" fill="#40addc"/>
<path d="M798 742h15v15h-15z" fill="#40afdd"/>
<path d="M812 742h15v15h-15z" fill="#40b2de"/>
<path d="M826 742h15v15h-15z" fill="#40b4df"/>
<path d="M840 742h15v15h-15z" fill="#40b5e0"/>
<path d="M854 742h15v15h-15z" fill="#40b7e1"/>
<path d="M868 742h15v15h-15z" fill="#40b9e3"/>
<path d="M882 742h15v15h-15z" fill="#40bae4"/>
<path d="M896 742h15v15h-15z" fill="#40bae5"/>
<path d="M910 742h15v15h-15z" fill="#40bae5"/>
<path d="M924 742h15v15h-15z" fill="#40bae5"/>
<path d="M938 742h15v15h-15z" fill="#40b9e6"/>
<path d="M952 742h15v15h-15z" fill="#40bae7"/>
<path d="M966 742h15v15h-15z" fill="#40bbe8"/>
<path d="M980 742h15v15h-15z" fill="#40bde9"/>
<path d="M994 742h15v15h-15z" fill="#40beea"/>
<path d="M1008 742h15v15h-15z" fill="#40bde9"/>
<path d="M1022 742h15v15h-15z" fill="#40bde8"/>
<path d="M1036 742h15v15h-15z" fill="#40bce8"/>
<path d="M1050 742h15v15h-15z" fill="#40bce8"/>
<path d="M1064 742h15v15h-15z" fill="#40bce7"/>
<path d="M1078 742h15v15h-15z" fill="#40bce8"/>
<path d="M1092 742h15v15h-15z" fill="#40bbe8"/>
<path d="M1106 742h15v15h-15z" fill="#40b8e8"/>
<path d="M1120 742h15v15h-15z" fill="#40b4e8"/>
<path d="M1134 742h15v15h-15z" fill="#40b0e8"/>
<path d="M1148 742h15v15h-15z" fill="#40abe8"/>
<path d="M1162 742h15v15h-15z" fill="#40a5e8"/>
<path d="M1176 742h15v15h-15z" fill="#40a0e7"/>
<path d="M1190 742h15v15h-15z" fill="#409ce5"/>
<path d="M560 756h15v15h-15z" fill="#4534c6"/>
<path d="M574 756h15v15h-15z" fill="#4539c7"/>
<path d="M588 756h15v15h-15z" fill="#443ec7"/>
<path d="M602 756h15v15h-15z" fill="#4442c8"/>
<path d="M616 756h15v15h-15z" fill="#434dc9"/>
<path d="M630 756h15v15h-15z" fill="#4258c9"/>
<path d="M644 756h15v15h-15z" fill="#4163ca"/>
<path d="M658 756h15v15h-15z" fill="#416dcb"/>
<path d="M672 756h15v15h-15z" fill="#4076cc"/>
<path d="M686 756h15v15h-15z" fill="#407dce"/>
<path d="M700 756h15v15h-15z" fill="#4084d0"/>
<path d="M714 756h15v15h-15z" fill="#408ad2"/>
<path d="M728 756h15v15h-15z" fill="#4091d4"/>
<path d="M742 756h15v15h-15z" fill="#4097d7"/>
<path d="M756 756h15v15h-15z" fill="#409cd8"/>
<path d="M770 756h15v15h-15z" fill="#409fda"/>
<path d="M784 756h15v15h-15z" fill="#40a2dc"/>
<path d="M798 756h15v15h-15z" fill="#40a5dd"/>
<path d="M812 756h15v15h-15z" fill="#40a7de"/>
<path d="M826 756h15v15h-15z" fill="#40a9df"/>
<path d="M840 756h15v15h-15z" fill="#40abe0"/>
<path d="M854 756h15v15h-15z" fill="#40ace1"/>
<path d="M868 756h15v15h-15z" fill="#40aee2"/>
<path d="M882 756h15v15h-15z" fill="#40afe3"/>
<path d="M896 756h15v15h-15z" fill="#40afe4"/>
<path d="M910 756h15v15h-15z" fill="#40afe5"/>
<path d="M924 756h15v15h-15z" fill="#40afe5"/>
<path d="M938 756h15v15h-15z" fill="#40aee6"/>
<path d="M952 756h15v15h-15z" fill="#40aee6"/>
<path d="M966 756h15v15h-15z" fill="#40afe7"/>
<path d="M980 756h15v15h-15z" fill="#40b0e8"/>
<path d="M994 756h15v15h-15z" fill="#40b0e9"/>
<path d="M1008 756h15v15h-15z" fill="#40b0e9"/>
<path d="M1022 756h15v15h-15z" fill="#40afe8"/>
<path d="M1036 756h15v15h-15z" fill="#40afe8"/>
<path d="M1050 756h15v15h-15z" fill="#40aee8"/>
<path d="M1064 756h15v15h-15z" fill="#40ade8"/>
<path d="M1078 756h15v15h-15z" fill="#40ade8"/>
<path d="M1092 756h15v15h-15z" fill="#40abe8"/>
<path d="M1106 756h15v15h-15z" fill="#40a8e8"/>
<path d="M1120 756h15v15h-15z" fill="#40a4e7"/>
<path d="M1134 756h15v15h-15z" fill="#409fe7"/>
<path d="M1148 756h15v15h-15z" fill="#409be7"/>
<path d="M1162 756h15v15h-15z" fill="#4096e7"/>
<path d="M1176 756h15v15h-15z" fill="#4092e6"/>
<path d="M1190 756h15v15h-15z" fill="#408fe4"/>
<path d="M574 770h15v15h-15z" fill="#4532c8"/>
<path d="M588 770h15v15h-15z" fill="#4437c8"/>
<path d="M602 770h15v15h-15z" fill="#443cc9"/>
<path d="M616 770h15v15h-15z" fill="#4344ca"/>
<path d="M630 770h15v15h-15z" fill="#424dca"/>
<path d="M644 770h15v15h-15z" fill="#4257cb"/>
<path d="M658 770h15v15h-15z" fill="#4160cc"/>
<path d="M672 770h15v15h-15z" fill="#4069cc"/>
<path d="M686 770h15v15h-15z" fill="#4070ce"/>
<path d="M700 770h15v15h-15z" fill="#4077d0"/>
<path d="M714 770h15v15h-15z" fill="#407ed3"/>
<path d="M728 770h15v15h-15z" fill="#4085d5"/>
<path d="M742 770h15v15h-15z" fill="#408cd7"/>
<path d="M756 770h15v15h-15z" fill="#4091d8"/>
<path d="M770 770h15v15h-15z" fill="#4094da"/>
<path d="M784 770h15v15h-15z" fill="#4097dc"/>
<path d="M798 770h15v15h-15z" fill="#409add"/>
<path d="M812 770h15v15h-15z" fill="#409cde"/>
<path d="M826 770h15v15h-15z" fill="#409edf"/>
<path d="M840 770h15v15h-15z" fill="#40a0e0"/>
<path d="M854 770h15v15h-15z" fill="#40a2e1"/>
<path d="M868 770h15v15h-15z" fill="#40a3e2"/>
<path d="M882 770h15v15h-15z" fill="#40a3e3"/>
<path d="M896 770h15v15h-15z" fill="#40a4e4"/>
<path d="M910 770h15v15h-15z" fill="#40a4e4"/>
<path d="M924 770h15v15h-15z" fill="#40a3e4"/>
<path d="M938 770h15v15h-15z" fill="#40a3e5"/>
<path d="M952 770h15v15h-15z" fill="#40a3e5"/>
<path d="M966 770h15v15h-15z" fill="#40a3e6"/>
<path d="M980 770h15v15h-15z" fill="#40a3e7"/>
<path d="M994 770h15v15h-15z" fill="#40a3e7"/>
<path d="M1008 770h15v15h-15z" fill="#40a2e8"/>
<path d="M1022 770h15v15h-15z" fill="#40a1e7"/>
<path d="M1036 770h15v15h-15z" fill="#40a0e7"/>
<path d="M1050 770h15v15h-15z" fill="#409fe7"/>
<path d="M1064 770h15v15h-15z" fill="#409ee7"/>
<path d="M1078 770h15v15h-15z" fill="#409ce7"/>
<path d="M1092 770h15v15h-15z" fill="#409ae7"/>
<path d="M1106 770h15v15h-15z" fill="#4097e7"/>
<path d="M1120 770h15v15h-15z" fill="#4093e6"/>
<path d="M1134 770h15v15h-15z" fill="#408fe6"/>
<path d="M1148 770h15v15h-15z" fill="#408be5"/>
<path d="M1162 770h15v15h-15z" fill="#4087e5"/>
<path d="M1176 770h15v15h-15z" fill="#4084e5"/>
<path d="M1190 770h15v15h-15z" fill="#4081e3"/>
<path d="M588 784h15v15h-15z" fill="#4431c9"/>
<path d="M602 784h15v15h-15z" fill="#4436ca"/>
<path d="M616 784h15v15h-15z" fill="#433dcb"/>
<path d="M630 784h15v15h-15z" fill="#4344cb"/>
<path d="M644 784h15v15h-15z" fill="#424bcc"/>
<path d="M658 784h15v15h-15z" fill="#4153cd"/>
<path d="M672 784h15v15h-15z" fill="#415ace"/>
<path d="M686 784h15v15h-15z" fill="#4162cf"/>
<path d="M700 784h15v15h-15z" fill="#406ad1"/>
<path d="M714 784h15v15h-15z" fill="#4071d3"/>
<path d="M728 784h15v15h-15z" fill="#4078d5"/>
<path d="M742 784h15v15h-15z" fill="#407fd7"/>
<path d="M756 784h15v15h-15z" fill="#4085d8"/>
<path d="M770 784h15v15h-15z" fill="#4088da"/>
<path d="M784 784h15v15h-15z" fill="#408bdb"/>
<path d="M798 784h15v15h-15z" fill="#408edd"/>
<path d="M812 784h15v15h-15z" fill="#4091de"/>
<path d="M826 784h15v15h-15z" fill="#4093df"/>
<path d="M840 784h15v15h-15z" fill="#4095e0"/>
<path d="M854 784h15v15h-15z" fill="#4096e1"/>
<path d="M868 784h15v15h-15z" fill="#4097e2"/>
<path d="M882 784h15v15h-15z" fill="#4098e2"/>
<path d="M896 784h15v15h-15z" fill="#4098e3"/>
<path d="M910 784h15v15h-15z" fill="#4098e3"/>
<path d="M924 784h15v15h-15z" fill="#4098e3"/>
<path d="M938 784h15v15h-15z" fill="#4097e4"/>
<path d="M952 784h15v15h-15z" fill="#4097e4"/>
<path d="M966 784h15v15h-15z" fill="#4097e5"/>
<path d="M980 784h15v15h-15z" fill="#4096e6"/>
<path d="M994 784h15v15h-15z" fill="#4095e6"/>
<path d="M1008 784h15v15h-15z" fill="#4094e6"/>
<path d="M1022 784h15v15h-15z" fill="#4092e6"/>
<path d="M1036 784h15v15h-15z" fill="#4091e6"/>
<path d="M1050 784h15v15h-15z" fill="#408fe5"/>
<path d="M1064 784h15v15h-15z" fill="#408ee6"/>
<path d="M1078 784h15v15h-15z" fill="#408ce6"/>
<path d="M1092 784h15v15h-15z" fill="#408ae6"/>
<path d="M1106 784h15v15h-15z" fill="#4086e6"/>
<path d="M1120 784h15v15h-15z" fill="#4083e5"/>
<path d="M1134 784h15v15h-15z" fill="#407fe5"/>
<path d="M1148 784h15v15h-15z" fill="#407ce4"/>
<path d="M1162 784h15v15h-15z" fill="#4078e4"/>
<path d="M1176 784h15v15h-15z" fill="#4075e3"/>
<path d="M1190 784h15v15h-15z" fill="#4073e2"/>
<path d="M1204 784h15v15h-15z" fill="#4172e1"/>
<path d="M616 798h15v15h-15z" fill="#4336cc"/>
<path d="M630 798h15v15h-15z" fill="#433bcc"/>
<path d="M644 798h15v15h-15z" fill="#4241cd"/>
<path d="M658 798h15v15h-15z" fill="#4246ce"/>
<path d="M672 798h15v15h-15z" fill="#424ccf"/>
<path d="M686 798h15v15h-15z" fill="#4154d0"/>
<path d="M700 798h15v15h-15z" fill="#415cd2"/>
<path d="M714 798h15v15h-15z" fill="#4064d3"/>
<path d="M728 798h15v15h-15z" fill="#406bd5"/>
<path d="M742 798h15v15h-15z" fill="#4072d7"/>
<path d="M756 798h15v15h-15z" fill="#4077d8"/>
<path d="M770 798h15v15h-15z" fill="#407bda"/>
<path d="M784 798h15v15h-15z" fill="#407fdb"/>
<path d="M798 798h15v15h-15z" fill="#4082dc"/>
<path d="M812 798h15v15h-15z" fill="#4085de"/>
<path d="M826 798h15v15h-15z" fill="#4087df"/>
<path d="M840 798h15v15h-15z" fill="#408ae0"/>
<path d="M854 798h15v15h-15z" fill="#408be1"/>
<path d="M868 798h15v15h-15z" fill="#408ce1"/>
<path d="M882 798h15v15h-15z" fill="#408ce2"/>
<path d="M896 798h15v15h-15z" fill="#408ce2"/>
<path d="M910 798h15v15h-15z" fill="#408ce2"/>
<path d="M924 798h15v15h-15z" fill="#408ce3"/>
<path d="M938 798h15v15h-15z" fill="#408ce3"/>
<path d="M952 798h15v15h-15z" fill="#408be3"/>
<path d="M966 798h15v15h-15z" fill="#408ae4"/>
<path d="M980 798h15v15h-15z" fill="#4089e4"/>
<path d="M994 798h15v15h-15z" fill="#4088e5"/>
<path d="M1008 798h15v15h-15z" fill="#4086e5"/>
<path d="M1022 798h15v15h-15z" fill="#4084e5"/>
<path d="M1036 798h15v15h-15z" fill="#4082e4"/>
<path d="M1050 798h15v15h-15z" fill="#4080e4"/>
<path d="M1064 798h15v15h-15z" fill="#407ee5"/>
<path d="M1078 798h15v15h-15z" fill="#407ce5"/>
<path d="M1092 798h15v15h-15z" fill="#4079e5"/>
<path d="M1106 798h15v15h-15z" fill="#4076e4"/>
<path d="M1120 798h15v15h-15z" fill="#4072e4"/>
<path d="M1134 798h15v15h-15z" fill="#406ee3"/>
<path d="M1148 798h15v15h-15z" fill="#406be3"/>
<path d="M1162 798h15v15h-15z" fill="#4068e2"/>
<path d="M1176 798h15v15h-15z" fill="#4066e1"/>
<path d="M1190 798h15v15h-15z" fill="#4065e0"/>
<path d="M1204 798h15v15h-15z" fill="#4165e0"/>
<path d="M630 812h15v15h-15z" fill="#4333cd"/>
<path d="M644 812h15v15h-15z" fill="#4238ce"/>
<path d="M658 812h15v15h-15z" fill="#423ccf"/>
<path d="M672 812h15v15h-15z" fill="#4240d0"/>
<path d="M686 812h15v15h-15z" fill="#4148d1"/>
<path d="M700 812h15v15h-15z" fill="#4150d3"/>
<path d="M714 812h15v15h-15z" fill="#4157d4"/>
<path d="M728 812h15v15h-15z" fill="#405ed5"/>
<path d="M742 812h15v15h-15z" fill="#4064d7"/>
<path d="M756 812h15v15h-15z" fill="#406ad8"/>
<path d="M770 812h15v15h-15z" fill="#406eda"/>
<path d="M784 812h15v15h-15z" fill="#4072db"/>
<path d="M798 812h15v15h-15z" fill="#4075dc"/>
<path d="M812 812h15v15h-15z" fill="#4078dd"/>
<path d="M826 812h15v15h-15z" fill="#407bde"/>
<path d="M840 812h15v15h-15z" fill="#407edf"/>
<path d="M854 812h15v15h-15z" fill="#407fe0"/>
<path d="M868 812h15v15h-15z" fill="#4080e1"/>
<path d="M882 812h15v15h-15z" fill="#4080e1"/>
<path d="M896 812h15v15h-15z" fill="#4080e1"/>
<path d="M910 812h15v15h-15z" fill="#4080e1"/>
<path d="M924 812h15v15h-15z" fill="#4080e2"/>
<path d="M938 812h15v15h-15z" fill="#4080e2"/>
<path d="M952 812h15v15h-15z" fill="#407fe2"/>
<path d="M966 812h15v15h-15z" fill="#407ee3"/>
<path d="M980 812h15v15h-15z" fill="#407ce3"/>
<path d="M994 812h15v15h-15z" fill="#407ae4"/>
<path d="M1008 812h15v15h-15z" fill="#4078e4"/>
<path d="M1022 812h15v15h-15z" fill="#4076e3"/>
<path d="M1036 812h15v15h-15z" fill="#4074e3"/>
<path d="M1050 812h15v15h-15z" fill="#4072e3"/>
<path d="M1064 812h15v15h-15z" fill="#406fe3"/>
<path d="M1078 812h15v15h-15z" fill="#406de4"/>
<path d="M1092 812h15v15h-15z" fill="#406ae4"/>
<path d="M1106 812h15v15h-15z" fill="#4067e3"/>
<path d="M1120 812h15v15h-15z" fill="#4063e3"/>
<path d="M1134 812h15v15h-15z" fill="#405ee2"/>
<path d="M1148 812h15v15h-15z" fill="#405be2"/>
<path d="M1162 812h15v15h-15z" fill="#4059e1"/>
<path d="M1176 812h15v15h-15z" fill="#4057e0"/>
<path d="M1190 812h15v15h-15z" fill="#4057e0"/>
<path d="M1204 812h15v15h-15z" fill="#4158df"/>
<path d="M644 826h15v15h-15z" fill="#4231cf"/>
<path d="M658 826h15v15h-15z" fill="#4234d0"/>
<path d="M672 826h15v15h-15z" fill="#4239d1"/>
<path d="M686 826h15v15h-15z" fill="#423fd2"/>
<path d="M700 826h15v15h-15z" fill="#4145d3"/>
<path d="M714 826h15v15h-15z" fill="#414cd5"/>
<path d="M728 826h15v15h-15z" fill="#4052d6"/>
<path d="M742 826h15v15h-15z" fill="#4057d7"/>
<path d="M756 826h15v15h-15z" fill="#405cd8"/>
<path d="M770 826h15v15h-15z" fill="#4061da"/>
<path d="M784 826h15v15h-15z" fill="#4065db"/>
<path d="M798 826h15v15h-15z" fill="#4069dc"/>
<path d="M812 826h15v15h-15z" fill="#406cdd"/>
<path d="M826 826h15v15h-15z" fill="#406fde"/>
<path d="M840 826h15v15h-15z" fill="#4071df"/>
<path d="M854 826h15v15h-15z" fill="#4073df"/>
<path d="M868 826h15v15h-15z" fill="#4074e0"/>
<path d="M882 826h15v15h-15z" fill="#4074e0"/>
<path d="M896 826h15v15h-15z" fill="#4074e0"/>
<path d="M910 826h15v15h-15z" fill="#4074e1"/>
<path d="M924 826h15v15h-15z" fill="#4074e1"/>
<path d="M938 826h15v15h-15z" fill="#4074e1"/>
<path d="M952 826h15v15h-15z" fill="#4072e1"/>
<path d="M966 826h15v15h-15z" fill="#4071e2"/>
<path d="M980 826h15v15h-15z" fill="#406fe2"/>
<path d="M994 826h15v15h-15z" fill="#406ce2"/>
<path d="M1008 826h15v15h-15z" fill="#406ae2"/>
<path d="M1022 826h15v15h-15z" fill="#4068e2"/>
<path d="M1036 826h15v15h-15z" fill="#4066e2"/>
<path d="M1050 826h15v15h-15z" fill="#4064e2"/>
<path d="M1064 826h15v15h-15z" fill="#4061e2"/>
<path d="M1078 826h15v15h-15z" fill="#405fe3"/>
<path d="M1092 826h15v15h-15z" fill="#405ce3"/>
<path d="M1106 826h15v15h-15z" fill="#4058e2"/>
<path d="M1120 826h15v15h-15z" fill="#4054e2"/>
<path d="M1134 826h15v15h-15z" fill="#4050e1"/>
<path d="M1148 826h15v15h-15z" fill="#404de1"/>
<path d="M1162 826h15v15h-15z" fill="#404be0"/>
<path d="M1176 826h15v15h-15z" fill="#404ae0"/>
<path d="M1190 826h15v15h-15z" fill="#4049e0"/>
<path d="M1204 826h15v15h-15z" fill="#414cdf"/>
<path d="M672 840h15v15h-15z" fill="#4232d2"/>
<path d="M686 840h15v15h-15z" fill="#4137d3"/>
<path d="M700 840h15v15h-15z" fill="#413cd4"/>
<path d="M714 840h15v15h-15z" fill="#4142d5"/>
<path d="M728 840h15v15h-15z" fill="#4046d6"/>
<path d="M742 840h15v15h-15z" fill="#404ad7"/>
<path d="M756 840h15v15h-15z" fill="#404fd8"/>
<path d="M770 840h15v15h-15z" fill="#4054d9"/>
<path d="M784 840h15v15h-15z" fill="#4058da"/>
<path d="M798 840h15v15h-15z" fill="#405cdb"/>
<path d="M812 840h15v15h-15z" fill="#4060dc"/>
<path d="M826 840h15v15h-15z" fill="#4063dd"/>
<path d="M840 840h15v15h-15z" fill="#4065de"/>
<path d="M854 840h15v15h-15z" fill="#4067de"/>
<path d="M868 840h15v15h-15z" fill="#4067df"/>
<path d="M882 840h15v15h-15z" fill="#4068df"/>
<path d="M896 840h15v15h-15z" fill="#4068e0"/>
<path d="M910 840h15v15h-15z" fill="#4068e0"/>
<path d="M924 840h15v15h-15z" fill="#4067e0"/>
<path d="M938 840h15v15h-15z" fill="#4067e0"/>
<path d="M952 840h15v15h-15z" fill="#4066e0"/>
<path d="M966 840h15v15h-15z" fill="#4064e1"/>
<path d="M980 840h15v15h-15z" fill="#4062e1"/>
<path d="M994 840h15v15h-15z" fill="#405fe1"/>
<path d="M1008 840h15v15h-15z" fill="#405de1"/>
<path d="M1022 840h15v15h-15z" fill="#405ae1"/>
<path d="M1036 840h15v15h-15z" fill="#4057e1"/>
<path d="M1050 840h15v15h-15z" fill="#4055e1"/>
<path d="M1064 840h15v15h-15z" fill="#4053e2"/>
<path d="M1078 840h15v15h-15z" fill="#4051e2"/>
<path d="M1092 840h15v15h-15z" fill="#404fe2"/>
<path d="M1106 840h15v15h-15z" fill="#404ce1"/>
<path d="M1120 840h15v15h-15z" fill="#4048e1"/>
<path d="M1134 840h15v15h-15z" fill="#4044e0"/>
<path d="M1148 840h15v15h-15z" fill="#4041e0"/>
<path d="M1162 840h15v15h-15z" fill="#4041e0"/>
<path d="M1176 840h15v15h-15z" fill="#4040e0"/>
<path d="M1190 840h15v15h-15z" fill="#4041e0"/>
<path d="M1204 840h15v15h-15z" fill="#4144df"/>
<path d="M700 854h15v15h-15z" fill="#4134d5"/>
<path d="M714 854h15v15h-15z" fill="#4139d5"/>
<path d="M728 854h15v15h-15z" fill="#403cd6"/>
<path d="M742 854h15v15h-15z" fill="#403fd7"/>
<path d="M756 854h15v15h-15z" fill="#4042d8"/>
<path d="M770 854h15v15h-15z" fill="#4048d9"/>
<path d="M784 854h15v15h-15z" fill="#404dda"/>
<path d="M798 854h15v15h-15z" fill="#4050db"/>
<path d="M812 854h15v15h-15z" fill="#4054dc"/>
<path d="M826 854h15v15h-15z" fill="#4056dd"/>
<path d="M840 854h15v15h-15z" fill="#4059dd"/>
<path d="M854 854h15v15h-15z" fill="#405ade"/>
<path d="M868 854h15v15h-15z" fill="#405bde"/>
<path d="M882 854h15v15h-15z" fill="#405cdf"/>
<path d="M896 854h15v15h-15z" fill="#405cdf"/>
<path d="M910 854h15v15h-15z" fill="#405bdf"/>
<path d="M924 854h15v15h-15z" fill="#405bdf"/>
<path d="M938 854h15v15h-15z" fill="#405adf"/>
<path d="M952 854h15v15h-15z" fill="#4059e0"/>
<path d="M966 854h15v15h-15z" fill="#4057e0"/>
<path d="M980 854h15v15h-15z" fill="#4055e0"/>
<path d="M994 854h15v15h-15z" fill="#4053e1"/>
<path d="M1008 854h15v15h-15z" fill="#4050e1"/>
<path d="M1022 854h15v15h-15z" fill="#404de1"/>
<path d="M1036 854h15v15h-15z" fill="#4049e0"/>
<path d="M1050 854h15v15h-15z" fill="#4047e1"/>
<path d="M1064 854h15v15h-15z" fill="#4046e1"/>
<path d="M1078 854h15v15h-15z" fill="#4045e1"/>
<path d="M1092 854h15v15h-15z" fill="#4044e1"/>
<path d="M1106 854h15v15h-15z" fill="#4041e1"/>
<path d="M1120 854h15v15h-15z" fill="#403ee1"/>
<path d="M1134 854h15v15h-15z" fill="#403be0"/>
<path d="M1148 854h15v15h-15z" fill="#4039e0"/>
<path d="M1162 854h15v15h-15z" fill="#4039e0"/>
<path d="M1176 854h15v15h-15z" fill="#4039e0"/>
<path d="M1190 854h15v15h-15z" fill="#403bdf"/>
<path d="M714 868h15v15h-15z" fill="#4131d6"/>
<path d="M728 868h15v15h-15z" fill="#4034d7"/>
<path d="M742 868h15v15h-15z" fill="#4036d8"/>
<path d="M756 868h15v15h-15z" fill="#403ad8"/>
<path d="M770 868h15v15h-15z" fill="#403ed9"/>
<path d="M784 868h15v15h-15z" fill="#4042da"/>
<path d="M798 868h15v15h-15z" fill="#4046db"/>
<path d="M812 868h15v15h-15z" fill="#4049dc"/>
<path d="M826 868h15v15h-15z" fill="#404bdc"/>
<path d="M840 868h15v15h-15z" fill="#404cdd"/>
<path d="M854 868h15v15h-15z" fill="#404edd"/>
<path d="M868 868h15v15h-15z" fill="#404fde"/>
<path d="M882 868h15v15h-15z" fill="#4050de"/>
<path d="M896 868h15v15h-15z" fill="#4050de"/>
<path d="M910 868h15v15h-15z" fill="#4050df"/>
<path d="M924 868h15v15h-15z" fill="#404fdf"/>
<path d="M938 868h15v15h-15z" fill="#404ddf"/>
<path d="M952 868h15v15h-15z" fill="#404cdf"/>
<path d="M966 868h15v15h-15z" fill="#404bdf"/>
<path d="M980 868h15v15h-15z" fill="#404ae0"/>
<path d="M994 868h15v15h-15z" fill="#4048e0"/>
<path d="M1008 868h15v15h-15z" fill="#4045e0"/>
<path d="M1022 868h15v15h-15z" fill="#4042e0"/>
<path d="M1036 868h15v15h-15z" fill="#403ee0"/>
<path d="M1050 868h15v15h-15z" fill="#403ce0"/>
<path d="M1064 868h15v15h-15z" fill="#403ce0"/>
<path d="M1078 868h15v15h-15z" fill="#403be1"/>
<path d="M1092 868h15v15h-15z" fill="#403ae1"/>
<path d="M1106 868h15v15h-15z" fill="#4039e1"/>
<path d="M1120 868h15v15h-15z" fill="#4037e0"/>
<path d="M1134 868h15v15h-15z" fill="#4035e0"/>
<path d="M1148 868h15v15h-15z" fill="#4034e0"/>
<path d="M742 882h15v15h-15z" fill="#402fd8"/>
<path d="M756 882h15v15h-15z" fill="#4032d9"/>
<path d="M770 882h15v15h-15z" fill="#4036d9"/>
<path d="M784 882h15v15h-15z" fill="#4039da"/>
<path d="M798 882h15v15h-15z" fill="#403cdb"/>
<path d="M812 882h15v15h-15z" fill="#403edb"/>
<path d="M826 882h15v15h-15z" fill="#4040dc"/>
<path d="M840 882h15v15h-15z" fill="#4041dc"/>
<path d="M854 882h15v15h-15z" fill="#4043dd"/>
<path d="M868 882h15v15h-15z" fill="#4044dd"/>
<path d="M882 882h15v15h-15z" fill="#4045de"/>
<path d="M896 882h15v15h-15z" fill="#4046de"/>
<path d="M910 882h15v15h-15z" fill="#4045de"/>
<path d="M924 882h15v15h-15z" fill="#4044de"/>
<path d="M938 882h15v15h-15z" fill="#4042de"/>
<path d="M952 882h15v15h-15z" fill="#4041de"/>
<path d="M966 882h15v15h-15z" fill="#4041df"/>
<path d="M980 882h15v15h-15z" fill="#4040df"/>
<path d="M994 882h15v15h-15z" fill="#403ee0"/>
<path d="M1008 882h15v15h-15z" fill="#403ce0"/>
<path d="M1022 882h15v15h-15z" fill="#4039e0"/>
<path d="M1036 882h15v15h-15z" fill="#4036e0"/>
<path d="M1050 882h15v15h-15z" fill="#4035e0"/>
<path d="M1064 882h15v15h-15z" fill="#4034e0"/>
<path d="M1078 882h15v15h-15z" fill="#4033e0"/>
<path d="M1092 882h15v15h-15z" fill="#4032e0"/>
<path d="M770 896h15v15h-15z" fill="#402fda"/>
<path d="M784 896h15v15h-15z" fill="#4031da"/>
<path d="M798 896h15v15h-15z" fill="#4034db"/>
<path d="M812 896h15v15h-15z" fill="#4036db"/>
<path d="M826 896h15v15h-15z" fill="#4037dc"/>
<path d="M840 896h15v15h-15z" fill="#4038dc"/>
<path d="M854 896h15v15h-15z" fill="#403adc"/>
<path d="M868 896h15v15h-15z" fill="#403bdd"/>
<path d="M882 896h15v15h-15z" fill="#403cdd"/>
<path d="M896 896h15v15h-15z" fill="#403cde"/>
<path d="M910 896h15v15h-15z" fill="#403cde"/>
<path d="M924 896h15v15h-15z" fill="#403ade"/>
<path d="M938 896h15v15h-15z" fill="#4039de"/>
<path d="M952 896h15v15h-15z" fill="#4038de"/>
<path d="M966 896h15v15h-15z" fill="#4038df"/>
<path d="M980 896h15v15h-15z" fill="#4037df"/>
<path d="M994 896h15v15h-15z" fill="#4035df"/>
<path d="M1008 896h15v15h-15z" fill="#4034e0"/>
<path d="M1022 896h15v15h-15z" fill="#4032e0"/>
<path d="M1036 896h15v15h-15z" fill="#4030e0"/>
<path d="M1050 896h15v15h-15z" fill="#402ee0"/>
<path d="M812 910h15v15h-15z" fill="#402edb"/>
<path d="M826 910h15v15h-15z" fill="#402fdc"/>
<path d="M840 910h15v15h-15z" fill="#4031dc"/>
<path d="M854 910h15v15h-15z" fill="#4032dd"/>
<path d="M868 910h15v15h-15z" fill="#4033dd"/>
<path d="M882 910h15v15h-15z" fill="#4034dd"/>
<path d="M896 910h15v15h-15z" fill="#4034de"/>
<path d="M910 910h15v15h-15z" fill="#4033de"/>
<path d="M924 910h15v15h-15z" fill="#4033de"/>
<path d="M938 910h15v15h-15z" fill="#4032de"/>
<path d="M952 910h15v15h-15z" fill="#4031de"/>
<path d="M966 910h15v15h-15z" fill="#4030df"/>
<path d="M980 910h15v15h-15z" fill="#402fdf"/>
<path d="M994 910h15v15h-15z" fill="#402edf"/>
<path d="M896 924h15v15h-15z" fill="#402cde"/>
<path d="M910 924h15v15h-15z" fill="#402cde"/>
</g>
<g fill="none" stroke-width="2.4" stroke-linecap="round" stroke="url(#gc)" style="mix-blend-mode:multiply">
<path d="M992.0 307.0C988.7 308.2 979.0 311.6 972.0 314.0C965.0 316.4 959.2 317.8 950.0 321.5C940.8 325.2 931.9 330.8 917.0 336.0C902.1 341.2 879.3 346.9 860.5 353.0C841.7 359.1 822.8 364.7 804.0 372.7C785.2 380.7 768.8 390.6 747.6 401.0C726.4 411.4 700.1 424.8 677.0 434.8C653.9 444.8 620.2 456.8 608.9 461.2L553.8 490.8L552.4 513.4L552.4 513.4C549.3 522.3 537.3 552.9 534.0 567.0C530.7 581.1 531.5 586.2 532.7 598.0C533.9 609.8 538.1 628.3 541.0 637.6C543.9 646.9 543.8 642.8 550.0 654.0C556.2 665.2 566.2 689.2 578.0 704.7C589.8 720.2 604.1 732.9 620.6 747.0C637.1 761.1 658.2 776.7 677.0 789.4C695.8 802.1 714.7 812.6 733.5 823.0C752.3 833.4 771.2 844.4 790.0 851.5C808.8 858.6 827.6 862.4 846.4 865.6C865.2 868.9 883.5 870.4 902.9 871.0C922.3 871.6 938.8 872.3 962.9 869.2C987.0 866.1 1019.4 858.4 1047.6 852.3C1075.8 846.2 1108.8 837.7 1132.3 832.5C1155.8 827.3 1179.3 823.1 1188.7 821.2"/>
<path d="M986.0 313.0C983.0 314.3 974.0 318.3 968.0 321.0C962.0 323.7 965.6 323.2 950.0 329.0C934.4 334.8 896.6 347.9 874.6 355.7C852.6 363.4 834.5 367.9 818.0 375.5C801.5 383.1 792.2 391.1 775.8 401.0C759.4 410.9 735.9 425.4 719.4 434.8C702.9 444.2 691.1 449.9 677.0 457.4C662.9 464.9 646.5 472.0 634.7 480.0C623.0 488.0 614.5 496.0 606.5 505.4C598.5 514.8 591.5 524.8 586.7 536.4C582.0 548.0 579.6 561.1 578.0 575.0C576.4 588.9 574.4 604.5 576.8 620.0C579.2 635.5 583.6 652.0 592.3 668.0C601.0 684.0 614.9 701.4 629.0 716.0C643.1 730.6 659.6 743.3 677.0 755.5C694.4 767.7 714.7 779.5 733.5 789.4C752.3 799.3 771.2 808.2 790.0 814.8C808.8 821.4 827.6 825.7 846.4 829.0C865.2 832.3 883.5 833.9 902.9 834.5C922.3 835.1 938.8 834.7 962.9 832.5C987.0 830.3 1019.4 825.5 1047.6 821.2C1075.8 817.0 1109.7 810.8 1132.3 807.0C1154.9 803.2 1174.5 800.1 1183.0 798.7"/>
<path d="M978.0 321.0C975.7 322.3 968.7 326.3 964.0 329.0C959.3 331.7 957.8 333.0 950.0 337.0C942.2 341.0 931.9 347.1 917.0 353.0C902.1 358.9 877.0 365.2 860.5 372.7C844.0 380.2 832.1 388.1 818.0 398.0C803.9 407.9 789.9 422.1 775.8 432.0C761.7 441.9 747.6 449.4 733.5 457.4C719.4 465.4 705.1 471.6 691.0 480.0C676.9 488.4 659.6 498.6 648.8 508.0C638.0 517.4 631.4 525.2 626.2 536.4C621.0 547.6 618.9 561.1 617.7 575.0C616.5 588.9 616.2 605.9 619.0 620.0C621.8 634.1 626.4 645.4 634.7 659.5C643.0 673.6 654.5 690.6 668.6 704.7C682.7 718.8 701.5 732.7 719.4 744.0C737.3 755.3 757.0 764.8 775.8 772.4C794.6 780.0 813.5 785.0 832.3 789.4C851.1 793.8 869.1 797.1 888.7 799.0C908.3 800.9 933.0 800.5 950.0 800.7C967.0 800.9 970.0 801.3 991.0 800.0C1012.0 798.7 1052.2 795.3 1075.8 793.0C1099.3 790.7 1115.3 788.6 1132.3 786.0C1149.2 783.4 1170.0 778.9 1177.5 777.5"/>
<path d="M970.0 329.0C968.3 330.3 963.3 334.3 960.0 337.0C956.7 339.7 957.2 340.9 950.0 345.0C942.8 349.1 931.9 354.4 917.0 361.4C902.1 368.4 877.0 377.4 860.5 386.8C844.0 396.2 832.1 407.0 818.0 417.8C803.9 428.6 789.9 441.3 775.8 451.7C761.7 462.1 747.6 470.1 733.5 480.0C719.4 489.9 701.8 500.2 691.0 511.0C680.2 521.8 673.6 533.4 668.6 544.9C663.6 556.4 661.9 567.5 661.0 580.0C660.1 592.5 660.3 608.2 663.0 620.0C665.7 631.8 669.5 639.2 677.0 651.0C684.5 662.8 695.3 678.4 708.0 690.6C720.7 702.8 737.0 715.0 753.0 724.4C769.0 733.8 786.1 740.9 804.0 747.0C821.9 753.1 841.7 757.5 860.5 761.0C879.3 764.5 902.1 766.6 917.0 768.0C931.9 769.4 932.9 768.8 950.0 769.6C967.1 770.4 998.4 772.6 1019.4 773.0C1040.4 773.4 1057.0 773.2 1075.8 771.8C1094.6 770.4 1116.3 767.4 1132.3 764.8C1148.3 762.2 1165.2 757.7 1171.8 756.3"/>
<path d="M733.0 533.0C730.7 536.3 722.8 545.0 719.0 553.0C715.2 561.0 711.5 570.7 710.5 581.0C709.5 591.3 709.5 603.8 713.3 615.0C717.1 626.2 725.0 637.8 733.5 648.0C742.0 658.2 752.8 667.5 764.5 676.5C776.2 685.5 788.0 693.9 804.0 701.9C820.0 709.9 841.7 718.8 860.5 724.4C879.3 730.0 902.1 733.1 917.0 735.7C931.9 738.3 932.9 737.8 950.0 740.0C967.1 742.2 998.4 747.2 1019.4 749.0C1040.4 750.8 1057.0 751.6 1075.8 750.7C1094.6 749.8 1116.8 745.7 1132.3 743.6C1147.8 741.5 1162.9 738.9 1169.0 738.0"/>
</g>
</g>
<g clip-path="url(#ck)">
<g filter="url(#bl)">
<path d="M1120 0h15v15h-15z" fill="#7e3f37"/>
<path d="M1134 0h15v15h-15z" fill="#814038"/>
<path d="M1148 0h15v15h-15z" fill="#834138"/>
<path d="M1078 14h15v15h-15z" fill="#793626"/>
<path d="M1092 14h15v15h-15z" fill="#7b3a2e"/>
<path d="M1106 14h15v15h-15z" fill="#7e3e36"/>
<path d="M1120 14h15v15h-15z" fill="#814038"/>
<path d="M1134 14h15v15h-15z" fill="#834138"/>
<path d="M1036 28h15v15h-15z" fill="#753318"/>
<path d="M1050 28h15v15h-15z" fill="#773119"/>
<path d="M1064 28h15v15h-15z" fill="#79301b"/>
<path d="M1078 28h15v15h-15z" fill="#7c3421"/>
<path d="M1092 28h15v15h-15z" fill="#7e392b"/>
<path d="M1106 28h15v15h-15z" fill="#813d31"/>
<path d="M1120 28h15v15h-15z" fill="#844035"/>
<path d="M994 42h15v15h-15z" fill="#6d3e18"/>
<path d="M1008 42h15v15h-15z" fill="#723a18"/>
<path d="M1022 42h15v15h-15z" fill="#763617"/>
<path d="M1036 42h15v15h-15z" fill="#793316"/>
<path d="M1050 42h15v15h-15z" fill="#7b3015"/>
<path d="M1064 42h15v15h-15z" fill="#7d2e15"/>
<path d="M1078 42h15v15h-15z" fill="#80311a"/>
<path d="M1092 42h15v15h-15z" fill="#833722"/>
<path d="M1106 42h15v15h-15z" fill="#853b2a"/>
<path d="M980 56h15v15h-15z" fill="#6c4418"/>
<path d="M994 56h15v15h-15z" fill="#704118"/>
<path d="M1008 56h15v15h-15z" fill="#753c17"/>
<path d="M1022 56h15v15h-15z" fill="#7a3715"/>
<path d="M1036 56h15v15h-15z" fill="#7e3314"/>
<path d="M1050 56h15v15h-15z" fill="#803113"/>
<path d="M1064 56h15v15h-15z" fill="#823013"/>
<path d="M1078 56h15v15h-15z" fill="#853116"/>
<path d="M1092 56h15v15h-15z" fill="#87351c"/>
<path d="M1106 56h15v15h-15z" fill="#893a24"/>
<path d="M952 70h15v15h-15z" fill="#654d17"/>
<path d="M966 70h15v15h-15z" fill="#6a4b18"/>
<path d="M980 70h15v15h-15z" fill="#6e4819"/>
<path d="M994 70h15v15h-15z" fill="#734519"/>
<path d="M1008 70h15v15h-15z" fill="#794017"/>
<path d="M1022 70h15v15h-15z" fill="#7e3a15"/>
<path d="M1036 70h15v15h-15z" fill="#823613"/>
<path d="M1050 70h15v15h-15z" fill="#853212"/>
<path d="M1064 70h15v15h-15z" fill="#873112"/>
<path d="M1078 70h15v15h-15z" fill="#893315"/>
<path d="M1092 70h15v15h-15z" fill="#8b361a"/>
<path d="M938 84h15v15h-15z" fill="#625416"/>
<path d="M952 84h15v15h-15z" fill="#685217"/>
<path d="M966 84h15v15h-15z" fill="#6d5018"/>
<path d="M980 84h15v15h-15z" fill="#724d19"/>
<path d="M994 84h15v15h-15z" fill="#774919"/>
<path d="M1008 84h15v15h-15z" fill="#7d4317"/>
<path d="M1022 84h15v15h-15z" fill="#833d15"/>
<path d="M1036 84h15v15h-15z" fill="#873913"/>
<path d="M1050 84h15v15h-15z" fill="#8a3512"/>
<path d="M1064 84h15v15h-15z" fill="#8c3412"/>
<path d="M1078 84h15v15h-15z" fill="#8e3515"/>
<path d="M1092 84h15v15h-15z" fill="#8f381a"/>
<path d="M924 98h15v15h-15z" fill="#5f5a16"/>
<path d="M938 98h15v15h-15z" fill="#655916"/>
<path d="M952 98h15v15h-15z" fill="#6b5717"/>
<path d="M966 98h15v15h-15z" fill="#715518"/>
<path d="M980 98h15v15h-15z" fill="#775119"/>
<path d="M994 98h15v15h-15z" fill="#7c4d18"/>
<path d="M1008 98h15v15h-15z" fill="#824717"/>
<path d="M1022 98h15v15h-15z" fill="#884115"/>
<path d="M1036 98h15v15h-15z" fill="#8c3c14"/>
<path d="M1050 98h15v15h-15z" fill="#8f3913"/>
<path d="M1064 98h15v15h-15z" fill="#903814"/>
<path d="M1078 98h15v15h-15z" fill="#923917"/>
<path d="M1092 98h15v15h-15z" fill="#943c1b"/>
<path d="M910 112h15v15h-15z" fill="#5b5f16"/>
<path d="M924 112h15v15h-15z" fill="#625f16"/>
<path d="M938 112h15v15h-15z" fill="#685e16"/>
<path d="M952 112h15v15h-15z" fill="#6e5d17"/>
<path d="M966 112h15v15h-15z" fill="#755a18"/>
<path d="M980 112h15v15h-15z" fill="#7c5719"/>
<path d="M994 112h15v15h-15z" fill="#825219"/>
<path d="M1008 112h15v15h-15z" fill="#884c18"/>
<path d="M1022 112h15v15h-15z" fill="#8d4616"/>
<path d="M1036 112h15v15h-15z" fill="#914115"/>
<path d="M1050 112h15v15h-15z" fill="#933e15"/>
<path d="M1064 112h15v15h-15z" fill="#953d16"/>
<path d="M1078 112h15v15h-15z" fill="#963e19"/>
<path d="M896 126h15v15h-15z" fill="#566316"/>
<path d="M910 126h15v15h-15z" fill="#5d6417"/>
<path d="M924 126h15v15h-15z" fill="#656517"/>
<path d="M938 126h15v15h-15z" fill="#6c6518"/>
<path d="M952 126h15v15h-15z" fill="#736319"/>
<path d="M966 126h15v15h-15z" fill="#7a611a"/>
<path d="M980 126h15v15h-15z" fill="#815d1b"/>
<path d="M994 126h15v15h-15z" fill="#88591a"/>
<path d="M1008 126h15v15h-15z" fill="#8d521a"/>
<path d="M1022 126h15v15h-15z" fill="#924c19"/>
<path d="M1036 126h15v15h-15z" fill="#954618"/>
<path d="M1050 126h15v15h-15z" fill="#974317"/>
<path d="M1064 126h15v15h-15z" fill="#994218"/>
<path d="M1078 126h15v15h-15z" fill="#9a431b"/>
<path d="M882 140h15v15h-15z" fill="#516716"/>
<path d="M896 140h15v15h-15z" fill="#586817"/>
<path d="M910 140h15v15h-15z" fill="#606a18"/>
<path d="M924 140h15v15h-15z" fill="#686c1a"/>
<path d="M938 140h15v15h-15z" fill="#706c1b"/>
<path d="M952 140h15v15h-15z" fill="#786b1c"/>
<path d="M966 140h15v15h-15z" fill="#80681d"/>
<path d="M980 140h15v15h-15z" fill="#86641d"/>
<path d="M994 140h15v15h-15z" fill="#8d5f1d"/>
<path d="M1008 140h15v15h-15z" fill="#92591d"/>
<path d="M1022 140h15v15h-15z" fill="#96521c"/>
<path d="M1036 140h15v15h-15z" fill="#9a4d1b"/>
<path d="M1050 140h15v15h-15z" fill="#9c4a1b"/>
<path d="M1064 140h15v15h-15z" fill="#9d491c"/>
<path d="M1078 140h15v15h-15z" fill="#9f4a1f"/>
<path d="M868 154h15v15h-15z" fill="#4b6b18"/>
<path d="M882 154h15v15h-15z" fill="#526c18"/>
<path d="M896 154h15v15h-15z" fill="#5a6d18"/>
<path d="M910 154h15v15h-15z" fill="#63701a"/>
<path d="M924 154h15v15h-15z" fill="#6c731d"/>
<path d="M938 154h15v15h-15z" fill="#75741f"/>
<path d="M952 154h15v15h-15z" fill="#7e7320"/>
<path d="M966 154h15v15h-15z" fill="#857021"/>
<path d="M980 154h15v15h-15z" fill="#8c6c21"/>
<path d="M994 154h15v15h-15z" fill="#926721"/>
<path d="M1008 154h15v15h-15z" fill="#976121"/>
<path d="M1022 154h15v15h-15z" fill="#9c5a21"/>
<path d="M1036 154h15v15h-15z" fill="#9f5421"/>
<path d="M1050 154h15v15h-15z" fill="#a15321"/>
<path d="M1064 154h15v15h-15z" fill="#a25222"/>
<path d="M1078 154h15v15h-15z" fill="#a35224"/>
<path d="M854 168h15v15h-15z" fill="#456e19"/>
<path d="M868 168h15v15h-15z" fill="#4d701a"/>
<path d="M882 168h15v15h-15z" fill="#55721a"/>
<path d="M896 168h15v15h-15z" fill="#5d741b"/>
<path d="M910 168h15v15h-15z" fill="#67771d"/>
<path d="M924 168h15v15h-15z" fill="#717a20"/>
<path d="M938 168h15v15h-15z" fill="#7a7c22"/>
<path d="M952 168h15v15h-15z" fill="#837b24"/>
<path d="M966 168h15v15h-15z" fill="#8a7824"/>
<path d="M980 168h15v15h-15z" fill="#917425"/>
<path d="M994 168h15v15h-15z" fill="#977026"/>
<path d="M1008 168h15v15h-15z" fill="#9c6b26"/>
<path d="M1022 168h15v15h-15z" fill="#a06527"/>
<path d="M1036 168h15v15h-15z" fill="#a36028"/>
<path d="M1050 168h15v15h-15z" fill="#a55e28"/>
<path d="M1064 168h15v15h-15z" fill="#a65c29"/>
<path d="M840 182h15v15h-15z" fill="#3f701a"/>
<path d="M854 182h15v15h-15z" fill="#46731b"/>
<path d="M868 182h15v15h-15z" fill="#4f761c"/>
<path d="M882 182h15v15h-15z" fill="#58791d"/>
<path d="M896 182h15v15h-15z" fill="#627c1f"/>
<path d="M910 182h15v15h-15z" fill="#6b7f21"/>
<path d="M924 182h15v15h-15z" fill="#758123"/>
<path d="M938 182h15v15h-15z" fill="#7f8225"/>
<path d="M952 182h15v15h-15z" fill="#878127"/>
<path d="M966 182h15v15h-15z" fill="#8f7f28"/>
<path d="M980 182h15v15h-15z" fill="#967c29"/>
<path d="M994 182h15v15h-15z" fill="#9c792a"/>
<path d="M1008 182h15v15h-15z" fill="#a1742c"/>
<path d="M1022 182h15v15h-15z" fill="#a5702d"/>
<path d="M1036 182h15v15h-15z" fill="#a86c2f"/>
<path d="M1050 182h15v15h-15z" fill="#aa692f"/>
<path d="M1064 182h15v15h-15z" fill="#aa672f"/>
<path d="M826 196h15v15h-15z" fill="#38701b"/>
<path d="M840 196h15v15h-15z" fill="#3e741c"/>
<path d="M854 196h15v15h-15z" fill="#47781d"/>
<path d="M868 196h15v15h-15z" fill="#517c1f"/>
<path d="M882 196h15v15h-15z" fill="#5b8121"/>
<path d="M896 196h15v15h-15z" fill="#668423"/>
<path d="M910 196h15v15h-15z" fill="#708625"/>
<path d="M924 196h15v15h-15z" fill="#7a8727"/>
<path d="M938 196h15v15h-15z" fill="#838829"/>
<path d="M952 196h15v15h-15z" fill="#8b872a"/>
<path d="M966 196h15v15h-15z" fill="#93852b"/>
<path d="M980 196h15v15h-15z" fill="#9a832c"/>
<path d="M994 196h15v15h-15z" fill="#a0812e"/>
<path d="M1008 196h15v15h-15z" fill="#a57d30"/>
<path d="M1022 196h15v15h-15z" fill="#aa7a33"/>
<path d="M1036 196h15v15h-15z" fill="#ad7735"/>
<path d="M1050 196h15v15h-15z" fill="#ae7334"/>
<path d="M1064 196h15v15h-15z" fill="#ae7033"/>
<path d="M812 210h15v15h-15z" fill="#336f1c"/>
<path d="M826 210h15v15h-15z" fill="#38731c"/>
<path d="M840 210h15v15h-15z" fill="#3d771d"/>
<path d="M854 210h15v15h-15z" fill="#477c1f"/>
<path d="M868 210h15v15h-15z" fill="#538121"/>
<path d="M882 210h15v15h-15z" fill="#5f8624"/>
<path d="M896 210h15v15h-15z" fill="#6b8b27"/>
<path d="M910 210h15v15h-15z" fill="#758c29"/>
<path d="M924 210h15v15h-15z" fill="#7e8d2a"/>
<path d="M938 210h15v15h-15z" fill="#878d2c"/>
<path d="M952 210h15v15h-15z" fill="#8f8d2d"/>
<path d="M966 210h15v15h-15z" fill="#978b2e"/>
<path d="M980 210h15v15h-15z" fill="#9e892f"/>
<path d="M994 210h15v15h-15z" fill="#a48731"/>
<path d="M1008 210h15v15h-15z" fill="#a98534"/>
<path d="M1022 210h15v15h-15z" fill="#ae8337"/>
<path d="M1036 210h15v15h-15z" fill="#b1803a"/>
<path d="M1050 210h15v15h-15z" fill="#b17c38"/>
<path d="M1064 210h15v15h-15z" fill="#b17936"/>
<path d="M812 224h15v15h-15z" fill="#34721d"/>
<path d="M826 224h15v15h-15z" fill="#39761e"/>
<path d="M840 224h15v15h-15z" fill="#3f7b1f"/>
<path d="M854 224h15v15h-15z" fill="#498021"/>
<path d="M868 224h15v15h-15z" fill="#568524"/>
<path d="M882 224h15v15h-15z" fill="#638a27"/>
<path d="M896 224h15v15h-15z" fill="#6f8e2a"/>
<path d="M910 224h15v15h-15z" fill="#79902c"/>
<path d="M924 224h15v15h-15z" fill="#82912e"/>
<path d="M938 224h15v15h-15z" fill="#8b922f"/>
<path d="M952 224h15v15h-15z" fill="#939230"/>
<path d="M966 224h15v15h-15z" fill="#9a9131"/>
<path d="M980 224h15v15h-15z" fill="#a18f32"/>
<path d="M994 224h15v15h-15z" fill="#a78d33"/>
<path d="M1008 224h15v15h-15z" fill="#ac8c35"/>
<path d="M1022 224h15v15h-15z" fill="#b08a38"/>
<path d="M1036 224h15v15h-15z" fill="#b28839"/>
<path d="M1050 224h15v15h-15z" fill="#b38439"/>
<path d="M1064 224h15v15h-15z" fill="#b38038"/>
<path d="M798 238h15v15h-15z" fill="#32701e"/>
<path d="M812 238h15v15h-15z" fill="#37751f"/>
<path d="M826 238h15v15h-15z" fill="#3c7921"/>
<path d="M840 238h15v15h-15z" fill="#447e22"/>
<path d="M854 238h15v15h-15z" fill="#4e8425"/>
<path d="M868 238h15v15h-15z" fill="#5b8927"/>
<path d="M882 238h15v15h-15z" fill="#678d2a"/>
<path d="M896 238h15v15h-15z" fill="#73912c"/>
<path d="M910 238h15v15h-15z" fill="#7d932e"/>
<path d="M924 238h15v15h-15z" fill="#869530"/>
<path d="M938 238h15v15h-15z" fill="#8e9631"/>
<path d="M952 238h15v15h-15z" fill="#969632"/>
<path d="M966 238h15v15h-15z" fill="#9d9533"/>
<path d="M980 238h15v15h-15z" fill="#a49433"/>
<path d="M994 238h15v15h-15z" fill="#aa9234"/>
<path d="M1008 238h15v15h-15z" fill="#ae9236"/>
<path d="M1022 238h15v15h-15z" fill="#b19137"/>
<path d="M1036 238h15v15h-15z" fill="#b48f38"/>
<path d="M1050 238h15v15h-15z" fill="#b48b39"/>
<path d="M784 252h15v15h-15z" fill="#2e6d1f"/>
<path d="M798 252h15v15h-15z" fill="#34721f"/>
<path d="M812 252h15v15h-15z" fill="#397721"/>
<path d="M826 252h15v15h-15z" fill="#407d23"/>
<path d="M840 252h15v15h-15z" fill="#488226"/>
<path d="M854 252h15v15h-15z" fill="#528728"/>
<path d="M868 252h15v15h-15z" fill="#5f8c2b"/>
<path d="M882 252h15v15h-15z" fill="#6c902d"/>
<path d="M896 252h15v15h-15z" fill="#78942f"/>
<path d="M910 252h15v15h-15z" fill="#809631"/>
<path d="M924 252h15v15h-15z" fill="#889832"/>
<path d="M938 252h15v15h-15z" fill="#909933"/>
<path d="M952 252h15v15h-15z" fill="#979a34"/>
<path d="M966 252h15v15h-15z" fill="#9e9934"/>
<path d="M980 252h15v15h-15z" fill="#a59935"/>
<path d="M994 252h15v15h-15z" fill="#aa9735"/>
<path d="M1008 252h15v15h-15z" fill="#af9737"/>
<path d="M1022 252h15v15h-15z" fill="#b29538"/>
<path d="M1036 252h15v15h-15z" fill="#b49339"/>
<path d="M1050 252h15v15h-15z" fill="#b48f3a"/>
<path d="M756 266h15v15h-15z" fill="#266821"/>
<path d="M770 266h15v15h-15z" fill="#2b6c20"/>
<path d="M784 266h15v15h-15z" fill="#306f20"/>
<path d="M798 266h15v15h-15z" fill="#367421"/>
<path d="M812 266h15v15h-15z" fill="#3c7a24"/>
<path d="M826 266h15v15h-15z" fill="#438026"/>
<path d="M840 266h15v15h-15z" fill="#4b8529"/>
<path d="M854 266h15v15h-15z" fill="#568a2c"/>
<path d="M868 266h15v15h-15z" fill="#628f2e"/>
<path d="M882 266h15v15h-15z" fill="#6e9330"/>
<path d="M896 266h15v15h-15z" fill="#7a9632"/>
<path d="M910 266h15v15h-15z" fill="#829933"/>
<path d="M924 266h15v15h-15z" fill="#899a35"/>
<path d="M938 266h15v15h-15z" fill="#919c35"/>
<path d="M952 266h15v15h-15z" fill="#989d36"/>
<path d="M966 266h15v15h-15z" fill="#9f9d36"/>
<path d="M980 266h15v15h-15z" fill="#a59d36"/>
<path d="M994 266h15v15h-15z" fill="#aa9c37"/>
<path d="M1008 266h15v15h-15z" fill="#ae9b38"/>
<path d="M1022 266h15v15h-15z" fill="#b19939"/>
<path d="M1036 266h15v15h-15z" fill="#b3963a"/>
<path d="M1050 266h15v15h-15z" fill="#b4933a"/>
<path d="M742 280h15v15h-15z" fill="#226723"/>
<path d="M756 280h15v15h-15z" fill="#276a22"/>
<path d="M770 280h15v15h-15z" fill="#2c6e22"/>
<path d="M784 280h15v15h-15z" fill="#327222"/>
<path d="M798 280h15v15h-15z" fill="#387724"/>
<path d="M812 280h15v15h-15z" fill="#3f7d27"/>
<path d="M826 280h15v15h-15z" fill="#46832a"/>
<path d="M840 280h15v15h-15z" fill="#4e882d"/>
<path d="M854 280h15v15h-15z" fill="#588d2f"/>
<path d="M868 280h15v15h-15z" fill="#649131"/>
<path d="M882 280h15v15h-15z" fill="#6f9533"/>
<path d="M896 280h15v15h-15z" fill="#7a9834"/>
<path d="M910 280h15v15h-15z" fill="#829b36"/>
<path d="M924 280h15v15h-15z" fill="#899d37"/>
<path d="M938 280h15v15h-15z" fill="#909e38"/>
<path d="M952 280h15v15h-15z" fill="#979f38"/>
<path d="M966 280h15v15h-15z" fill="#9ea038"/>
<path d="M980 280h15v15h-15z" fill="#a5a138"/>
<path d="M994 280h15v15h-15z" fill="#a9a038"/>
<path d="M1008 280h15v15h-15z" fill="#ad9d39"/>
<path d="M1022 280h15v15h-15z" fill="#af9b3a"/>
<path d="M1036 280h15v15h-15z" fill="#b1983b"/>
<path d="M728 294h15v15h-15z" fill="#1e6526"/>
<path d="M742 294h15v15h-15z" fill="#226824"/>
<path d="M756 294h15v15h-15z" fill="#286c24"/>
<path d="M770 294h15v15h-15z" fill="#2e7124"/>
<path d="M784 294h15v15h-15z" fill="#357625"/>
<path d="M798 294h15v15h-15z" fill="#3b7b27"/>
<path d="M812 294h15v15h-15z" fill="#42812a"/>
<path d="M826 294h15v15h-15z" fill="#49862d"/>
<path d="M840 294h15v15h-15z" fill="#518b30"/>
<path d="M854 294h15v15h-15z" fill="#5b9032"/>
<path d="M868 294h15v15h-15z" fill="#659434"/>
<path d="M882 294h15v15h-15z" fill="#709736"/>
<path d="M896 294h15v15h-15z" fill="#799a37"/>
<path d="M910 294h15v15h-15z" fill="#829c38"/>
<path d="M924 294h15v15h-15z" fill="#899e39"/>
<path d="M938 294h15v15h-15z" fill="#90a03a"/>
<path d="M952 294h15v15h-15z" fill="#96a13a"/>
<path d="M966 294h15v15h-15z" fill="#9da23a"/>
<path d="M980 294h15v15h-15z" fill="#a3a23a"/>
<path d="M994 294h15v15h-15z" fill="#a7a13a"/>
<path d="M1008 294h15v15h-15z" fill="#ab9f3b"/>
<path d="M1022 294h15v15h-15z" fill="#ae9d3b"/>
<path d="M714 308h15v15h-15z" fill="#1b662b"/>
<path d="M728 308h15v15h-15z" fill="#1e6728"/>
<path d="M742 308h15v15h-15z" fill="#226925"/>
<path d="M756 308h15v15h-15z" fill="#286e25"/>
<path d="M770 308h15v15h-15z" fill="#307427"/>
<path d="M784 308h15v15h-15z" fill="#387a29"/>
<path d="M798 308h15v15h-15z" fill="#3e7f2b"/>
<path d="M812 308h15v15h-15z" fill="#45842e"/>
<path d="M826 308h15v15h-15z" fill="#4c8931"/>
<path d="M840 308h15v15h-15z" fill="#548e34"/>
<path d="M854 308h15v15h-15z" fill="#5d9236"/>
<path d="M868 308h15v15h-15z" fill="#679637"/>
<path d="M882 308h15v15h-15z" fill="#709938"/>
<path d="M896 308h15v15h-15z" fill="#7a9c39"/>
<path d="M910 308h15v15h-15z" fill="#819e3a"/>
<path d="M924 308h15v15h-15z" fill="#889f3b"/>
<path d="M938 308h15v15h-15z" fill="#8fa13c"/>
<path d="M952 308h15v15h-15z" fill="#95a23c"/>
<path d="M966 308h15v15h-15z" fill="#9ba23c"/>
<path d="M980 308h15v15h-15z" fill="#a1a23c"/>
<path d="M994 308h15v15h-15z" fill="#a5a23c"/>
<path d="M686 322h15v15h-15z" fill="#176533"/>
<path d="M700 322h15v15h-15z" fill="#196730"/>
<path d="M714 322h15v15h-15z" fill="#1c692e"/>
<path d="M728 322h15v15h-15z" fill="#1f6b2a"/>
<path d="M742 322h15v15h-15z" fill="#236c28"/>
<path d="M756 322h15v15h-15z" fill="#2a7128"/>
<path d="M770 322h15v15h-15z" fill="#32782a"/>
<path d="M784 322h15v15h-15z" fill="#3a7e2c"/>
<path d="M798 322h15v15h-15z" fill="#41832f"/>
<path d="M812 322h15v15h-15z" fill="#468732"/>
<path d="M826 322h15v15h-15z" fill="#4d8c35"/>
<path d="M840 322h15v15h-15z" fill="#569038"/>
<path d="M854 322h15v15h-15z" fill="#5e9439"/>
<path d="M868 322h15v15h-15z" fill="#67973a"/>
<path d="M882 322h15v15h-15z" fill="#709a3b"/>
<path d="M896 322h15v15h-15z" fill="#799d3c"/>
<path d="M910 322h15v15h-15z" fill="#809f3c"/>
<path d="M924 322h15v15h-15z" fill="#87a03d"/>
<path d="M938 322h15v15h-15z" fill="#8da13d"/>
<path d="M672 336h15v15h-15z" fill="#166639"/>
<path d="M686 336h15v15h-15z" fill="#186936"/>
<path d="M700 336h15v15h-15z" fill="#1b6b33"/>
<path d="M714 336h15v15h-15z" fill="#1d6e32"/>
<path d="M728 336h15v15h-15z" fill="#21702f"/>
<path d="M742 336h15v15h-15z" fill="#26722d"/>
<path d="M756 336h15v15h-15z" fill="#2c772d"/>
<path d="M770 336h15v15h-15z" fill="#347c2e"/>
<path d="M784 336h15v15h-15z" fill="#3b8130"/>
<path d="M798 336h15v15h-15z" fill="#418532"/>
<path d="M812 336h15v15h-15z" fill="#468935"/>
<path d="M826 336h15v15h-15z" fill="#4e8e38"/>
<path d="M840 336h15v15h-15z" fill="#56923b"/>
<path d="M854 336h15v15h-15z" fill="#5f953c"/>
<path d="M868 336h15v15h-15z" fill="#67983c"/>
<path d="M882 336h15v15h-15z" fill="#709b3d"/>
<path d="M658 350h15v15h-15z" fill="#166640"/>
<path d="M672 350h15v15h-15z" fill="#186a3c"/>
<path d="M686 350h15v15h-15z" fill="#1a6c38"/>
<path d="M700 350h15v15h-15z" fill="#1d6f36"/>
<path d="M714 350h15v15h-15z" fill="#207335"/>
<path d="M728 350h15v15h-15z" fill="#257533"/>
<path d="M742 350h15v15h-15z" fill="#2a7932"/>
<path d="M756 350h15v15h-15z" fill="#2f7c31"/>
<path d="M770 350h15v15h-15z" fill="#367f32"/>
<path d="M784 350h15v15h-15z" fill="#3c8334"/>
<path d="M798 350h15v15h-15z" fill="#428736"/>
<path d="M812 350h15v15h-15z" fill="#488b38"/>
<path d="M826 350h15v15h-15z" fill="#4f8f3a"/>
<path d="M840 350h15v15h-15z" fill="#57923c"/>
<path d="M644 364h15v15h-15z" fill="#166548"/>
<path d="M658 364h15v15h-15z" fill="#176a44"/>
<path d="M672 364h15v15h-15z" fill="#196d40"/>
<path d="M686 364h15v15h-15z" fill="#1d713c"/>
<path d="M700 364h15v15h-15z" fill="#21753a"/>
<path d="M714 364h15v15h-15z" fill="#247739"/>
<path d="M728 364h15v15h-15z" fill="#287a37"/>
<path d="M742 364h15v15h-15z" fill="#2d7d36"/>
<path d="M756 364h15v15h-15z" fill="#327f36"/>
<path d="M770 364h15v15h-15z" fill="#388237"/>
<path d="M784 364h15v15h-15z" fill="#3e8638"/>
<path d="M630 378h15v15h-15z" fill="#16624f"/>
<path d="M644 378h15v15h-15z" fill="#17684c"/>
<path d="M658 378h15v15h-15z" fill="#196c48"/>
<path d="M672 378h15v15h-15z" fill="#1c7145"/>
<path d="M686 378h15v15h-15z" fill="#217741"/>
<path d="M700 378h15v15h-15z" fill="#257a3f"/>
<path d="M714 378h15v15h-15z" fill="#287b3d"/>
<path d="M728 378h15v15h-15z" fill="#2c7d3c"/>
<path d="M742 378h15v15h-15z" fill="#307f3b"/>
<path d="M616 392h15v15h-15z" fill="#175b57"/>
<path d="M630 392h15v15h-15z" fill="#186353"/>
<path d="M644 392h15v15h-15z" fill="#1a6951"/>
<path d="M658 392h15v15h-15z" fill="#1c6e4e"/>
<path d="M672 392h15v15h-15z" fill="#1f734a"/>
<path d="M686 392h15v15h-15z" fill="#237847"/>
<path d="M700 392h15v15h-15z" fill="#277b44"/>
<path d="M588 406h15v15h-15z" fill="#174b64"/>
<path d="M602 406h15v15h-15z" fill="#17525f"/>
<path d="M616 406h15v15h-15z" fill="#185a5b"/>
<path d="M630 406h15v15h-15z" fill="#1a6258"/>
<path d="M644 406h15v15h-15z" fill="#1c6857"/>
<path d="M658 406h15v15h-15z" fill="#1f6e53"/>
<path d="M672 406h15v15h-15z" fill="#22724f"/>
<path d="M560 420h15v15h-15z" fill="#193d75"/>
<path d="M574 420h15v15h-15z" fill="#19436f"/>
<path d="M588 420h15v15h-15z" fill="#194969"/>
<path d="M602 420h15v15h-15z" fill="#1a5164"/>
<path d="M616 420h15v15h-15z" fill="#1b5960"/>
<path d="M630 420h15v15h-15z" fill="#1d605d"/>
<path d="M644 420h15v15h-15z" fill="#1f675b"/>
<path d="M532 434h15v15h-15z" fill="#1a3580"/>
<path d="M546 434h15v15h-15z" fill="#1b377f"/>
<path d="M560 434h15v15h-15z" fill="#1b3c7b"/>
<path d="M574 434h15v15h-15z" fill="#1b4274"/>
<path d="M588 434h15v15h-15z" fill="#1b496e"/>
<path d="M602 434h15v15h-15z" fill="#1c5069"/>
<path d="M616 434h15v15h-15z" fill="#1d5765"/>
<path d="M504 448h15v15h-15z" fill="#1a3382"/>
<path d="M518 448h15v15h-15z" fill="#1b3383"/>
<path d="M532 448h15v15h-15z" fill="#1c3583"/>
<path d="M546 448h15v15h-15z" fill="#1d3782"/>
<path d="M560 448h15v15h-15z" fill="#1d3c7e"/>
<path d="M574 448h15v15h-15z" fill="#1d4278"/>
<path d="M476 462h15v15h-15z" fill="#1a3383"/>
<path d="M490 462h15v15h-15z" fill="#1b3383"/>
<path d="M504 462h15v15h-15z" fill="#1c3484"/>
<path d="M518 462h15v15h-15z" fill="#1d3584"/>
<path d="M532 462h15v15h-15z" fill="#1d3684"/>
<path d="M476 476h15v15h-15z" fill="#1b3484"/>
<path d="M490 476h15v15h-15z" fill="#1c3484"/>
<path d="M504 476h15v15h-15z" fill="#1d3585"/>
<path d="M476 490h15v15h-15z" fill="#1d3585"/>
</g>
<path d="M524.2 462.6C531.2 458.8 552.8 447.0 566.5 440.0C580.2 433.0 594.2 428.4 606.5 420.7C618.8 413.0 628.5 403.9 640.0 394.0C651.5 384.1 663.6 371.6 675.4 361.5C687.2 351.4 698.9 342.5 710.7 333.3C722.5 324.1 734.2 315.8 746.0 306.4C757.8 297.0 770.8 286.4 781.4 276.7C792.0 267.0 802.2 256.2 809.7 248.4C817.2 240.6 820.0 238.0 826.7 230.0C833.4 222.0 841.4 211.0 850.0 200.4C858.6 189.8 868.8 176.8 878.2 166.5C887.6 156.2 897.1 147.2 906.5 138.3C915.9 129.4 925.3 120.7 934.7 112.9C944.1 105.1 952.5 99.2 962.9 91.7C973.2 84.2 987.4 73.3 996.8 67.7C1006.2 62.1 1008.6 62.1 1019.4 57.9C1030.2 53.7 1047.6 47.2 1061.7 42.3C1075.8 37.3 1093.7 31.5 1104.0 28.2C1114.3 24.9 1120.2 23.4 1123.5 22.5" fill="none" stroke="#142c08" stroke-opacity="0.2" stroke-width="9"/>
<path d="M760.0 271.0L1040.0 270.5" fill="none" stroke="#1c5a1c" stroke-opacity="0.3" stroke-width="2.6"/>
<g fill="none" stroke="#1c5a1c" stroke-opacity="0.16" stroke-width="2.4">
<path d="M760.0 290.0L1000.0 274.0"/>
<path d="M720.0 326.0L1010.0 278.0"/>
<path d="M700.0 344.0L1000.0 288.0"/>
<path d="M690.0 352.0L990.0 298.0"/>
<path d="M670.0 366.0L960.0 310.0"/>
</g>
</g>
<path d="M1197.5 845.0L1192.4 846.6L1185.6 848.9L1177.5 851.5L1168.6 854.4L1159.1 857.5L1149.7 860.5L1140.6 863.4L1132.3 866.0L1124.4 868.4L1116.3 870.8L1108.2 873.1L1100.3 875.4L1092.7 877.5L1085.6 879.5L1079.1 881.4L1073.5 883.0L1069.1 884.3L1066.0 885.3L1063.8 886.1L1061.9 886.8L1060.0 887.5L1057.7 888.2L1054.5 889.1L1050.0 890.3L1044.1 891.8L1037.2 893.4L1029.6 895.3L1021.4 897.2L1013.0 899.1L1004.6 901.0L996.4 902.8L988.7 904.4L981.2 905.9L973.6 907.4L966.0 908.9L958.4 910.2L951.2 911.5L944.3 912.7L938.0 913.7L932.3 914.5L927.5 915.1L923.6 915.6L920.2 915.9L917.3 916.1L914.4 916.1L911.4 916.1L908.0 916.1L904.0 916.0L899.3 915.9L894.1 915.6L888.6 915.3L882.9 914.9L877.2 914.5L871.7 914.0L866.5 913.5L861.7 913.0L857.5 912.5L853.7 912.1L850.3 911.6L846.9 911.1L843.6 910.5L840.2 909.8L836.5 909.0L832.3 908.0L827.7 906.9L822.9 905.7L817.8 904.3L812.5 902.9L807.2 901.3L801.8 899.7L796.3 897.9L791.0 896.0L785.7 894.0L780.2 891.9L774.8 889.7L769.3 887.3L763.8 884.9L758.3 882.3L752.9 879.7L747.6 876.9L742.2 873.9L736.6 870.5L730.9 866.9L725.3 863.2L719.9 859.6L714.9 856.3L710.4 853.3L706.5 850.8L703.5 849.0L701.4 847.8L699.9 846.9L698.7 846.3L697.6 845.7L696.1 844.9L694.0 843.6L691.0 841.8L686.9 839.2L681.9 836.1L676.4 832.6L670.5 828.8L664.6 825.1L659.0 821.5L654.1 818.2L650.0 815.5L647.0 813.4L644.9 811.9L643.3 810.7L642.1 809.6L640.9 808.6L639.5 807.3L637.5 805.7L634.7 803.5L631.1 800.8L627.0 797.7L622.5 794.3L617.7 790.7L612.7 786.9L607.6 783.0L602.5 779.0L597.6 775.0L592.7 770.9L587.7 766.6L582.7 762.1L577.6 757.6L572.5 753.0L567.6 748.4L562.7 743.8L558.0 739.2L553.4 734.7L548.9 730.2L544.5 725.6L540.2 721.1L536.0 716.5L531.9 711.9L528.0 707.2L524.2 702.5L520.5 697.7L517.0 692.8L513.6 687.9L510.3 682.9L507.1 677.9L504.2 672.9L501.4 668.0L498.8 663.0L496.4 657.8L494.2 652.2L492.1 646.5L490.2 640.8L488.5 635.4L487.0 630.6L485.7 626.5L484.7 623.5L487.5 564.2L484.7 541.6L446.6 514.8L453.6 490.8L524.2 462.6" fill="none" stroke="#10ff70" stroke-width="2.8" stroke-linejoin="round"/>
<path d="M1161.0 707.0L1197.5 834.0" stroke="#5a6a98" stroke-width="2.8" fill="none"/>
<g clip-path="url(#cs)">
<g filter="url(#bl)">
<path d="M1092 182h15v15h-15z" fill="#8b6a10"/>
<path d="M1106 182h15v15h-15z" fill="#8b6a10"/>
<path d="M1078 196h15v15h-15z" fill="#90700e"/>
<path d="M1092 196h15v15h-15z" fill="#8d6c10"/>
<path d="M1106 196h15v15h-15z" fill="#8c6c11"/>
<path d="M1120 196h15v15h-15z" fill="#8c6f11"/>
<path d="M1064 210h15v15h-15z" fill="#95790d"/>
<path d="M1078 210h15v15h-15z" fill="#95770d"/>
<path d="M1092 210h15v15h-15z" fill="#92740e"/>
<path d="M1106 210h15v15h-15z" fill="#8f7110"/>
<path d="M1120 210h15v15h-15z" fill="#8f7411"/>
<path d="M1050 224h15v15h-15z" fill="#98800d"/>
<path d="M1064 224h15v15h-15z" fill="#99800c"/>
<path d="M1078 224h15v15h-15z" fill="#9a800b"/>
<path d="M1092 224h15v15h-15z" fill="#9a7e0c"/>
<path d="M1106 224h15v15h-15z" fill="#957a0e"/>
<path d="M1120 224h15v15h-15z" fill="#937b0f"/>
<path d="M1036 238h15v15h-15z" fill="#99870e"/>
<path d="M1050 238h15v15h-15z" fill="#9b870c"/>
<path d="M1064 238h15v15h-15z" fill="#9e880b"/>
<path d="M1078 238h15v15h-15z" fill="#a08809"/>
<path d="M1092 238h15v15h-15z" fill="#a18809"/>
<path d="M1106 238h15v15h-15z" fill="#9d860b"/>
<path d="M1120 238h15v15h-15z" fill="#98850e"/>
<path d="M1134 238h15v15h-15z" fill="#96870f"/>
<path d="M1022 252h15v15h-15z" fill="#978d11"/>
<path d="M1036 252h15v15h-15z" fill="#9b8e0f"/>
<path d="M1050 252h15v15h-15z" fill="#9f900c"/>
<path d="M1064 252h15v15h-15z" fill="#a2910a"/>
<path d="M1078 252h15v15h-15z" fill="#a59208"/>
<path d="M1092 252h15v15h-15z" fill="#a79208"/>
<path d="M1106 252h15v15h-15z" fill="#a2910a"/>
<path d="M1120 252h15v15h-15z" fill="#9c900d"/>
<path d="M1134 252h15v15h-15z" fill="#99910e"/>
<path d="M1008 266h15v15h-15z" fill="#949312"/>
<path d="M1022 266h15v15h-15z" fill="#999511"/>
<path d="M1036 266h15v15h-15z" fill="#9e970f"/>
<path d="M1050 266h15v15h-15z" fill="#a2990c"/>
<path d="M1064 266h15v15h-15z" fill="#a69a09"/>
<path d="M1078 266h15v15h-15z" fill="#aa9c08"/>
<path d="M1092 266h15v15h-15z" fill="#ab9d08"/>
<path d="M1106 266h15v15h-15z" fill="#a99c09"/>
<path d="M1120 266h15v15h-15z" fill="#a29b0c"/>
<path d="M1134 266h15v15h-15z" fill="#9d9c0d"/>
<path d="M994 280h15v15h-15z" fill="#8f9714"/>
<path d="M1008 280h15v15h-15z" fill="#959b12"/>
<path d="M1022 280h15v15h-15z" fill="#9b9f10"/>
<path d="M1036 280h15v15h-15z" fill="#a0a20d"/>
<path d="M1050 280h15v15h-15z" fill="#a5a40a"/>
<path d="M1064 280h15v15h-15z" fill="#a9a508"/>
<path d="M1078 280h15v15h-15z" fill="#aca707"/>
<path d="M1092 280h15v15h-15z" fill="#afa907"/>
<path d="M1106 280h15v15h-15z" fill="#aea908"/>
<path d="M1120 280h15v15h-15z" fill="#a5a60c"/>
<path d="M1134 280h15v15h-15z" fill="#9fa70d"/>
<path d="M980 294h15v15h-15z" fill="#879a17"/>
<path d="M994 294h15v15h-15z" fill="#8e9f15"/>
<path d="M1008 294h15v15h-15z" fill="#95a512"/>
<path d="M1022 294h15v15h-15z" fill="#9baa0e"/>
<path d="M1036 294h15v15h-15z" fill="#a1ad0b"/>
<path d="M1050 294h15v15h-15z" fill="#a5af09"/>
<path d="M1064 294h15v15h-15z" fill="#a9b007"/>
<path d="M1078 294h15v15h-15z" fill="#acb206"/>
<path d="M1092 294h15v15h-15z" fill="#aeb506"/>
<path d="M1106 294h15v15h-15z" fill="#adb607"/>
<path d="M1120 294h15v15h-15z" fill="#a7b409"/>
<path d="M1134 294h15v15h-15z" fill="#a1b40a"/>
<path d="M966 308h15v15h-15z" fill="#7e9b19"/>
<path d="M980 308h15v15h-15z" fill="#85a217"/>
<path d="M994 308h15v15h-15z" fill="#8da914"/>
<path d="M1008 308h15v15h-15z" fill="#94af10"/>
<path d="M1022 308h15v15h-15z" fill="#9ab50d"/>
<path d="M1036 308h15v15h-15z" fill="#9fb90a"/>
<path d="M1050 308h15v15h-15z" fill="#a3bb08"/>
<path d="M1064 308h15v15h-15z" fill="#a7bd06"/>
<path d="M1078 308h15v15h-15z" fill="#aabf05"/>
<path d="M1092 308h15v15h-15z" fill="#abc204"/>
<path d="M1106 308h15v15h-15z" fill="#abc404"/>
<path d="M1120 308h15v15h-15z" fill="#a7c405"/>
<path d="M1134 308h15v15h-15z" fill="#a1c208"/>
<path d="M938 322h15v15h-15z" fill="#6e991b"/>
<path d="M952 322h15v15h-15z" fill="#749e1a"/>
<path d="M966 322h15v15h-15z" fill="#7ba21a"/>
<path d="M980 322h15v15h-15z" fill="#83ab16"/>
<path d="M994 322h15v15h-15z" fill="#8bb313"/>
<path d="M1008 322h15v15h-15z" fill="#92ba0f"/>
<path d="M1022 322h15v15h-15z" fill="#98c00c"/>
<path d="M1036 322h15v15h-15z" fill="#9cc50a"/>
<path d="M1050 322h15v15h-15z" fill="#a0c807"/>
<path d="M1064 322h15v15h-15z" fill="#a3ca05"/>
<path d="M1078 322h15v15h-15z" fill="#a5cd04"/>
<path d="M1092 322h15v15h-15z" fill="#a7d103"/>
<path d="M1106 322h15v15h-15z" fill="#a7d203"/>
<path d="M1120 322h15v15h-15z" fill="#a5d204"/>
<path d="M1134 322h15v15h-15z" fill="#9fcf06"/>
<path d="M924 336h15v15h-15z" fill="#62991c"/>
<path d="M938 336h15v15h-15z" fill="#699e1b"/>
<path d="M952 336h15v15h-15z" fill="#71a61a"/>
<path d="M966 336h15v15h-15z" fill="#79ae18"/>
<path d="M980 336h15v15h-15z" fill="#80b615"/>
<path d="M994 336h15v15h-15z" fill="#87bd12"/>
<path d="M1008 336h15v15h-15z" fill="#8ec40f"/>
<path d="M1022 336h15v15h-15z" fill="#93ca0c"/>
<path d="M1036 336h15v15h-15z" fill="#97cf09"/>
<path d="M1050 336h15v15h-15z" fill="#99d207"/>
<path d="M1064 336h15v15h-15z" fill="#9bd505"/>
<path d="M1078 336h15v15h-15z" fill="#9ed903"/>
<path d="M1092 336h15v15h-15z" fill="#a0dd02"/>
<path d="M1106 336h15v15h-15z" fill="#a0dd02"/>
<path d="M1120 336h15v15h-15z" fill="#9fdd03"/>
<path d="M1134 336h15v15h-15z" fill="#9ada06"/>
<path d="M1148 336h15v15h-15z" fill="#93d409"/>
<path d="M910 350h15v15h-15z" fill="#55991c"/>
<path d="M924 350h15v15h-15z" fill="#5c9e1c"/>
<path d="M938 350h15v15h-15z" fill="#63a41b"/>
<path d="M952 350h15v15h-15z" fill="#6bad19"/>
<path d="M966 350h15v15h-15z" fill="#74b816"/>
<path d="M980 350h15v15h-15z" fill="#7cc013"/>
<path d="M994 350h15v15h-15z" fill="#81c611"/>
<path d="M1008 350h15v15h-15z" fill="#87cd0e"/>
<path d="M1022 350h15v15h-15z" fill="#8cd30c"/>
<path d="M1036 350h15v15h-15z" fill="#8fd709"/>
<path d="M1050 350h15v15h-15z" fill="#90da07"/>
<path d="M1064 350h15v15h-15z" fill="#92dc05"/>
<path d="M1078 350h15v15h-15z" fill="#93df03"/>
<path d="M1092 350h15v15h-15z" fill="#95e203"/>
<path d="M1106 350h15v15h-15z" fill="#95e303"/>
<path d="M1120 350h15v15h-15z" fill="#94e204"/>
<path d="M1134 350h15v15h-15z" fill="#91df06"/>
<path d="M1148 350h15v15h-15z" fill="#8bda09"/>
<path d="M896 364h15v15h-15z" fill="#47991d"/>
<path d="M910 364h15v15h-15z" fill="#4d9e1c"/>
<path d="M924 364h15v15h-15z" fill="#53a31c"/>
<path d="M938 364h15v15h-15z" fill="#5aaa1b"/>
<path d="M952 364h15v15h-15z" fill="#61b318"/>
<path d="M966 364h15v15h-15z" fill="#6abe16"/>
<path d="M980 364h15v15h-15z" fill="#72c613"/>
<path d="M994 364h15v15h-15z" fill="#77cc11"/>
<path d="M1008 364h15v15h-15z" fill="#7cd20f"/>
<path d="M1022 364h15v15h-15z" fill="#82d90d"/>
<path d="M1036 364h15v15h-15z" fill="#83dc0a"/>
<path d="M1050 364h15v15h-15z" fill="#84df08"/>
<path d="M1064 364h15v15h-15z" fill="#85e106"/>
<path d="M1078 364h15v15h-15z" fill="#86e405"/>
<path d="M1092 364h15v15h-15z" fill="#87e504"/>
<path d="M1106 364h15v15h-15z" fill="#88e604"/>
<path d="M1120 364h15v15h-15z" fill="#88e505"/>
<path d="M1134 364h15v15h-15z" fill="#86e207"/>
<path d="M1148 364h15v15h-15z" fill="#81dd0a"/>
<path d="M868 378h15v15h-15z" fill="#36951d"/>
<path d="M882 378h15v15h-15z" fill="#3a991e"/>
<path d="M896 378h15v15h-15z" fill="#3f9d1e"/>
<path d="M910 378h15v15h-15z" fill="#44a31d"/>
<path d="M924 378h15v15h-15z" fill="#49a91c"/>
<path d="M938 378h15v15h-15z" fill="#4eb01a"/>
<path d="M952 378h15v15h-15z" fill="#56b819"/>
<path d="M966 378h15v15h-15z" fill="#5ec116"/>
<path d="M980 378h15v15h-15z" fill="#65c914"/>
<path d="M994 378h15v15h-15z" fill="#6acf12"/>
<path d="M1008 378h15v15h-15z" fill="#6fd510"/>
<path d="M1022 378h15v15h-15z" fill="#72db0e"/>
<path d="M1036 378h15v15h-15z" fill="#74df0c"/>
<path d="M1050 378h15v15h-15z" fill="#75e20a"/>
<path d="M1064 378h15v15h-15z" fill="#76e408"/>
<path d="M1078 378h15v15h-15z" fill="#77e607"/>
<path d="M1092 378h15v15h-15z" fill="#78e706"/>
<path d="M1106 378h15v15h-15z" fill="#78e707"/>
<path d="M1120 378h15v15h-15z" fill="#79e607"/>
<path d="M1134 378h15v15h-15z" fill="#78e309"/>
<path d="M1148 378h15v15h-15z" fill="#75df0d"/>
<path d="M840 392h15v15h-15z" fill="#2a911e"/>
<path d="M854 392h15v15h-15z" fill="#2c941e"/>
<path d="M868 392h15v15h-15z" fill="#2f991f"/>
<path d="M882 392h15v15h-15z" fill="#329e1f"/>
<path d="M896 392h15v15h-15z" fill="#36a31f"/>
<path d="M910 392h15v15h-15z" fill="#3ba91e"/>
<path d="M924 392h15v15h-15z" fill="#41af1c"/>
<path d="M938 392h15v15h-15z" fill="#46b61b"/>
<path d="M952 392h15v15h-15z" fill="#4cbd19"/>
<path d="M966 392h15v15h-15z" fill="#52c518"/>
<path d="M980 392h15v15h-15z" fill="#58cc16"/>
<path d="M994 392h15v15h-15z" fill="#5cd114"/>
<path d="M1008 392h15v15h-15z" fill="#60d813"/>
<path d="M1022 392h15v15h-15z" fill="#62dd10"/>
<path d="M1036 392h15v15h-15z" fill="#64e10e"/>
<path d="M1050 392h15v15h-15z" fill="#65e30c"/>
<path d="M1064 392h15v15h-15z" fill="#66e60b"/>
<path d="M1078 392h15v15h-15z" fill="#67e80a"/>
<path d="M1092 392h15v15h-15z" fill="#67e90a"/>
<path d="M1106 392h15v15h-15z" fill="#67e80a"/>
<path d="M1120 392h15v15h-15z" fill="#68e70b"/>
<path d="M1134 392h15v15h-15z" fill="#68e40d"/>
<path d="M1148 392h15v15h-15z" fill="#67e110"/>
<path d="M826 406h15v15h-15z" fill="#229321"/>
<path d="M840 406h15v15h-15z" fill="#239520"/>
<path d="M854 406h15v15h-15z" fill="#259820"/>
<path d="M868 406h15v15h-15z" fill="#279e20"/>
<path d="M882 406h15v15h-15z" fill="#2aa421"/>
<path d="M896 406h15v15h-15z" fill="#2eaa20"/>
<path d="M910 406h15v15h-15z" fill="#33b01f"/>
<path d="M924 406h15v15h-15z" fill="#39b61d"/>
<path d="M938 406h15v15h-15z" fill="#3fbc1b"/>
<path d="M952 406h15v15h-15z" fill="#44c31a"/>
<path d="M966 406h15v15h-15z" fill="#48c919"/>
<path d="M980 406h15v15h-15z" fill="#4bcf18"/>
<path d="M994 406h15v15h-15z" fill="#4ed517"/>
<path d="M1008 406h15v15h-15z" fill="#50da16"/>
<path d="M1022 406h15v15h-15z" fill="#53df14"/>
<path d="M1036 406h15v15h-15z" fill="#54e212"/>
<path d="M1050 406h15v15h-15z" fill="#55e510"/>
<path d="M1064 406h15v15h-15z" fill="#56e80f"/>
<path d="M1078 406h15v15h-15z" fill="#56e90f"/>
<path d="M1092 406h15v15h-15z" fill="#57ea0e"/>
<path d="M1106 406h15v15h-15z" fill="#57e90e"/>
<path d="M1120 406h15v15h-15z" fill="#57e70f"/>
<path d="M1134 406h15v15h-15z" fill="#59e411"/>
<path d="M1148 406h15v15h-15z" fill="#59e114"/>
<path d="M798 420h15v15h-15z" fill="#1c9125"/>
<path d="M812 420h15v15h-15z" fill="#1c9424"/>
<path d="M826 420h15v15h-15z" fill="#1c9824"/>
<path d="M840 420h15v15h-15z" fill="#1d9b23"/>
<path d="M854 420h15v15h-15z" fill="#1e9f23"/>
<path d="M868 420h15v15h-15z" fill="#20a524"/>
<path d="M882 420h15v15h-15z" fill="#22ab24"/>
<path d="M896 420h15v15h-15z" fill="#25b023"/>
<path d="M910 420h15v15h-15z" fill="#2bb622"/>
<path d="M924 420h15v15h-15z" fill="#31bc20"/>
<path d="M938 420h15v15h-15z" fill="#38c21e"/>
<path d="M952 420h15v15h-15z" fill="#3bc81d"/>
<path d="M966 420h15v15h-15z" fill="#3ccd1d"/>
<path d="M980 420h15v15h-15z" fill="#3ed31c"/>
<path d="M994 420h15v15h-15z" fill="#3fd81b"/>
<path d="M1008 420h15v15h-15z" fill="#42dc1a"/>
<path d="M1022 420h15v15h-15z" fill="#43e018"/>
<path d="M1036 420h15v15h-15z" fill="#44e417"/>
<path d="M1050 420h15v15h-15z" fill="#45e715"/>
<path d="M1064 420h15v15h-15z" fill="#46e914"/>
<path d="M1078 420h15v15h-15z" fill="#46ea14"/>
<path d="M1092 420h15v15h-15z" fill="#46ea14"/>
<path d="M1106 420h15v15h-15z" fill="#46ea14"/>
<path d="M1120 420h15v15h-15z" fill="#48e814"/>
<path d="M1134 420h15v15h-15z" fill="#4ae516"/>
<path d="M1148 420h15v15h-15z" fill="#4be218"/>
<path d="M784 434h15v15h-15z" fill="#199329"/>
<path d="M798 434h15v15h-15z" fill="#189528"/>
<path d="M812 434h15v15h-15z" fill="#179827"/>
<path d="M826 434h15v15h-15z" fill="#179d27"/>
<path d="M840 434h15v15h-15z" fill="#17a228"/>
<path d="M854 434h15v15h-15z" fill="#18a728"/>
<path d="M868 434h15v15h-15z" fill="#19ac28"/>
<path d="M882 434h15v15h-15z" fill="#1bb228"/>
<path d="M896 434h15v15h-15z" fill="#1eb727"/>
<path d="M910 434h15v15h-15z" fill="#23bc26"/>
<path d="M924 434h15v15h-15z" fill="#28c125"/>
<path d="M938 434h15v15h-15z" fill="#2dc623"/>
<path d="M952 434h15v15h-15z" fill="#30cb22"/>
<path d="M966 434h15v15h-15z" fill="#31d022"/>
<path d="M980 434h15v15h-15z" fill="#32d521"/>
<path d="M994 434h15v15h-15z" fill="#33da20"/>
<path d="M1008 434h15v15h-15z" fill="#34de1f"/>
<path d="M1022 434h15v15h-15z" fill="#36e21e"/>
<path d="M1036 434h15v15h-15z" fill="#36e51d"/>
<path d="M1050 434h15v15h-15z" fill="#36e81b"/>
<path d="M1064 434h15v15h-15z" fill="#37e91b"/>
<path d="M1078 434h15v15h-15z" fill="#38ea1b"/>
<path d="M1092 434h15v15h-15z" fill="#38eb1a"/>
<path d="M1106 434h15v15h-15z" fill="#37ea1a"/>
<path d="M1120 434h15v15h-15z" fill="#38e81a"/>
<path d="M1134 434h15v15h-15z" fill="#3ce41a"/>
<path d="M1148 434h15v15h-15z" fill="#3ee21e"/>
<path d="M756 448h15v15h-15z" fill="#199131"/>
<path d="M770 448h15v15h-15z" fill="#17942f"/>
<path d="M784 448h15v15h-15z" fill="#16972d"/>
<path d="M798 448h15v15h-15z" fill="#159a2c"/>
<path d="M812 448h15v15h-15z" fill="#149e2c"/>
<path d="M826 448h15v15h-15z" fill="#14a32d"/>
<path d="M840 448h15v15h-15z" fill="#13a92d"/>
<path d="M854 448h15v15h-15z" fill="#13ae2e"/>
<path d="M868 448h15v15h-15z" fill="#14b32d"/>
<path d="M882 448h15v15h-15z" fill="#16b82d"/>
<path d="M896 448h15v15h-15z" fill="#17bd2c"/>
<path d="M910 448h15v15h-15z" fill="#1cc12b"/>
<path d="M924 448h15v15h-15z" fill="#20c52b"/>
<path d="M938 448h15v15h-15z" fill="#23ca2a"/>
<path d="M952 448h15v15h-15z" fill="#25ce29"/>
<path d="M966 448h15v15h-15z" fill="#26d328"/>
<path d="M980 448h15v15h-15z" fill="#27d727"/>
<path d="M994 448h15v15h-15z" fill="#28db27"/>
<path d="M1008 448h15v15h-15z" fill="#29df26"/>
<path d="M1022 448h15v15h-15z" fill="#2ae325"/>
<path d="M1036 448h15v15h-15z" fill="#2ae624"/>
<path d="M1050 448h15v15h-15z" fill="#2ae823"/>
<path d="M1064 448h15v15h-15z" fill="#2ae922"/>
<path d="M1078 448h15v15h-15z" fill="#2bea22"/>
<path d="M1092 448h15v15h-15z" fill="#2beb22"/>
<path d="M1106 448h15v15h-15z" fill="#2bea22"/>
<path d="M1120 448h15v15h-15z" fill="#2ce822"/>
<path d="M1134 448h15v15h-15z" fill="#2fe523"/>
<path d="M1148 448h15v15h-15z" fill="#32e225"/>
<path d="M742 462h15v15h-15z" fill="#199138"/>
<path d="M756 462h15v15h-15z" fill="#179435"/>
<path d="M770 462h15v15h-15z" fill="#159833"/>
<path d="M784 462h15v15h-15z" fill="#149b33"/>
<path d="M798 462h15v15h-15z" fill="#13a032"/>
<path d="M812 462h15v15h-15z" fill="#13a532"/>
<path d="M826 462h15v15h-15z" fill="#12a933"/>
<path d="M840 462h15v15h-15z" fill="#11ae33"/>
<path d="M854 462h15v15h-15z" fill="#11b334"/>
<path d="M868 462h15v15h-15z" fill="#12b834"/>
<path d="M882 462h15v15h-15z" fill="#13bd33"/>
<path d="M896 462h15v15h-15z" fill="#15c133"/>
<path d="M910 462h15v15h-15z" fill="#17c632"/>
<path d="M924 462h15v15h-15z" fill="#1aca32"/>
<path d="M938 462h15v15h-15z" fill="#1bce31"/>
<path d="M952 462h15v15h-15z" fill="#1dd230"/>
<path d="M966 462h15v15h-15z" fill="#1ed62f"/>
<path d="M980 462h15v15h-15z" fill="#1eda2f"/>
<path d="M994 462h15v15h-15z" fill="#1edd2e"/>
<path d="M1008 462h15v15h-15z" fill="#1fe02d"/>
<path d="M1022 462h15v15h-15z" fill="#20e32c"/>
<path d="M1036 462h15v15h-15z" fill="#20e62c"/>
<path d="M1050 462h15v15h-15z" fill="#1fe82b"/>
<path d="M1064 462h15v15h-15z" fill="#20e92b"/>
<path d="M1078 462h15v15h-15z" fill="#21ea2a"/>
<path d="M1092 462h15v15h-15z" fill="#21ea2a"/>
<path d="M1106 462h15v15h-15z" fill="#20ea2b"/>
<path d="M1120 462h15v15h-15z" fill="#20e82c"/>
<path d="M1134 462h15v15h-15z" fill="#24e62c"/>
<path d="M1148 462h15v15h-15z" fill="#28e32e"/>
<path d="M728 476h15v15h-15z" fill="#1a8f41"/>
<path d="M742 476h15v15h-15z" fill="#18933d"/>
<path d="M756 476h15v15h-15z" fill="#16963b"/>
<path d="M770 476h15v15h-15z" fill="#149b3a"/>
<path d="M784 476h15v15h-15z" fill="#149f3a"/>
<path d="M798 476h15v15h-15z" fill="#13a53a"/>
<path d="M812 476h15v15h-15z" fill="#12aa3a"/>
<path d="M826 476h15v15h-15z" fill="#11ae3b"/>
<path d="M840 476h15v15h-15z" fill="#11b33b"/>
<path d="M854 476h15v15h-15z" fill="#10b83b"/>
<path d="M868 476h15v15h-15z" fill="#11bc3c"/>
<path d="M882 476h15v15h-15z" fill="#13c13c"/>
<path d="M896 476h15v15h-15z" fill="#14c53b"/>
<path d="M910 476h15v15h-15z" fill="#15c93b"/>
<path d="M924 476h15v15h-15z" fill="#15cd3a"/>
<path d="M938 476h15v15h-15z" fill="#16d239"/>
<path d="M952 476h15v15h-15z" fill="#16d538"/>
<path d="M966 476h15v15h-15z" fill="#17d837"/>
<path d="M980 476h15v15h-15z" fill="#17dc36"/>
<path d="M994 476h15v15h-15z" fill="#17df36"/>
<path d="M1008 476h15v15h-15z" fill="#18e235"/>
<path d="M1022 476h15v15h-15z" fill="#18e434"/>
<path d="M1036 476h15v15h-15z" fill="#18e634"/>
<path d="M1050 476h15v15h-15z" fill="#18e833"/>
<path d="M1064 476h15v15h-15z" fill="#18e933"/>
<path d="M1078 476h15v15h-15z" fill="#19ea33"/>
<path d="M1092 476h15v15h-15z" fill="#19ea33"/>
<path d="M1106 476h15v15h-15z" fill="#18e933"/>
<path d="M1120 476h15v15h-15z" fill="#18e834"/>
<path d="M1134 476h15v15h-15z" fill="#1be635"/>
<path d="M1148 476h15v15h-15z" fill="#1fe336"/>
<path d="M728 490h15v15h-15z" fill="#1a9147"/>
<path d="M742 490h15v15h-15z" fill="#199444"/>
<path d="M756 490h15v15h-15z" fill="#179843"/>
<path d="M770 490h15v15h-15z" fill="#159d42"/>
<path d="M784 490h15v15h-15z" fill="#14a243"/>
<path d="M798 490h15v15h-15z" fill="#13a744"/>
<path d="M812 490h15v15h-15z" fill="#12ad44"/>
<path d="M826 490h15v15h-15z" fill="#11b145"/>
<path d="M840 490h15v15h-15z" fill="#10b645"/>
<path d="M854 490h15v15h-15z" fill="#10bb45"/>
<path d="M868 490h15v15h-15z" fill="#10bf45"/>
<path d="M882 490h15v15h-15z" fill="#12c345"/>
<path d="M896 490h15v15h-15z" fill="#13c845"/>
<path d="M910 490h15v15h-15z" fill="#12cc44"/>
<path d="M924 490h15v15h-15z" fill="#12d043"/>
<path d="M938 490h15v15h-15z" fill="#12d442"/>
<path d="M952 490h15v15h-15z" fill="#12d841"/>
<path d="M966 490h15v15h-15z" fill="#12da41"/>
<path d="M980 490h15v15h-15z" fill="#12dd3f"/>
<path d="M994 490h15v15h-15z" fill="#11e03e"/>
<path d="M1008 490h15v15h-15z" fill="#12e23e"/>
<path d="M1022 490h15v15h-15z" fill="#12e43d"/>
<path d="M1036 490h15v15h-15z" fill="#13e63c"/>
<path d="M1050 490h15v15h-15z" fill="#12e83b"/>
<path d="M1064 490h15v15h-15z" fill="#13e93b"/>
<path d="M1078 490h15v15h-15z" fill="#13e93c"/>
<path d="M1092 490h15v15h-15z" fill="#13e93c"/>
<path d="M1106 490h15v15h-15z" fill="#12e83c"/>
<path d="M1120 490h15v15h-15z" fill="#13e73c"/>
<path d="M1134 490h15v15h-15z" fill="#15e53d"/>
<path d="M1148 490h15v15h-15z" fill="#19e23f"/>
<path d="M714 504h15v15h-15z" fill="#1a9054"/>
<path d="M728 504h15v15h-15z" fill="#1a9250"/>
<path d="M742 504h15v15h-15z" fill="#19954d"/>
<path d="M756 504h15v15h-15z" fill="#179a4d"/>
<path d="M770 504h15v15h-15z" fill="#169e4d"/>
<path d="M784 504h15v15h-15z" fill="#14a44e"/>
<path d="M798 504h15v15h-15z" fill="#13aa4f"/>
<path d="M812 504h15v15h-15z" fill="#12af50"/>
<path d="M826 504h15v15h-15z" fill="#12b450"/>
<path d="M840 504h15v15h-15z" fill="#10b850"/>
<path d="M854 504h15v15h-15z" fill="#0fbd50"/>
<path d="M868 504h15v15h-15z" fill="#0fc150"/>
<path d="M882 504h15v15h-15z" fill="#10c550"/>
<path d="M896 504h15v15h-15z" fill="#10c950"/>
<path d="M910 504h15v15h-15z" fill="#10cd4f"/>
<path d="M924 504h15v15h-15z" fill="#0fd14e"/>
<path d="M938 504h15v15h-15z" fill="#0fd44d"/>
<path d="M952 504h15v15h-15z" fill="#0fd84c"/>
<path d="M966 504h15v15h-15z" fill="#0fda4b"/>
<path d="M980 504h15v15h-15z" fill="#0edd4a"/>
<path d="M994 504h15v15h-15z" fill="#0ee049"/>
<path d="M1008 504h15v15h-15z" fill="#0ee248"/>
<path d="M1022 504h15v15h-15z" fill="#0ee448"/>
<path d="M1036 504h15v15h-15z" fill="#0ee647"/>
<path d="M1050 504h15v15h-15z" fill="#0ee745"/>
<path d="M1064 504h15v15h-15z" fill="#0ee846"/>
<path d="M1078 504h15v15h-15z" fill="#0ee846"/>
<path d="M1092 504h15v15h-15z" fill="#0ee846"/>
<path d="M1106 504h15v15h-15z" fill="#0ee746"/>
<path d="M1120 504h15v15h-15z" fill="#0fe646"/>
<path d="M1134 504h15v15h-15z" fill="#10e445"/>
<path d="M1148 504h15v15h-15z" fill="#14e148"/>
<path d="M714 518h15v15h-15z" fill="#19925f"/>
<path d="M728 518h15v15h-15z" fill="#18955d"/>
<path d="M742 518h15v15h-15z" fill="#17985b"/>
<path d="M756 518h15v15h-15z" fill="#169d5a"/>
<path d="M770 518h15v15h-15z" fill="#15a15a"/>
<path d="M784 518h15v15h-15z" fill="#13a65a"/>
<path d="M798 518h15v15h-15z" fill="#12ac5b"/>
<path d="M812 518h15v15h-15z" fill="#11b15c"/>
<path d="M826 518h15v15h-15z" fill="#11b65c"/>
<path d="M840 518h15v15h-15z" fill="#0fba5d"/>
<path d="M854 518h15v15h-15z" fill="#0fbe5d"/>
<path d="M868 518h15v15h-15z" fill="#0ec25d"/>
<path d="M882 518h15v15h-15z" fill="#0ec55c"/>
<path d="M896 518h15v15h-15z" fill="#0ec95c"/>
<path d="M910 518h15v15h-15z" fill="#0ecd5b"/>
<path d="M924 518h15v15h-15z" fill="#0dd05a"/>
<path d="M938 518h15v15h-15z" fill="#0dd459"/>
<path d="M952 518h15v15h-15z" fill="#0dd758"/>
<path d="M966 518h15v15h-15z" fill="#0cd957"/>
<path d="M980 518h15v15h-15z" fill="#0cdc56"/>
<path d="M994 518h15v15h-15z" fill="#0bdf55"/>
<path d="M1008 518h15v15h-15z" fill="#0be154"/>
<path d="M1022 518h15v15h-15z" fill="#0be354"/>
<path d="M1036 518h15v15h-15z" fill="#0ce553"/>
<path d="M1050 518h15v15h-15z" fill="#0be652"/>
<path d="M1064 518h15v15h-15z" fill="#0be652"/>
<path d="M1078 518h15v15h-15z" fill="#0be652"/>
<path d="M1092 518h15v15h-15z" fill="#0be652"/>
<path d="M1106 518h15v15h-15z" fill="#0be552"/>
<path d="M1120 518h15v15h-15z" fill="#0ce451"/>
<path d="M1134 518h15v15h-15z" fill="#0de352"/>
<path d="M1148 518h15v15h-15z" fill="#10e053"/>
<path d="M714 532h15v15h-15z" fill="#17946b"/>
<path d="M728 532h15v15h-15z" fill="#17976a"/>
<path d="M742 532h15v15h-15z" fill="#159b69"/>
<path d="M756 532h15v15h-15z" fill="#13a068"/>
<path d="M770 532h15v15h-15z" fill="#12a468"/>
<path d="M784 532h15v15h-15z" fill="#11a968"/>
<path d="M798 532h15v15h-15z" fill="#10ae68"/>
<path d="M812 532h15v15h-15z" fill="#0fb369"/>
<path d="M826 532h15v15h-15z" fill="#0fb769"/>
<path d="M840 532h15v15h-15z" fill="#0ebb69"/>
<path d="M854 532h15v15h-15z" fill="#0dbf69"/>
<path d="M868 532h15v15h-15z" fill="#0dc369"/>
<path d="M882 532h15v15h-15z" fill="#0cc669"/>
<path d="M896 532h15v15h-15z" fill="#0cc968"/>
<path d="M910 532h15v15h-15z" fill="#0ccd68"/>
<path d="M924 532h15v15h-15z" fill="#0bd067"/>
<path d="M938 532h15v15h-15z" fill="#0bd366"/>
<path d="M952 532h15v15h-15z" fill="#0bd565"/>
<path d="M966 532h15v15h-15z" fill="#0bd864"/>
<path d="M980 532h15v15h-15z" fill="#0ada63"/>
<path d="M994 532h15v15h-15z" fill="#0add62"/>
<path d="M1008 532h15v15h-15z" fill="#09df61"/>
<path d="M1022 532h15v15h-15z" fill="#09e160"/>
<path d="M1036 532h15v15h-15z" fill="#09e360"/>
<path d="M1050 532h15v15h-15z" fill="#09e45f"/>
<path d="M1064 532h15v15h-15z" fill="#09e45f"/>
<path d="M1078 532h15v15h-15z" fill="#08e45f"/>
<path d="M1092 532h15v15h-15z" fill="#08e45f"/>
<path d="M1106 532h15v15h-15z" fill="#08e35e"/>
<path d="M1120 532h15v15h-15z" fill="#09e35e"/>
<path d="M1134 532h15v15h-15z" fill="#0be15e"/>
<path d="M1148 532h15v15h-15z" fill="#0ddf60"/>
<path d="M714 546h15v15h-15z" fill="#159677"/>
<path d="M728 546h15v15h-15z" fill="#149978"/>
<path d="M742 546h15v15h-15z" fill="#139e77"/>
<path d="M756 546h15v15h-15z" fill="#11a277"/>
<path d="M770 546h15v15h-15z" fill="#0fa777"/>
<path d="M784 546h15v15h-15z" fill="#0fab76"/>
<path d="M798 546h15v15h-15z" fill="#0eb076"/>
<path d="M812 546h15v15h-15z" fill="#0db476"/>
<path d="M826 546h15v15h-15z" fill="#0cb976"/>
<path d="M840 546h15v15h-15z" fill="#0cbc76"/>
<path d="M854 546h15v15h-15z" fill="#0bc076"/>
<path d="M868 546h15v15h-15z" fill="#0bc376"/>
<path d="M882 546h15v15h-15z" fill="#0bc676"/>
<path d="M896 546h15v15h-15z" fill="#0bc975"/>
<path d="M910 546h15v15h-15z" fill="#0acc75"/>
<path d="M924 546h15v15h-15z" fill="#0acf74"/>
<path d="M938 546h15v15h-15z" fill="#0ad173"/>
<path d="M952 546h15v15h-15z" fill="#09d472"/>
<path d="M966 546h15v15h-15z" fill="#09d671"/>
<path d="M980 546h15v15h-15z" fill="#08d970"/>
<path d="M994 546h15v15h-15z" fill="#08db6f"/>
<path d="M1008 546h15v15h-15z" fill="#08dd6e"/>
<path d="M1022 546h15v15h-15z" fill="#08de6d"/>
<path d="M1036 546h15v15h-15z" fill="#08e06d"/>
<path d="M1050 546h15v15h-15z" fill="#07e16c"/>
<path d="M1064 546h15v15h-15z" fill="#07e16c"/>
<path d="M1078 546h15v15h-15z" fill="#06e16c"/>
<path d="M1092 546h15v15h-15z" fill="#06e16c"/>
<path d="M1106 546h15v15h-15z" fill="#06e16c"/>
<path d="M1120 546h15v15h-15z" fill="#07e06c"/>
<path d="M1134 546h15v15h-15z" fill="#08df6c"/>
<path d="M1148 546h15v15h-15z" fill="#0adc6d"/>
<path d="M1162 546h15v15h-15z" fill="#0dd96f"/>
<path d="M714 560h15v15h-15z" fill="#129783"/>
<path d="M728 560h15v15h-15z" fill="#119b85"/>
<path d="M742 560h15v15h-15z" fill="#10a085"/>
<path d="M756 560h15v15h-15z" fill="#0fa484"/>
<path d="M770 560h15v15h-15z" fill="#0ea984"/>
<path d="M784 560h15v15h-15z" fill="#0dad84"/>
<path d="M798 560h15v15h-15z" fill="#0cb183"/>
<path d="M812 560h15v15h-15z" fill="#0bb583"/>
<path d="M826 560h15v15h-15z" fill="#0ab983"/>
<path d="M840 560h15v15h-15z" fill="#0abd83"/>
<path d="M854 560h15v15h-15z" fill="#0ac083"/>
<path d="M868 560h15v15h-15z" fill="#09c383"/>
<path d="M882 560h15v15h-15z" fill="#09c583"/>
<path d="M896 560h15v15h-15z" fill="#09c882"/>
<path d="M910 560h15v15h-15z" fill="#09cb82"/>
<path d="M924 560h15v15h-15z" fill="#08cd81"/>
<path d="M938 560h15v15h-15z" fill="#08d080"/>
<path d="M952 560h15v15h-15z" fill="#08d27f"/>
<path d="M966 560h15v15h-15z" fill="#08d47e"/>
<path d="M980 560h15v15h-15z" fill="#07d67d"/>
<path d="M994 560h15v15h-15z" fill="#06d87c"/>
<path d="M1008 560h15v15h-15z" fill="#06da7b"/>
<path d="M1022 560h15v15h-15z" fill="#06db7a"/>
<path d="M1036 560h15v15h-15z" fill="#06dc7a"/>
<path d="M1050 560h15v15h-15z" fill="#06dd79"/>
<path d="M1064 560h15v15h-15z" fill="#05de79"/>
<path d="M1078 560h15v15h-15z" fill="#05de79"/>
<path d="M1092 560h15v15h-15z" fill="#05de7a"/>
<path d="M1106 560h15v15h-15z" fill="#05de7a"/>
<path d="M1120 560h15v15h-15z" fill="#05dd7a"/>
<path d="M1134 560h15v15h-15z" fill="#06db7b"/>
<path d="M1148 560h15v15h-15z" fill="#08d97c"/>
<path d="M1162 560h15v15h-15z" fill="#0ad67c"/>
<path d="M714 574h15v15h-15z" fill="#10988e"/>
<path d="M728 574h15v15h-15z" fill="#0f9c90"/>
<path d="M742 574h15v15h-15z" fill="#0ea091"/>
<path d="M756 574h15v15h-15z" fill="#0da591"/>
<path d="M770 574h15v15h-15z" fill="#0caa90"/>
<path d="M784 574h15v15h-15z" fill="#0bad90"/>
<path d="M798 574h15v15h-15z" fill="#0ab190"/>
<path d="M812 574h15v15h-15z" fill="#09b590"/>
<path d="M826 574h15v15h-15z" fill="#09b990"/>
<path d="M840 574h15v15h-15z" fill="#08bc90"/>
<path d="M854 574h15v15h-15z" fill="#08bf90"/>
<path d="M868 574h15v15h-15z" fill="#08c290"/>
<path d="M882 574h15v15h-15z" fill="#08c490"/>
<path d="M896 574h15v15h-15z" fill="#07c78f"/>
<path d="M910 574h15v15h-15z" fill="#07c98f"/>
<path d="M924 574h15v15h-15z" fill="#07cb8e"/>
<path d="M938 574h15v15h-15z" fill="#06cd8d"/>
<path d="M952 574h15v15h-15z" fill="#06cf8c"/>
<path d="M966 574h15v15h-15z" fill="#06d18b"/>
<path d="M980 574h15v15h-15z" fill="#05d38a"/>
<path d="M994 574h15v15h-15z" fill="#05d589"/>
<path d="M1008 574h15v15h-15z" fill="#05d788"/>
<path d="M1022 574h15v15h-15z" fill="#05d887"/>
<path d="M1036 574h15v15h-15z" fill="#05d987"/>
<path d="M1050 574h15v15h-15z" fill="#04da86"/>
<path d="M1064 574h15v15h-15z" fill="#04da87"/>
<path d="M1078 574h15v15h-15z" fill="#03db87"/>
<path d="M1092 574h15v15h-15z" fill="#03db88"/>
<path d="M1106 574h15v15h-15z" fill="#03da88"/>
<path d="M1120 574h15v15h-15z" fill="#04d989"/>
<path d="M1134 574h15v15h-15z" fill="#04d889"/>
<path d="M1148 574h15v15h-15z" fill="#06d68a"/>
<path d="M1162 574h15v15h-15z" fill="#08d389"/>
<path d="M728 588h15v15h-15z" fill="#0d9c99"/>
<path d="M742 588h15v15h-15z" fill="#0b9f9b"/>
<path d="M756 588h15v15h-15z" fill="#0ba49c"/>
<path d="M770 588h15v15h-15z" fill="#0aa89c"/>
<path d="M784 588h15v15h-15z" fill="#09ac9c"/>
<path d="M798 588h15v15h-15z" fill="#09b09c"/>
<path d="M812 588h15v15h-15z" fill="#08b49c"/>
<path d="M826 588h15v15h-15z" fill="#07b89c"/>
<path d="M840 588h15v15h-15z" fill="#07bb9c"/>
<path d="M854 588h15v15h-15z" fill="#07bd9b"/>
<path d="M868 588h15v15h-15z" fill="#06c09b"/>
<path d="M882 588h15v15h-15z" fill="#06c29c"/>
<path d="M896 588h15v15h-15z" fill="#06c49c"/>
<path d="M910 588h15v15h-15z" fill="#06c69b"/>
<path d="M924 588h15v15h-15z" fill="#05c89a"/>
<path d="M938 588h15v15h-15z" fill="#05ca99"/>
<path d="M952 588h15v15h-15z" fill="#05cc98"/>
<path d="M966 588h15v15h-15z" fill="#04ce97"/>
<path d="M980 588h15v15h-15z" fill="#04d097"/>
<path d="M994 588h15v15h-15z" fill="#04d296"/>
<path d="M1008 588h15v15h-15z" fill="#03d395"/>
<path d="M1022 588h15v15h-15z" fill="#03d494"/>
<path d="M1036 588h15v15h-15z" fill="#03d593"/>
<path d="M1050 588h15v15h-15z" fill="#03d693"/>
<path d="M1064 588h15v15h-15z" fill="#02d694"/>
<path d="M1078 588h15v15h-15z" fill="#02d795"/>
<path d="M1092 588h15v15h-15z" fill="#02d795"/>
<path d="M1106 588h15v15h-15z" fill="#02d696"/>
<path d="M1120 588h15v15h-15z" fill="#02d596"/>
<path d="M1134 588h15v15h-15z" fill="#03d497"/>
<path d="M1148 588h15v15h-15z" fill="#04d296"/>
<path d="M1162 588h15v15h-15z" fill="#06cf96"/>
<path d="M728 602h15v15h-15z" fill="#0b9aa2"/>
<path d="M742 602h15v15h-15z" fill="#099ea5"/>
<path d="M756 602h15v15h-15z" fill="#08a1a7"/>
<path d="M770 602h15v15h-15z" fill="#08a5a6"/>
<path d="M784 602h15v15h-15z" fill="#08a9a6"/>
<path d="M798 602h15v15h-15z" fill="#07ada6"/>
<path d="M812 602h15v15h-15z" fill="#07b1a6"/>
<path d="M826 602h15v15h-15z" fill="#06b5a6"/>
<path d="M840 602h15v15h-15z" fill="#06b8a6"/>
<path d="M854 602h15v15h-15z" fill="#05bba6"/>
<path d="M868 602h15v15h-15z" fill="#05bda6"/>
<path d="M882 602h15v15h-15z" fill="#05bfa6"/>
<path d="M896 602h15v15h-15z" fill="#05c1a6"/>
<path d="M910 602h15v15h-15z" fill="#04c3a6"/>
<path d="M924 602h15v15h-15z" fill="#04c5a5"/>
<path d="M938 602h15v15h-15z" fill="#04c7a4"/>
<path d="M952 602h15v15h-15z" fill="#03c8a4"/>
<path d="M966 602h15v15h-15z" fill="#03caa3"/>
<path d="M980 602h15v15h-15z" fill="#03cca3"/>
<path d="M994 602h15v15h-15z" fill="#02cea3"/>
<path d="M1008 602h15v15h-15z" fill="#02cfa2"/>
<path d="M1022 602h15v15h-15z" fill="#02d0a1"/>
<path d="M1036 602h15v15h-15z" fill="#02d1a0"/>
<path d="M1050 602h15v15h-15z" fill="#02d1a0"/>
<path d="M1064 602h15v15h-15z" fill="#01d2a1"/>
<path d="M1078 602h15v15h-15z" fill="#01d2a2"/>
<path d="M1092 602h15v15h-15z" fill="#01d2a3"/>
<path d="M1106 602h15v15h-15z" fill="#01d2a3"/>
<path d="M1120 602h15v15h-15z" fill="#01d1a4"/>
<path d="M1134 602h15v15h-15z" fill="#02d0a4"/>
<path d="M1148 602h15v15h-15z" fill="#02cea3"/>
<path d="M1162 602h15v15h-15z" fill="#04cba2"/>
<path d="M742 616h15v15h-15z" fill="#089cab"/>
<path d="M756 616h15v15h-15z" fill="#079fad"/>
<path d="M770 616h15v15h-15z" fill="#07a3ae"/>
<path d="M784 616h15v15h-15z" fill="#06a6ae"/>
<path d="M798 616h15v15h-15z" fill="#06aaaf"/>
<path d="M812 616h15v15h-15z" fill="#06adaf"/>
<path d="M826 616h15v15h-15z" fill="#05b1af"/>
<path d="M840 616h15v15h-15z" fill="#05b5b0"/>
<path d="M854 616h15v15h-15z" fill="#04b7af"/>
<path d="M868 616h15v15h-15z" fill="#04b9af"/>
<path d="M882 616h15v15h-15z" fill="#04bbaf"/>
<path d="M896 616h15v15h-15z" fill="#03bdb0"/>
<path d="M910 616h15v15h-15z" fill="#03bfb0"/>
<path d="M924 616h15v15h-15z" fill="#03c1af"/>
<path d="M938 616h15v15h-15z" fill="#02c3af"/>
<path d="M952 616h15v15h-15z" fill="#02c4ae"/>
<path d="M966 616h15v15h-15z" fill="#02c6ae"/>
<path d="M980 616h15v15h-15z" fill="#01c8af"/>
<path d="M994 616h15v15h-15z" fill="#01caae"/>
<path d="M1008 616h15v15h-15z" fill="#01cbae"/>
<path d="M1022 616h15v15h-15z" fill="#01cbad"/>
<path d="M1036 616h15v15h-15z" fill="#01ccac"/>
<path d="M1050 616h15v15h-15z" fill="#01ccac"/>
<path d="M1064 616h15v15h-15z" fill="#01cdad"/>
<path d="M1078 616h15v15h-15z" fill="#01cdae"/>
<path d="M1092 616h15v15h-15z" fill="#00cdaf"/>
<path d="M1106 616h15v15h-15z" fill="#00cdb0"/>
<path d="M1120 616h15v15h-15z" fill="#00ccb0"/>
<path d="M1134 616h15v15h-15z" fill="#01cbb1"/>
<path d="M1148 616h15v15h-15z" fill="#01c9b0"/>
<path d="M1162 616h15v15h-15z" fill="#03c6ae"/>
<path d="M756 630h15v15h-15z" fill="#069db2"/>
<path d="M770 630h15v15h-15z" fill="#06a0b4"/>
<path d="M784 630h15v15h-15z" fill="#05a3b5"/>
<path d="M798 630h15v15h-15z" fill="#05a6b5"/>
<path d="M812 630h15v15h-15z" fill="#05a9b5"/>
<path d="M826 630h15v15h-15z" fill="#04acb6"/>
<path d="M840 630h15v15h-15z" fill="#04b0b7"/>
<path d="M854 630h15v15h-15z" fill="#04b3b7"/>
<path d="M868 630h15v15h-15z" fill="#03b5b7"/>
<path d="M882 630h15v15h-15z" fill="#03b7b7"/>
<path d="M896 630h15v15h-15z" fill="#02b8b8"/>
<path d="M910 630h15v15h-15z" fill="#02bbb9"/>
<path d="M924 630h15v15h-15z" fill="#02bcb8"/>
<path d="M938 630h15v15h-15z" fill="#02beb8"/>
<path d="M952 630h15v15h-15z" fill="#01bfb7"/>
<path d="M966 630h15v15h-15z" fill="#01c1b8"/>
<path d="M980 630h15v15h-15z" fill="#01c3b9"/>
<path d="M994 630h15v15h-15z" fill="#00c5ba"/>
<path d="M1008 630h15v15h-15z" fill="#00c6b8"/>
<path d="M1022 630h15v15h-15z" fill="#00c6b7"/>
<path d="M1036 630h15v15h-15z" fill="#00c6b7"/>
<path d="M1050 630h15v15h-15z" fill="#00c6b7"/>
<path d="M1064 630h15v15h-15z" fill="#00c7b9"/>
<path d="M1078 630h15v15h-15z" fill="#00c8ba"/>
<path d="M1092 630h15v15h-15z" fill="#00c8ba"/>
<path d="M1106 630h15v15h-15z" fill="#00c7bb"/>
<path d="M1120 630h15v15h-15z" fill="#00c6bc"/>
<path d="M1134 630h15v15h-15z" fill="#00c5bd"/>
<path d="M1148 630h15v15h-15z" fill="#01c3bd"/>
<path d="M1162 630h15v15h-15z" fill="#02c0ba"/>
<path d="M784 644h15v15h-15z" fill="#05a0b9"/>
<path d="M798 644h15v15h-15z" fill="#04a2ba"/>
<path d="M812 644h15v15h-15z" fill="#04a4ba"/>
<path d="M826 644h15v15h-15z" fill="#04a7bb"/>
<path d="M840 644h15v15h-15z" fill="#03aabc"/>
<path d="M854 644h15v15h-15z" fill="#03adbd"/>
<path d="M868 644h15v15h-15z" fill="#03afbd"/>
<path d="M882 644h15v15h-15z" fill="#02b1be"/>
<path d="M896 644h15v15h-15z" fill="#02b2be"/>
<path d="M910 644h15v15h-15z" fill="#01b4bf"/>
<path d="M924 644h15v15h-15z" fill="#01b6bf"/>
<path d="M938 644h15v15h-15z" fill="#01b7bf"/>
<path d="M952 644h15v15h-15z" fill="#01b9bf"/>
<path d="M966 644h15v15h-15z" fill="#00bbbf"/>
<path d="M980 644h15v15h-15z" fill="#00bcc0"/>
<path d="M994 644h15v15h-15z" fill="#00bec1"/>
<path d="M1008 644h15v15h-15z" fill="#00bfc0"/>
<path d="M1022 644h15v15h-15z" fill="#00bfc0"/>
<path d="M1036 644h15v15h-15z" fill="#00bfc0"/>
<path d="M1050 644h15v15h-15z" fill="#00bfc0"/>
<path d="M1064 644h15v15h-15z" fill="#00c0c2"/>
<path d="M1078 644h15v15h-15z" fill="#00c1c3"/>
<path d="M1092 644h15v15h-15z" fill="#00c1c3"/>
<path d="M1106 644h15v15h-15z" fill="#00c0c4"/>
<path d="M1120 644h15v15h-15z" fill="#00bec5"/>
<path d="M1134 644h15v15h-15z" fill="#00bdc6"/>
<path d="M1148 644h15v15h-15z" fill="#00bcc6"/>
<path d="M1162 644h15v15h-15z" fill="#01b9c3"/>
<path d="M812 658h15v15h-15z" fill="#04a0bf"/>
<path d="M826 658h15v15h-15z" fill="#03a2c0"/>
<path d="M840 658h15v15h-15z" fill="#03a5c1"/>
<path d="M854 658h15v15h-15z" fill="#03a7c2"/>
<path d="M868 658h15v15h-15z" fill="#02aac2"/>
<path d="M882 658h15v15h-15z" fill="#02abc3"/>
<path d="M896 658h15v15h-15z" fill="#01abc3"/>
<path d="M910 658h15v15h-15z" fill="#01acc4"/>
<path d="M924 658h15v15h-15z" fill="#01aec4"/>
<path d="M938 658h15v15h-15z" fill="#00b0c4"/>
<path d="M952 658h15v15h-15z" fill="#00b2c5"/>
<path d="M966 658h15v15h-15z" fill="#00b3c5"/>
<path d="M980 658h15v15h-15z" fill="#00b4c6"/>
<path d="M994 658h15v15h-15z" fill="#00b6c7"/>
<path d="M1008 658h15v15h-15z" fill="#00b8c7"/>
<path d="M1022 658h15v15h-15z" fill="#00b8c6"/>
<path d="M1036 658h15v15h-15z" fill="#00b6c6"/>
<path d="M1050 658h15v15h-15z" fill="#00b6c7"/>
<path d="M1064 658h15v15h-15z" fill="#00b7c8"/>
<path d="M1078 658h15v15h-15z" fill="#00b8c9"/>
<path d="M1092 658h15v15h-15z" fill="#00b9ca"/>
<path d="M1106 658h15v15h-15z" fill="#00b7cb"/>
<path d="M1120 658h15v15h-15z" fill="#00b5cb"/>
<path d="M1134 658h15v15h-15z" fill="#00b4cc"/>
<path d="M1148 658h15v15h-15z" fill="#00b3cb"/>
<path d="M1162 658h15v15h-15z" fill="#01b0c8"/>
<path d="M826 672h15v15h-15z" fill="#039ec4"/>
<path d="M840 672h15v15h-15z" fill="#02a0c5"/>
<path d="M854 672h15v15h-15z" fill="#02a2c6"/>
<path d="M868 672h15v15h-15z" fill="#02a3c6"/>
<path d="M882 672h15v15h-15z" fill="#01a3c7"/>
<path d="M896 672h15v15h-15z" fill="#01a3c8"/>
<path d="M910 672h15v15h-15z" fill="#01a3c8"/>
<path d="M924 672h15v15h-15z" fill="#00a5c8"/>
<path d="M938 672h15v15h-15z" fill="#00a8c9"/>
<path d="M952 672h15v15h-15z" fill="#00a9c9"/>
<path d="M966 672h15v15h-15z" fill="#00a9ca"/>
<path d="M980 672h15v15h-15z" fill="#00aaca"/>
<path d="M994 672h15v15h-15z" fill="#00adcb"/>
<path d="M1008 672h15v15h-15z" fill="#00b0cc"/>
<path d="M1022 672h15v15h-15z" fill="#00aecb"/>
<path d="M1036 672h15v15h-15z" fill="#00abcb"/>
<path d="M1050 672h15v15h-15z" fill="#00aacb"/>
<path d="M1064 672h15v15h-15z" fill="#00abcc"/>
<path d="M1078 672h15v15h-15z" fill="#00adce"/>
<path d="M1092 672h15v15h-15z" fill="#00b1d0"/>
<path d="M1106 672h15v15h-15z" fill="#00abcf"/>
<path d="M1120 672h15v15h-15z" fill="#00a8cf"/>
<path d="M1134 672h15v15h-15z" fill="#00a7cf"/>
<path d="M1148 672h15v15h-15z" fill="#00a8d0"/>
<path d="M1162 672h15v15h-15z" fill="#01a5cd"/>
<path d="M854 686h15v15h-15z" fill="#019cc9"/>
<path d="M868 686h15v15h-15z" fill="#019dca"/>
<path d="M882 686h15v15h-15z" fill="#019ccb"/>
<path d="M896 686h15v15h-15z" fill="#009bcb"/>
<path d="M910 686h15v15h-15z" fill="#009acb"/>
<path d="M924 686h15v15h-15z" fill="#009ccc"/>
<path d="M938 686h15v15h-15z" fill="#009ecd"/>
<path d="M952 686h15v15h-15z" fill="#009ecd"/>
<path d="M966 686h15v15h-15z" fill="#009ecd"/>
<path d="M980 686h15v15h-15z" fill="#009fce"/>
<path d="M994 686h15v15h-15z" fill="#00a1ce"/>
<path d="M1008 686h15v15h-15z" fill="#00a3cf"/>
<path d="M1022 686h15v15h-15z" fill="#00a1ce"/>
<path d="M1036 686h15v15h-15z" fill="#009ece"/>
<path d="M1050 686h15v15h-15z" fill="#009cce"/>
<path d="M1064 686h15v15h-15z" fill="#009dcf"/>
<path d="M1078 686h15v15h-15z" fill="#009dd0"/>
<path d="M1092 686h15v15h-15z" fill="#009dd1"/>
<path d="M1106 686h15v15h-15z" fill="#009ad1"/>
<path d="M1120 686h15v15h-15z" fill="#0098d1"/>
<path d="M1134 686h15v15h-15z" fill="#0096d1"/>
<path d="M1148 686h15v15h-15z" fill="#0095d0"/>
<path d="M1162 686h15v15h-15z" fill="#0196ce"/>
<path d="M882 700h15v15h-15z" fill="#0096ce"/>
<path d="M896 700h15v15h-15z" fill="#0095ce"/>
<path d="M910 700h15v15h-15z" fill="#0094cf"/>
<path d="M924 700h15v15h-15z" fill="#0094cf"/>
<path d="M938 700h15v15h-15z" fill="#0095d0"/>
<path d="M952 700h15v15h-15z" fill="#0095d0"/>
<path d="M966 700h15v15h-15z" fill="#0094d0"/>
<path d="M980 700h15v15h-15z" fill="#0094d1"/>
<path d="M994 700h15v15h-15z" fill="#0096d1"/>
<path d="M1008 700h15v15h-15z" fill="#0096d1"/>
<path d="M1022 700h15v15h-15z" fill="#0094d1"/>
<path d="M1036 700h15v15h-15z" fill="#008fd0"/>
<path d="M1050 700h15v15h-15z" fill="#008ed0"/>
<path d="M1064 700h15v15h-15z" fill="#008ed1"/>
<path d="M1078 700h15v15h-15z" fill="#008ed1"/>
<path d="M1092 700h15v15h-15z" fill="#008ad1"/>
<path d="M1106 700h15v15h-15z" fill="#0087d0"/>
<path d="M1120 700h15v15h-15z" fill="#0088d1"/>
<path d="M1134 700h15v15h-15z" fill="#0087d1"/>
<path d="M1148 700h15v15h-15z" fill="#0084d0"/>
<path d="M1162 700h15v15h-15z" fill="#0188cf"/>
<path d="M938 714h15v15h-15z" fill="#008fd3"/>
<path d="M952 714h15v15h-15z" fill="#008ed3"/>
<path d="M966 714h15v15h-15z" fill="#008dd3"/>
<path d="M980 714h15v15h-15z" fill="#008dd3"/>
<path d="M994 714h15v15h-15z" fill="#008dd4"/>
<path d="M1008 714h15v15h-15z" fill="#008cd3"/>
<path d="M1022 714h15v15h-15z" fill="#0089d3"/>
<path d="M1036 714h15v15h-15z" fill="#0085d2"/>
<path d="M1050 714h15v15h-15z" fill="#0083d2"/>
<path d="M1064 714h15v15h-15z" fill="#0083d2"/>
<path d="M1078 714h15v15h-15z" fill="#0082d3"/>
<path d="M1092 714h15v15h-15z" fill="#007fd2"/>
<path d="M1106 714h15v15h-15z" fill="#007cd2"/>
<path d="M1120 714h15v15h-15z" fill="#007dd2"/>
<path d="M1134 714h15v15h-15z" fill="#007dd2"/>
<path d="M1008 728h15v15h-15z" fill="#0084d6"/>
<path d="M1022 728h15v15h-15z" fill="#0082d5"/>
<path d="M1036 728h15v15h-15z" fill="#007fd5"/>
<path d="M1050 728h15v15h-15z" fill="#007dd5"/>
<path d="M1064 728h15v15h-15z" fill="#007cd5"/>
<path d="M1078 728h15v15h-15z" fill="#007ad4"/>
<path d="M1092 728h15v15h-15z" fill="#0078d4"/>
<path d="M1106 728h15v15h-15z" fill="#0077d4"/>
<path d="M1120 728h15v15h-15z" fill="#0077d4"/>
<path d="M1134 728h15v15h-15z" fill="#0078d4"/>
<path d="M1148 728h15v15h-15z" fill="#0079d3"/>
</g>
</g>
<path d="M738.7 592.4C743.9 597.7 759.1 615.2 770.0 624.0C780.9 632.8 793.6 638.6 804.0 645.4C814.4 652.2 822.9 659.1 832.3 665.0C841.7 670.9 848.7 675.5 860.5 680.7C872.3 685.9 888.0 691.1 902.9 696.0C917.8 700.9 935.3 706.5 950.0 710.0C964.7 713.5 974.7 714.2 991.0 716.8C1007.3 719.3 1028.8 723.9 1047.6 725.3C1066.4 726.7 1084.7 726.9 1104.0 725.3C1123.3 723.6 1153.4 717.0 1163.3 715.4" fill="none" stroke="#30e0a0" stroke-opacity="0.8" stroke-width="2"/>
<g stroke="#000" stroke-width="2.6" fill="none">
<path d="M381.4 1007.6h15.5M363.1 928.1h9.5M350.4 881.5h9.5M341.3 848.5h9.5M334.3 822.9h9.5M328.6 802.0h9.5M323.8 784.3h9.5M319.6 769.0h9.5M315.9 755.5h9.5M309.1 743.4h15.5M290.8 663.9h9.5M278.0 617.3h9.5M269.0 584.3h9.5M262.0 558.7h9.5M256.3 537.8h9.5M251.4 520.1h9.5M247.2 504.8h9.5M243.5 491.3h9.5M236.7 479.2h15.5M218.5 399.7h9.5M205.7 353.1h9.5M196.7 320.1h9.5M189.7 294.5h9.5"/>
<path d="M500.0 1008v9M576.7 1008v9M636.2 1008v9M684.8 1008v9M725.9 1008v9M761.5 1008v9M792.9 1008v9M821.0 1008v14M1005.8 1008v9M1114.0 1008v9M1190.7 1008v9"/>
<path d="M1248.8 492V1018" stroke-width="3.2"/>
<path d="M1249 1004.7h15M1249 888.1h15M1249 771.5h15M1249 654.9h15M1249 538.3h15" stroke-width="3"/>
</g>
<g font-family="Liberation Sans, sans-serif" fill="#000" style="font-kerning:none">
<text x="1268.50" y="1026.00" font-size="82">0</text>
<path transform="translate(1266.50 913.10) scale(0.04004 -0.04004)" d="M763 0H583V1147Q518 1085 412.5 1023Q307 961 223 930V1104Q374 1175 487 1276Q600 1377 647 1472H763Z"/>
<text x="1268.50" y="798.50" font-size="82">2</text>
<text x="1268.50" y="682.90" font-size="82">3</text>
<text x="1268.50" y="566.60" font-size="82">4</text>
<path transform="translate(139.79 504.50) scale(0.04004 -0.04004)" d="M763 0H583V1147Q518 1085 412.5 1023Q307 961 223 930V1104Q374 1175 487 1276Q600 1377 647 1472H763Z"/><text x="185.40" y="504.50" font-size="82">0</text>
<path transform="translate(263.90 767.50) scale(0.04004 -0.04004)" d="M763 0H583V1147Q518 1085 412.5 1023Q307 961 223 930V1104Q374 1175 487 1276Q600 1377 647 1472H763Z"/>
<text x="273.01" y="1031.50" font-size="82">0.</text><path transform="translate(341.40 1031.50) scale(0.04004 -0.04004)" d="M763 0H583V1147Q518 1085 412.5 1023Q307 961 223 930V1104Q374 1175 487 1276Q600 1377 647 1472H763Z"/>
<text x="615.20" y="1092.50" font-size="82">5</text>
<path transform="translate(776.40 1092.50) scale(0.04004 -0.04004)" d="M763 0H583V1147Q518 1085 412.5 1023Q307 961 223 930V1104Q374 1175 487 1276Q600 1377 647 1472H763Z"/><text x="822.00" y="1092.50" font-size="82">0</text>
<text x="1197.40" y="1092.50" font-size="82">50</text>
<g transform="translate(369 1166.5)"><text x="0.00" y="0.00" font-size="79.4">Electron density (</text><path transform="translate(613.41 0.00) scale(0.03877 -0.03877)" d="M763 0H583V1147Q518 1085 412.5 1023Q307 961 223 930V1104Q374 1175 487 1276Q600 1377 647 1472H763Z"/><text x="657.57" y="0.00" font-size="79.4">0</text><path transform="translate(705.73 -20.00) scale(0.02979 -0.02979)" d="M763 0H583V1147Q518 1085 412.5 1023Q307 961 223 930V1104Q374 1175 487 1276Q600 1377 647 1472H763Z"/><text x="739.65" y="-20.00" font-size="61">9</text><text x="791.64" y="0.00" font-size="79.4">cm</text><text x="897.48" y="-20.00" font-size="61">-3</text><text x="958.72" y="0.00" font-size="79.4">)</text></g>
<g transform="translate(278 1087) rotate(-105)"><text x="0.00" y="0.00" font-size="79.4">Hole density (</text><path transform="translate(485.43 0.00) scale(0.03877 -0.03877)" d="M763 0H583V1147Q518 1085 412.5 1023Q307 961 223 930V1104Q374 1175 487 1276Q600 1377 647 1472H763Z"/><text x="529.59" y="0.00" font-size="79.4">0</text><path transform="translate(577.75 -20.00) scale(0.02979 -0.02979)" d="M763 0H583V1147Q518 1085 412.5 1023Q307 961 223 930V1104Q374 1175 487 1276Q600 1377 647 1472H763Z"/><text x="611.68" y="-20.00" font-size="61">9</text><text x="663.66" y="0.00" font-size="79.4">cm</text><text x="769.50" y="-20.00" font-size="61">-3</text><text x="830.74" y="0.00" font-size="79.4">)</text></g>
<g transform="translate(1394.5 1036) rotate(-90)"><text x="0.00" y="0.00" font-size="79.4">Optical gain (</text><path transform="translate(467.79 0.00) scale(0.03877 -0.03877)" d="M763 0H583V1147Q518 1085 412.5 1023Q307 961 223 930V1104Q374 1175 487 1276Q600 1377 647 1472H763Z"/><text x="511.95" y="0.00" font-size="79.4">0</text><text x="560.11" y="-20.00" font-size="61">3</text><text x="612.10" y="0.00" font-size="79.4">cm</text><text x="717.94" y="-20.00" font-size="61">-</text><path transform="translate(738.25 -20.00) scale(0.02979 -0.02979)" d="M763 0H583V1147Q518 1085 412.5 1023Q307 961 223 930V1104Q374 1175 487 1276Q600 1377 647 1472H763Z"/><text x="779.17" y="0.00" font-size="79.4">)</text></g>
<text x="1230.00" y="50.00" font-size="65">0.25%</text>
<text x="1209.50" y="194.50" font-size="65">0.0%</text>
</g>
<g fill="#000" stroke="#000">
<path d="M1186.5 20.8L1219.7 14.5" stroke-width="5.2" fill="none"/>
<path d="M1143.6 28.6L1183.9 8.5L1189 33.6Z" stroke="none"/>
<path d="M1166.5 198L1198.4 187.9" stroke-width="5.2" fill="none"/>
<path d="M1124.2 209.8L1163.8 185.7L1169.4 209.8Z" stroke="none"/>
</g>
</svg>
</body></html>
